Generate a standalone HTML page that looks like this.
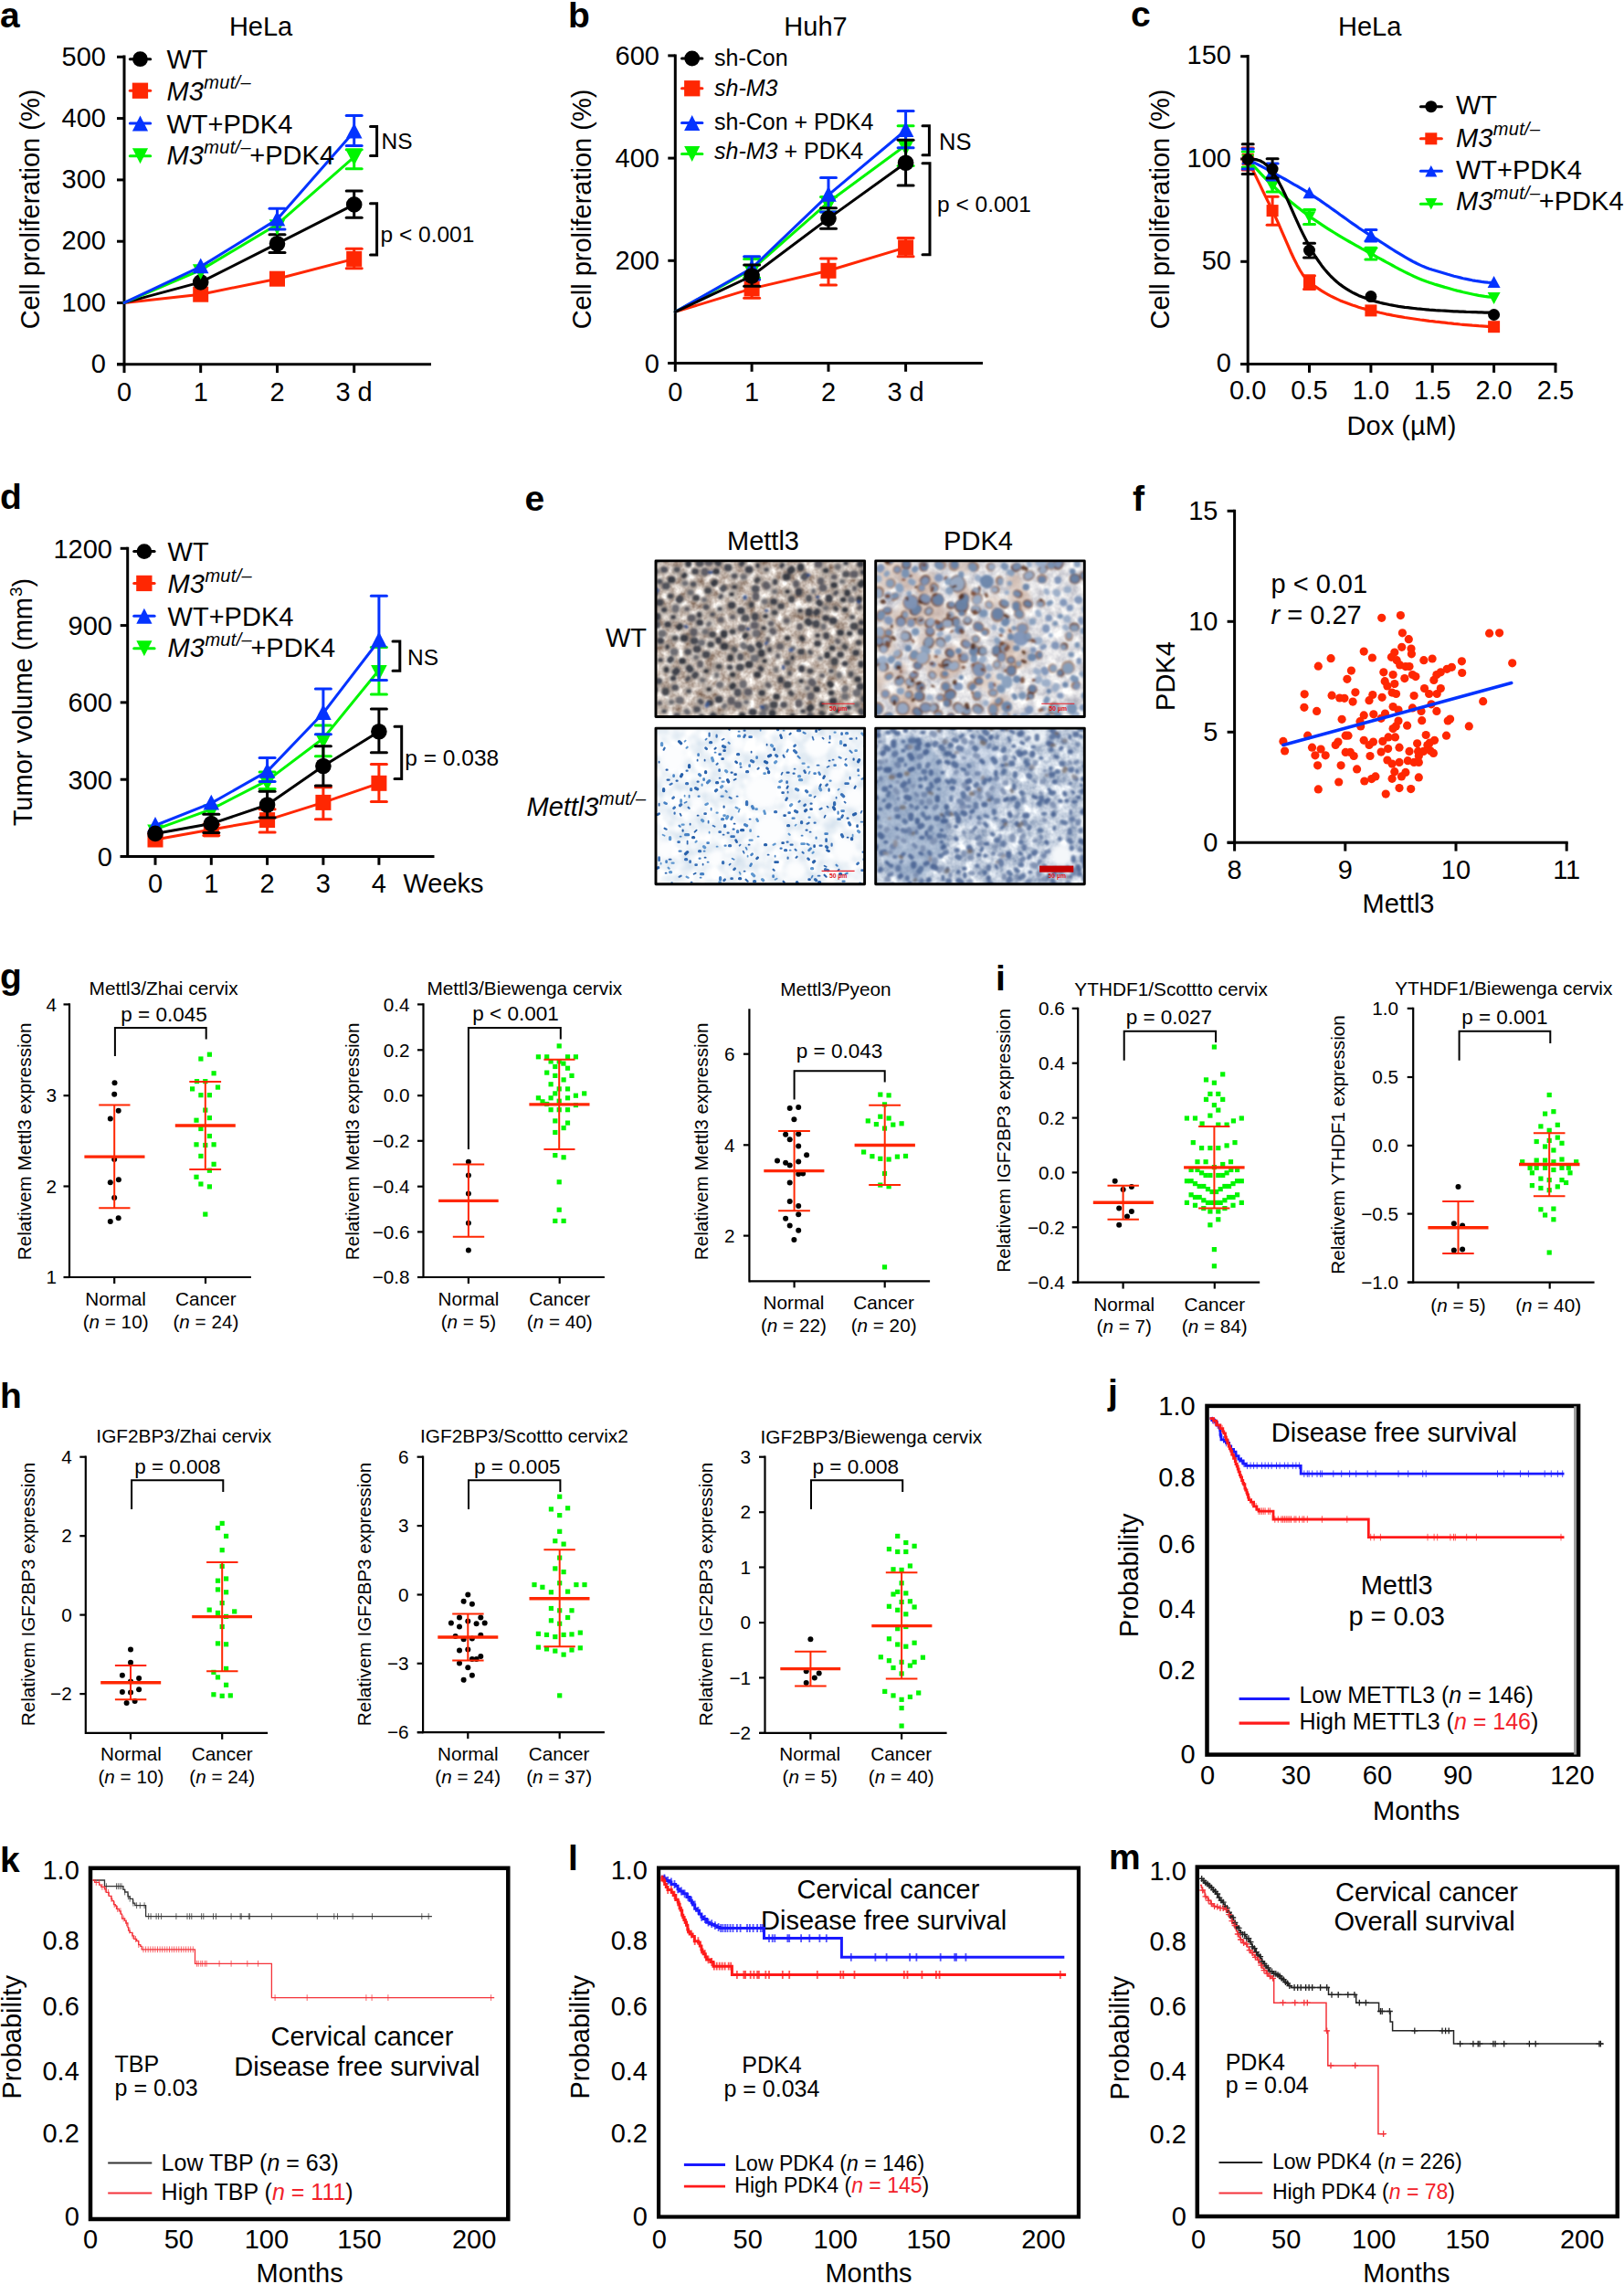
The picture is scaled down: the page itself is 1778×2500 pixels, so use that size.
<!DOCTYPE html>
<html><head><meta charset="utf-8"><title>Figure</title>
<style>html,body{margin:0;padding:0;background:#fff}svg{display:block}text{font-family:"Liberation Sans",Arial,Helvetica,sans-serif}</style></head>
<body>
<svg width="1778" height="2500" viewBox="0 0 1778 2500">
<rect width="1778" height="2500" fill="#fff"/>
<g id="pa">
<text x="0" y="29.5" font-size="39" font-weight="bold">a</text>
<text x="285.6" y="39" font-size="29" text-anchor="middle">HeLa</text>
<line x1="136" y1="60.5" x2="136" y2="400.3" stroke="#000" stroke-width="3"/>
<line x1="128" y1="398.8" x2="472" y2="398.8" stroke="#000" stroke-width="3"/>
<line x1="128" y1="398.8" x2="136" y2="398.8" stroke="#000" stroke-width="3"/>
<text x="116" y="408" font-size="29" text-anchor="end">0</text>
<line x1="128" y1="331.5" x2="136" y2="331.5" stroke="#000" stroke-width="3"/>
<text x="116" y="340.7" font-size="29" text-anchor="end">100</text>
<line x1="128" y1="264.2" x2="136" y2="264.2" stroke="#000" stroke-width="3"/>
<text x="116" y="273.4" font-size="29" text-anchor="end">200</text>
<line x1="128" y1="196.9" x2="136" y2="196.9" stroke="#000" stroke-width="3"/>
<text x="116" y="206.1" font-size="29" text-anchor="end">300</text>
<line x1="128" y1="129.6" x2="136" y2="129.6" stroke="#000" stroke-width="3"/>
<text x="116" y="138.8" font-size="29" text-anchor="end">400</text>
<line x1="128" y1="62.3" x2="136" y2="62.3" stroke="#000" stroke-width="3"/>
<text x="116" y="71.5" font-size="29" text-anchor="end">500</text>
<line x1="136" y1="398.8" x2="136" y2="408.1" stroke="#000" stroke-width="3"/>
<line x1="219.7" y1="398.8" x2="219.7" y2="408.1" stroke="#000" stroke-width="3"/>
<line x1="303.5" y1="398.8" x2="303.5" y2="408.1" stroke="#000" stroke-width="3"/>
<line x1="387.7" y1="398.8" x2="387.7" y2="408.1" stroke="#000" stroke-width="3"/>
<text x="136" y="439" font-size="29" text-anchor="middle">0</text>
<text x="219.7" y="439" font-size="29" text-anchor="middle">1</text>
<text x="303.5" y="439" font-size="29" text-anchor="middle">2</text>
<text x="387.6" y="439" font-size="29" text-anchor="middle">3 d</text>
<text x="43" y="229" font-size="29" text-anchor="middle" transform="rotate(-90 43 229)">Cell proliferation (%)</text>
<polyline points="136,331.4 219.7,322.2 303.5,305.2 387.7,283.4" fill="none" stroke="#FF2702" stroke-width="3" stroke-linejoin="round" stroke-linecap="round"/>
<line x1="387.7" y1="272.3" x2="387.7" y2="293.7" stroke="#FF2702" stroke-width="3"/>
<line x1="379.2" y1="272.3" x2="396.2" y2="272.3" stroke="#FF2702" stroke-width="3" stroke-linecap="round"/>
<line x1="379.2" y1="293.7" x2="396.2" y2="293.7" stroke="#FF2702" stroke-width="3" stroke-linecap="round"/>
<line x1="303.5" y1="300" x2="303.5" y2="310.5" stroke="#FF2702" stroke-width="3"/>
<line x1="303.5" y1="300" x2="303.5" y2="300" stroke="#FF2702" stroke-width="3" stroke-linecap="round"/>
<line x1="303.5" y1="310.5" x2="303.5" y2="310.5" stroke="#FF2702" stroke-width="3" stroke-linecap="round"/>
<rect x="211.2" y="313.7" width="17" height="17" fill="#FF2702"/>
<rect x="295" y="296.7" width="17" height="17" fill="#FF2702"/>
<rect x="379.2" y="274.9" width="17" height="17" fill="#FF2702"/>
<polyline points="136,331.4 219.7,308.9 303.5,266.7 387.7,223.9" fill="none" stroke="#000" stroke-width="3" stroke-linejoin="round" stroke-linecap="round"/>
<line x1="387.7" y1="209" x2="387.7" y2="238.3" stroke="#000" stroke-width="3"/>
<line x1="379.2" y1="209" x2="396.2" y2="209" stroke="#000" stroke-width="3" stroke-linecap="round"/>
<line x1="379.2" y1="238.3" x2="396.2" y2="238.3" stroke="#000" stroke-width="3" stroke-linecap="round"/>
<line x1="303.5" y1="256.8" x2="303.5" y2="276.4" stroke="#000" stroke-width="3"/>
<line x1="295" y1="256.8" x2="312" y2="256.8" stroke="#000" stroke-width="3" stroke-linecap="round"/>
<line x1="295" y1="276.4" x2="312" y2="276.4" stroke="#000" stroke-width="3" stroke-linecap="round"/>
<circle cx="219.7" cy="308.9" r="8.8" fill="#000"/>
<circle cx="303.5" cy="266.7" r="8.8" fill="#000"/>
<circle cx="387.7" cy="223.9" r="8.8" fill="#000"/>
<polyline points="136,331.4 219.7,295.6 303.5,245.7 387.7,171.8" fill="none" stroke="#00F500" stroke-width="3" stroke-linejoin="round" stroke-linecap="round"/>
<line x1="387.7" y1="163.8" x2="387.7" y2="184.7" stroke="#00F500" stroke-width="3"/>
<line x1="379.2" y1="163.8" x2="396.2" y2="163.8" stroke="#00F500" stroke-width="3" stroke-linecap="round"/>
<line x1="379.2" y1="184.7" x2="396.2" y2="184.7" stroke="#00F500" stroke-width="3" stroke-linecap="round"/>
<line x1="303.5" y1="240" x2="303.5" y2="255" stroke="#00F500" stroke-width="3"/>
<line x1="303.5" y1="240" x2="303.5" y2="240" stroke="#00F500" stroke-width="3" stroke-linecap="round"/>
<line x1="303.5" y1="255" x2="303.5" y2="255" stroke="#00F500" stroke-width="3" stroke-linecap="round"/>
<polygon points="219.7,306 210.9,289.2 228.5,289.2" fill="#00F500"/>
<polygon points="303.5,257.1 294.7,240.3 312.3,240.3" fill="#00F500"/>
<polygon points="387.7,181.2 378.9,164.4 396.5,164.4" fill="#00F500"/>
<polyline points="136,331.4 219.7,291.9 303.5,240.1 387.7,144.1" fill="none" stroke="#0433FF" stroke-width="3" stroke-linejoin="round" stroke-linecap="round"/>
<line x1="387.7" y1="126.5" x2="387.7" y2="159.6" stroke="#0433FF" stroke-width="3"/>
<line x1="379.2" y1="126.5" x2="396.2" y2="126.5" stroke="#0433FF" stroke-width="3" stroke-linecap="round"/>
<line x1="379.2" y1="159.6" x2="396.2" y2="159.6" stroke="#0433FF" stroke-width="3" stroke-linecap="round"/>
<line x1="303.5" y1="228.3" x2="303.5" y2="251" stroke="#0433FF" stroke-width="3"/>
<line x1="295" y1="228.3" x2="312" y2="228.3" stroke="#0433FF" stroke-width="3" stroke-linecap="round"/>
<line x1="295" y1="251" x2="312" y2="251" stroke="#0433FF" stroke-width="3" stroke-linecap="round"/>
<polygon points="219.7,282.5 210.9,299.3 228.5,299.3" fill="#0433FF"/>
<polygon points="303.5,230.7 294.7,247.5 312.3,247.5" fill="#0433FF"/>
<polygon points="387.7,134.7 378.9,151.5 396.5,151.5" fill="#0433FF"/>
<line x1="142.3" y1="64.7" x2="164.7" y2="64.7" stroke="#000" stroke-width="3" stroke-linecap="round"/>
<circle cx="153.5" cy="64.7" r="8.4" fill="#000"/>
<line x1="142.3" y1="99.3" x2="164.7" y2="99.3" stroke="#FF2702" stroke-width="3" stroke-linecap="round"/>
<rect x="144.8" y="90.6" width="17.3" height="17.3" fill="#FF2702"/>
<line x1="142.3" y1="134.9" x2="164.7" y2="134.9" stroke="#0433FF" stroke-width="3" stroke-linecap="round"/>
<polygon points="153.5,126.4 144.9,143.4 162.1,143.4" fill="#0433FF"/>
<line x1="142.3" y1="170.8" x2="164.7" y2="170.8" stroke="#00F500" stroke-width="3" stroke-linecap="round"/>
<polygon points="153.5,179.3 144.9,162.3 162.1,162.3" fill="#00F500"/>
<text x="182.5" y="74.5" font-size="29">WT</text>
<text x="182.5" y="109.5" font-size="29"><tspan font-style="italic">M3</tspan><tspan font-style="italic" font-size="20" dy="-12.2" dx="0.5" letter-spacing="0.3">mut/–</tspan></text>
<text x="182.5" y="146" font-size="29">WT+PDK4</text>
<text x="182.5" y="180.2" font-size="29"><tspan font-style="italic">M3</tspan><tspan font-style="italic" font-size="20" dy="-12.2" dx="0.5" letter-spacing="0.3">mut/–</tspan><tspan dy="12.2" dx="-1.5">+PDK4</tspan></text>
<polyline points="405.5,138.5 412.6,138.5 412.6,170.5 405.5,170.5" fill="none" stroke="#000" stroke-width="3" stroke-linejoin="miter" stroke-linecap="round"/>
<text x="417.5" y="162.5" font-size="24.5">NS</text>
<polyline points="405.5,222.8 412.6,222.8 412.6,278.9 405.5,278.9" fill="none" stroke="#000" stroke-width="3" stroke-linejoin="miter" stroke-linecap="round"/>
<text x="416.5" y="264.5" font-size="24.5">p &lt; 0.001</text>
</g>
<g id="pb">
<text x="622" y="29.5" font-size="39" font-weight="bold">b</text>
<text x="893" y="39" font-size="29" text-anchor="middle">Huh7</text>
<line x1="739.3" y1="59.5" x2="739.3" y2="399" stroke="#000" stroke-width="3"/>
<line x1="731.3" y1="397.5" x2="1076" y2="397.5" stroke="#000" stroke-width="3"/>
<line x1="731.3" y1="397.5" x2="739.3" y2="397.5" stroke="#000" stroke-width="3"/>
<text x="722" y="407.5" font-size="29" text-anchor="end">0</text>
<line x1="731.3" y1="285.3" x2="739.3" y2="285.3" stroke="#000" stroke-width="3"/>
<text x="722" y="295.3" font-size="29" text-anchor="end">200</text>
<line x1="731.3" y1="173.1" x2="739.3" y2="173.1" stroke="#000" stroke-width="3"/>
<text x="722" y="183.1" font-size="29" text-anchor="end">400</text>
<line x1="731.3" y1="60.9" x2="739.3" y2="60.9" stroke="#000" stroke-width="3"/>
<text x="722" y="70.9" font-size="29" text-anchor="end">600</text>
<line x1="739.3" y1="397.5" x2="739.3" y2="406.8" stroke="#000" stroke-width="3"/>
<line x1="823.1" y1="397.5" x2="823.1" y2="406.8" stroke="#000" stroke-width="3"/>
<line x1="907" y1="397.5" x2="907" y2="406.8" stroke="#000" stroke-width="3"/>
<line x1="991.6" y1="397.5" x2="991.6" y2="406.8" stroke="#000" stroke-width="3"/>
<text x="739.3" y="439" font-size="29" text-anchor="middle">0</text>
<text x="823.1" y="439" font-size="29" text-anchor="middle">1</text>
<text x="907" y="439" font-size="29" text-anchor="middle">2</text>
<text x="991.6" y="439" font-size="29" text-anchor="middle">3 d</text>
<text x="647" y="229" font-size="29" text-anchor="middle" transform="rotate(-90 647 229)">Cell proliferation (%)</text>
<polyline points="739.3,341.4 823.1,315.9 907,296.3 991.6,270.9" fill="none" stroke="#FF2702" stroke-width="3" stroke-linejoin="round" stroke-linecap="round"/>
<line x1="823.1" y1="306" x2="823.1" y2="326.2" stroke="#FF2702" stroke-width="3"/>
<line x1="814.6" y1="306" x2="831.6" y2="306" stroke="#FF2702" stroke-width="3" stroke-linecap="round"/>
<line x1="814.6" y1="326.2" x2="831.6" y2="326.2" stroke="#FF2702" stroke-width="3" stroke-linecap="round"/>
<line x1="907" y1="283" x2="907" y2="311.9" stroke="#FF2702" stroke-width="3"/>
<line x1="898.5" y1="283" x2="915.5" y2="283" stroke="#FF2702" stroke-width="3" stroke-linecap="round"/>
<line x1="898.5" y1="311.9" x2="915.5" y2="311.9" stroke="#FF2702" stroke-width="3" stroke-linecap="round"/>
<line x1="991.6" y1="260.4" x2="991.6" y2="280.8" stroke="#FF2702" stroke-width="3"/>
<line x1="983.1" y1="260.4" x2="1000.1" y2="260.4" stroke="#FF2702" stroke-width="3" stroke-linecap="round"/>
<line x1="983.1" y1="280.8" x2="1000.1" y2="280.8" stroke="#FF2702" stroke-width="3" stroke-linecap="round"/>
<rect x="814.6" y="307.4" width="17" height="17" fill="#FF2702"/>
<rect x="898.5" y="287.8" width="17" height="17" fill="#FF2702"/>
<rect x="983.1" y="262.4" width="17" height="17" fill="#FF2702"/>
<polyline points="739.3,341.4 823.1,295 907,221.3 991.6,159" fill="none" stroke="#00F500" stroke-width="3" stroke-linejoin="round" stroke-linecap="round"/>
<line x1="823.1" y1="283.6" x2="823.1" y2="304" stroke="#00F500" stroke-width="3"/>
<line x1="814.6" y1="283.6" x2="831.6" y2="283.6" stroke="#00F500" stroke-width="3" stroke-linecap="round"/>
<line x1="814.6" y1="304" x2="831.6" y2="304" stroke="#00F500" stroke-width="3" stroke-linecap="round"/>
<line x1="907" y1="215.6" x2="907" y2="232" stroke="#00F500" stroke-width="3"/>
<line x1="898.5" y1="215.6" x2="915.5" y2="215.6" stroke="#00F500" stroke-width="3" stroke-linecap="round"/>
<line x1="898.5" y1="232" x2="915.5" y2="232" stroke="#00F500" stroke-width="3" stroke-linecap="round"/>
<line x1="991.6" y1="137.7" x2="991.6" y2="181.6" stroke="#00F500" stroke-width="3"/>
<line x1="983.1" y1="137.7" x2="1000.1" y2="137.7" stroke="#00F500" stroke-width="3" stroke-linecap="round"/>
<line x1="983.1" y1="181.6" x2="1000.1" y2="181.6" stroke="#00F500" stroke-width="3" stroke-linecap="round"/>
<polygon points="823.1,306.4 814.3,289.6 831.9,289.6" fill="#00F500"/>
<polygon points="907,232.7 898.2,215.9 915.8,215.9" fill="#00F500"/>
<polygon points="991.6,170.4 982.8,153.6 1000.4,153.6" fill="#00F500"/>
<polyline points="739.3,341.4 823.1,293.5 907,213.4 991.6,142.5" fill="none" stroke="#0433FF" stroke-width="3" stroke-linejoin="round" stroke-linecap="round"/>
<line x1="823.1" y1="280.8" x2="823.1" y2="306" stroke="#0433FF" stroke-width="3"/>
<line x1="814.6" y1="280.8" x2="831.6" y2="280.8" stroke="#0433FF" stroke-width="3" stroke-linecap="round"/>
<line x1="814.6" y1="306" x2="831.6" y2="306" stroke="#0433FF" stroke-width="3" stroke-linecap="round"/>
<line x1="907" y1="194.4" x2="907" y2="232" stroke="#0433FF" stroke-width="3"/>
<line x1="898.5" y1="194.4" x2="915.5" y2="194.4" stroke="#0433FF" stroke-width="3" stroke-linecap="round"/>
<line x1="898.5" y1="232" x2="915.5" y2="232" stroke="#0433FF" stroke-width="3" stroke-linecap="round"/>
<line x1="991.6" y1="121.6" x2="991.6" y2="161.8" stroke="#0433FF" stroke-width="3"/>
<line x1="983.1" y1="121.6" x2="1000.1" y2="121.6" stroke="#0433FF" stroke-width="3" stroke-linecap="round"/>
<line x1="983.1" y1="161.8" x2="1000.1" y2="161.8" stroke="#0433FF" stroke-width="3" stroke-linecap="round"/>
<polygon points="823.1,284.1 814.3,300.9 831.9,300.9" fill="#0433FF"/>
<polygon points="907,204 898.2,220.8 915.8,220.8" fill="#0433FF"/>
<polygon points="991.6,133.1 982.8,149.9 1000.4,149.9" fill="#0433FF"/>
<polyline points="739.3,341.4 823.1,302 907,239.1 991.6,178.2" fill="none" stroke="#000" stroke-width="3" stroke-linejoin="round" stroke-linecap="round"/>
<line x1="823.1" y1="290.1" x2="823.1" y2="313.3" stroke="#000" stroke-width="3"/>
<line x1="814.6" y1="290.1" x2="831.6" y2="290.1" stroke="#000" stroke-width="3" stroke-linecap="round"/>
<line x1="814.6" y1="313.3" x2="831.6" y2="313.3" stroke="#000" stroke-width="3" stroke-linecap="round"/>
<line x1="907" y1="227.8" x2="907" y2="250.2" stroke="#000" stroke-width="3"/>
<line x1="898.5" y1="227.8" x2="915.5" y2="227.8" stroke="#000" stroke-width="3" stroke-linecap="round"/>
<line x1="898.5" y1="250.2" x2="915.5" y2="250.2" stroke="#000" stroke-width="3" stroke-linecap="round"/>
<line x1="991.6" y1="153.3" x2="991.6" y2="202.9" stroke="#000" stroke-width="3"/>
<line x1="983.1" y1="153.3" x2="1000.1" y2="153.3" stroke="#000" stroke-width="3" stroke-linecap="round"/>
<line x1="983.1" y1="202.9" x2="1000.1" y2="202.9" stroke="#000" stroke-width="3" stroke-linecap="round"/>
<circle cx="823.1" cy="302" r="8.8" fill="#000"/>
<circle cx="907" cy="239.1" r="8.8" fill="#000"/>
<circle cx="991.6" cy="178.2" r="8.8" fill="#000"/>
<line x1="746.5" y1="64" x2="768.9" y2="64" stroke="#000" stroke-width="3" stroke-linecap="round"/>
<circle cx="757.7" cy="64" r="8.4" fill="#000"/>
<line x1="746.5" y1="96.8" x2="768.9" y2="96.8" stroke="#FF2702" stroke-width="3" stroke-linecap="round"/>
<rect x="749.1" y="88.1" width="17.3" height="17.3" fill="#FF2702"/>
<line x1="746.5" y1="134.6" x2="768.9" y2="134.6" stroke="#0433FF" stroke-width="3" stroke-linecap="round"/>
<polygon points="757.7,126.1 749.1,143.1 766.3,143.1" fill="#0433FF"/>
<line x1="746.5" y1="168.4" x2="768.9" y2="168.4" stroke="#00F500" stroke-width="3" stroke-linecap="round"/>
<polygon points="757.7,176.9 749.1,159.9 766.3,159.9" fill="#00F500"/>
<text x="782" y="72" font-size="25">sh-Con</text>
<text x="782" y="105" font-size="25" font-style="italic">sh-M3</text>
<text x="782" y="142" font-size="25">sh-Con + PDK4</text>
<text x="782" y="174" font-size="25"><tspan font-style="italic">sh-M3</tspan> + PDK4</text>
<polyline points="1010,137.7 1017.4,137.7 1017.4,169.7 1010,169.7" fill="none" stroke="#000" stroke-width="3" stroke-linejoin="miter" stroke-linecap="round"/>
<text x="1028" y="164" font-size="25.5">NS</text>
<polyline points="1010,178.8 1018,178.8 1018,278.8 1010,278.8" fill="none" stroke="#000" stroke-width="3" stroke-linejoin="miter" stroke-linecap="round"/>
<text x="1026" y="232" font-size="24.5">p &lt; 0.001</text>
</g>
<g id="pc">
<text x="1238" y="28.5" font-size="39" font-weight="bold">c</text>
<text x="1499.7" y="39" font-size="29" text-anchor="middle">HeLa</text>
<line x1="1366.2" y1="60" x2="1366.2" y2="400.1" stroke="#000" stroke-width="3"/>
<line x1="1358.2" y1="398.6" x2="1704.4" y2="398.6" stroke="#000" stroke-width="3"/>
<line x1="1358.2" y1="398.6" x2="1366.2" y2="398.6" stroke="#000" stroke-width="3"/>
<text x="1348" y="407.1" font-size="29" text-anchor="end">0</text>
<line x1="1358.2" y1="286.3" x2="1366.2" y2="286.3" stroke="#000" stroke-width="3"/>
<text x="1348" y="294.8" font-size="29" text-anchor="end">50</text>
<line x1="1358.2" y1="174" x2="1366.2" y2="174" stroke="#000" stroke-width="3"/>
<text x="1348" y="182.5" font-size="29" text-anchor="end">100</text>
<line x1="1358.2" y1="61.7" x2="1366.2" y2="61.7" stroke="#000" stroke-width="3"/>
<text x="1348" y="70.2" font-size="29" text-anchor="end">150</text>
<line x1="1366.2" y1="398.6" x2="1366.2" y2="407.9" stroke="#000" stroke-width="3"/>
<text x="1366.2" y="437" font-size="29" text-anchor="middle">0.0</text>
<line x1="1433.5" y1="398.6" x2="1433.5" y2="407.9" stroke="#000" stroke-width="3"/>
<text x="1433.5" y="437" font-size="29" text-anchor="middle">0.5</text>
<line x1="1500.9" y1="398.6" x2="1500.9" y2="407.9" stroke="#000" stroke-width="3"/>
<text x="1500.9" y="437" font-size="29" text-anchor="middle">1.0</text>
<line x1="1568.2" y1="398.6" x2="1568.2" y2="407.9" stroke="#000" stroke-width="3"/>
<text x="1568.2" y="437" font-size="29" text-anchor="middle">1.5</text>
<line x1="1635.6" y1="398.6" x2="1635.6" y2="407.9" stroke="#000" stroke-width="3"/>
<text x="1635.6" y="437" font-size="29" text-anchor="middle">2.0</text>
<line x1="1703" y1="398.6" x2="1703" y2="407.9" stroke="#000" stroke-width="3"/>
<text x="1703" y="437" font-size="29" text-anchor="middle">2.5</text>
<text x="1534.5" y="476" font-size="29" text-anchor="middle">Dox (µM)</text>
<text x="1279.5" y="229" font-size="29" text-anchor="middle" transform="rotate(-90 1279.5 229)">Cell proliferation (%)</text>
<polyline points="1366.2,174.4 1369.6,181.6 1372.9,188.8 1376.3,195.9 1379.7,202.9 1383,209.9 1386.4,216.9 1389.8,223.8 1393.1,230.6 1396.5,237.6 1399.9,245.1 1403.2,252.8 1406.6,260.6 1410,268.4 1413.3,276 1416.7,283.2 1420.1,289.9 1423.4,296 1426.8,301.3 1430.2,305.7 1433.5,308.9 1436.9,311.5 1440.3,313.9 1443.7,316.2 1447,318.3 1450.4,320.4 1453.8,322.3 1457.1,324.1 1460.5,325.8 1463.9,327.4 1467.2,328.9 1470.6,330.3 1474,331.6 1477.3,332.8 1480.7,334 1484.1,335.1 1487.4,336.2 1490.8,337.2 1494.2,338.1 1497.5,339 1500.9,339.9 1504.3,340.7 1507.6,341.5 1511,342.3 1514.4,343 1517.7,343.8 1521.1,344.4 1524.5,345.1 1527.8,345.7 1531.2,346.3 1534.6,346.9 1537.9,347.5 1541.3,348 1544.7,348.5 1548,349 1551.4,349.5 1554.8,350 1558.1,350.4 1561.5,350.8 1564.9,351.3 1568.2,351.7 1571.6,352.1 1575,352.4 1578.4,352.8 1581.7,353.2 1585.1,353.6 1588.5,353.9 1591.8,354.3 1595.2,354.6 1598.6,355 1601.9,355.3 1605.3,355.6 1608.7,355.9 1612,356.2 1615.4,356.4 1618.8,356.7 1622.1,356.9 1625.5,357.1 1628.9,357.3 1632.2,357.5 1635.6,357.7" fill="none" stroke="#FF2702" stroke-width="3.2" stroke-linejoin="round" stroke-linecap="round"/>
<line x1="1366.2" y1="162" x2="1366.2" y2="186" stroke="#FF2702" stroke-width="3"/>
<line x1="1360.2" y1="162" x2="1372.2" y2="162" stroke="#FF2702" stroke-width="3" stroke-linecap="round"/>
<line x1="1360.2" y1="186" x2="1372.2" y2="186" stroke="#FF2702" stroke-width="3" stroke-linecap="round"/>
<line x1="1393.1" y1="215.3" x2="1393.1" y2="246.3" stroke="#FF2702" stroke-width="3"/>
<line x1="1387.1" y1="215.3" x2="1399.1" y2="215.3" stroke="#FF2702" stroke-width="3" stroke-linecap="round"/>
<line x1="1387.1" y1="246.3" x2="1399.1" y2="246.3" stroke="#FF2702" stroke-width="3" stroke-linecap="round"/>
<line x1="1433.5" y1="301.7" x2="1433.5" y2="316.5" stroke="#FF2702" stroke-width="3"/>
<line x1="1427.5" y1="301.7" x2="1439.5" y2="301.7" stroke="#FF2702" stroke-width="3" stroke-linecap="round"/>
<line x1="1427.5" y1="316.5" x2="1439.5" y2="316.5" stroke="#FF2702" stroke-width="3" stroke-linecap="round"/>
<rect x="1359.7" y="167.9" width="13" height="13" fill="#FF2702"/>
<rect x="1386.6" y="224.1" width="13" height="13" fill="#FF2702"/>
<rect x="1427" y="302.4" width="13" height="13" fill="#FF2702"/>
<rect x="1494.4" y="333.4" width="13" height="13" fill="#FF2702"/>
<rect x="1629.1" y="351.2" width="13" height="13" fill="#FF2702"/>
<polyline points="1366.2,174.4 1369.6,178.2 1372.9,182 1376.3,185.7 1379.7,189.3 1383,192.9 1386.4,196.3 1389.8,199.7 1393.1,202.9 1396.5,206 1399.9,209.1 1403.2,212.2 1406.6,215.2 1410,218.1 1413.3,221 1416.7,223.8 1420.1,226.5 1423.4,229.1 1426.8,231.7 1430.2,234.3 1433.5,236.7 1436.9,239.1 1440.3,241.4 1443.7,243.7 1447,245.9 1450.4,248.1 1453.8,250.3 1457.1,252.4 1460.5,254.5 1463.9,256.6 1467.2,258.6 1470.6,260.6 1474,262.6 1477.3,264.5 1480.7,266.4 1484.1,268.3 1487.4,270.2 1490.8,272.1 1494.2,273.9 1497.5,275.8 1500.9,277.6 1504.3,279.4 1507.6,281.3 1511,283.1 1514.4,285 1517.7,286.9 1521.1,288.7 1524.5,290.5 1527.8,292.4 1531.2,294.2 1534.6,295.9 1537.9,297.6 1541.3,299.3 1544.7,300.9 1548,302.5 1551.4,304 1554.8,305.4 1558.1,306.8 1561.5,308.1 1564.9,309.2 1568.2,310.3 1571.6,311.4 1575,312.4 1578.4,313.4 1581.7,314.4 1585.1,315.3 1588.5,316.3 1591.8,317.2 1595.2,318.1 1598.6,318.9 1601.9,319.8 1605.3,320.5 1608.7,321.3 1612,322 1615.4,322.7 1618.8,323.3 1622.1,323.8 1625.5,324.4 1628.9,324.8 1632.2,325.2 1635.6,325.6" fill="none" stroke="#00F500" stroke-width="3.2" stroke-linejoin="round" stroke-linecap="round"/>
<line x1="1366.2" y1="166" x2="1366.2" y2="183" stroke="#00F500" stroke-width="3"/>
<line x1="1360.2" y1="166" x2="1372.2" y2="166" stroke="#00F500" stroke-width="3" stroke-linecap="round"/>
<line x1="1360.2" y1="183" x2="1372.2" y2="183" stroke="#00F500" stroke-width="3" stroke-linecap="round"/>
<line x1="1393.1" y1="194" x2="1393.1" y2="210" stroke="#00F500" stroke-width="3"/>
<line x1="1387.1" y1="194" x2="1399.1" y2="194" stroke="#00F500" stroke-width="3" stroke-linecap="round"/>
<line x1="1387.1" y1="210" x2="1399.1" y2="210" stroke="#00F500" stroke-width="3" stroke-linecap="round"/>
<line x1="1433.5" y1="229.6" x2="1433.5" y2="245.6" stroke="#00F500" stroke-width="3"/>
<line x1="1427.5" y1="229.6" x2="1439.5" y2="229.6" stroke="#00F500" stroke-width="3" stroke-linecap="round"/>
<line x1="1427.5" y1="245.6" x2="1439.5" y2="245.6" stroke="#00F500" stroke-width="3" stroke-linecap="round"/>
<line x1="1500.9" y1="271.2" x2="1500.9" y2="284" stroke="#00F500" stroke-width="3"/>
<line x1="1494.9" y1="271.2" x2="1506.9" y2="271.2" stroke="#00F500" stroke-width="3" stroke-linecap="round"/>
<line x1="1494.9" y1="284" x2="1506.9" y2="284" stroke="#00F500" stroke-width="3" stroke-linecap="round"/>
<polygon points="1366.2,181.9 1359.2,168.9 1373.2,168.9" fill="#00F500"/>
<polygon points="1393.1,210.4 1386.1,197.4 1400.1,197.4" fill="#00F500"/>
<polygon points="1433.5,244.2 1426.5,231.2 1440.5,231.2" fill="#00F500"/>
<polygon points="1500.9,285.1 1493.9,272.1 1507.9,272.1" fill="#00F500"/>
<polygon points="1635.6,333.1 1628.6,320.1 1642.6,320.1" fill="#00F500"/>
<polyline points="1366.2,174.4 1369.6,176.1 1372.9,177.9 1376.3,179.6 1379.7,181.4 1383,183.1 1386.4,184.9 1389.8,186.8 1393.1,188.6 1396.5,190.4 1399.9,192.3 1403.2,194.2 1406.6,196 1410,197.9 1413.3,199.8 1416.7,201.8 1420.1,203.7 1423.4,205.7 1426.8,207.7 1430.2,209.7 1433.5,211.8 1436.9,213.9 1440.3,216.1 1443.7,218.3 1447,220.6 1450.4,223 1453.8,225.3 1457.1,227.7 1460.5,230.1 1463.9,232.5 1467.2,235 1470.6,237.4 1474,239.8 1477.3,242.2 1480.7,244.6 1484.1,246.9 1487.4,249.3 1490.8,251.5 1494.2,253.7 1497.5,255.9 1500.9,258 1504.3,260.1 1507.6,262.2 1511,264.3 1514.4,266.5 1517.7,268.7 1521.1,270.8 1524.5,273 1527.8,275.1 1531.2,277.2 1534.6,279.2 1537.9,281.2 1541.3,283.1 1544.7,285 1548,286.8 1551.4,288.5 1554.8,290.1 1558.1,291.6 1561.5,292.9 1564.9,294.2 1568.2,295.3 1571.6,296.3 1575,297.3 1578.4,298.3 1581.7,299.3 1585.1,300.3 1588.5,301.2 1591.8,302.2 1595.2,303 1598.6,303.9 1601.9,304.7 1605.3,305.4 1608.7,306.1 1612,306.8 1615.4,307.4 1618.8,307.9 1622.1,308.4 1625.5,308.8 1628.9,309.2 1632.2,309.4 1635.6,309.6" fill="none" stroke="#0433FF" stroke-width="3.2" stroke-linejoin="round" stroke-linecap="round"/>
<line x1="1366.2" y1="163" x2="1366.2" y2="185" stroke="#0433FF" stroke-width="3"/>
<line x1="1360.2" y1="163" x2="1372.2" y2="163" stroke="#0433FF" stroke-width="3" stroke-linecap="round"/>
<line x1="1360.2" y1="185" x2="1372.2" y2="185" stroke="#0433FF" stroke-width="3" stroke-linecap="round"/>
<line x1="1393.1" y1="179" x2="1393.1" y2="197" stroke="#0433FF" stroke-width="3"/>
<line x1="1387.1" y1="179" x2="1399.1" y2="179" stroke="#0433FF" stroke-width="3" stroke-linecap="round"/>
<line x1="1387.1" y1="197" x2="1399.1" y2="197" stroke="#0433FF" stroke-width="3" stroke-linecap="round"/>
<line x1="1500.9" y1="251.6" x2="1500.9" y2="264.1" stroke="#0433FF" stroke-width="3"/>
<line x1="1494.9" y1="251.6" x2="1506.9" y2="251.6" stroke="#0433FF" stroke-width="3" stroke-linecap="round"/>
<line x1="1494.9" y1="264.1" x2="1506.9" y2="264.1" stroke="#0433FF" stroke-width="3" stroke-linecap="round"/>
<polygon points="1366.2,166.9 1359.2,179.9 1373.2,179.9" fill="#0433FF"/>
<polygon points="1393.1,181.1 1386.1,194.1 1400.1,194.1" fill="#0433FF"/>
<polygon points="1433.5,204.3 1426.5,217.3 1440.5,217.3" fill="#0433FF"/>
<polygon points="1500.9,250.5 1493.9,263.5 1507.9,263.5" fill="#0433FF"/>
<polygon points="1635.6,302.1 1628.6,315.1 1642.6,315.1" fill="#0433FF"/>
<polyline points="1366.2,174 1369.6,174 1372.9,174.3 1376.3,174.9 1379.7,176 1383,177.8 1386.4,180.4 1389.8,183.8 1393.1,188 1396.5,193.1 1399.9,198.9 1403.2,205.3 1406.6,212.3 1410,219.7 1413.3,227.2 1416.7,234.8 1420.1,242.3 1423.4,249.6 1426.8,256.6 1430.2,263.3 1433.5,269.6 1436.9,275.5 1440.3,281 1443.7,286 1447,290.7 1450.4,295 1453.8,298.9 1457.1,302.5 1460.5,305.7 1463.9,308.7 1467.2,311.4 1470.6,313.9 1474,316.1 1477.3,318.2 1480.7,320.1 1484.1,321.8 1487.4,323.4 1490.8,324.8 1494.2,326.1 1497.5,327.3 1500.9,328.4 1504.3,329.5 1507.6,330.4 1511,331.3 1514.4,332.1 1517.7,332.8 1521.1,333.5 1524.5,334.1 1527.8,334.7 1531.2,335.3 1534.6,335.8 1537.9,336.3 1541.3,336.7 1544.7,337.1 1548,337.5 1551.4,337.9 1554.8,338.2 1558.1,338.5 1561.5,338.8 1564.9,339.1 1568.2,339.3 1571.6,339.6 1575,339.8 1578.4,340 1581.7,340.2 1585.1,340.4 1588.5,340.6 1591.8,340.8 1595.2,340.9 1598.6,341.1 1601.9,341.2 1605.3,341.4 1608.7,341.5 1612,341.6 1615.4,341.7 1618.8,341.8 1622.1,341.9 1625.5,342.1 1628.9,342.1 1632.2,342.2 1635.6,342.3" fill="none" stroke="#000" stroke-width="3.2" stroke-linejoin="round" stroke-linecap="round"/>
<line x1="1366.2" y1="157.7" x2="1366.2" y2="190.4" stroke="#000" stroke-width="3"/>
<line x1="1360.2" y1="157.7" x2="1372.2" y2="157.7" stroke="#000" stroke-width="3" stroke-linecap="round"/>
<line x1="1360.2" y1="190.4" x2="1372.2" y2="190.4" stroke="#000" stroke-width="3" stroke-linecap="round"/>
<line x1="1393.1" y1="173.7" x2="1393.1" y2="195" stroke="#000" stroke-width="3"/>
<line x1="1387.1" y1="173.7" x2="1399.1" y2="173.7" stroke="#000" stroke-width="3" stroke-linecap="round"/>
<line x1="1387.1" y1="195" x2="1399.1" y2="195" stroke="#000" stroke-width="3" stroke-linecap="round"/>
<line x1="1433.5" y1="266.2" x2="1433.5" y2="281.9" stroke="#000" stroke-width="3"/>
<line x1="1427.5" y1="266.2" x2="1439.5" y2="266.2" stroke="#000" stroke-width="3" stroke-linecap="round"/>
<line x1="1427.5" y1="281.9" x2="1439.5" y2="281.9" stroke="#000" stroke-width="3" stroke-linecap="round"/>
<circle cx="1366.2" cy="174.4" r="6.5" fill="#000"/>
<circle cx="1393.1" cy="185" r="6.5" fill="#000"/>
<circle cx="1433.5" cy="274" r="6.5" fill="#000"/>
<circle cx="1500.9" cy="324.6" r="6.5" fill="#000"/>
<circle cx="1635.6" cy="344.5" r="6.5" fill="#000"/>
<line x1="1555.4" y1="116.7" x2="1578.4" y2="116.7" stroke="#000" stroke-width="3" stroke-linecap="round"/>
<circle cx="1566.8" cy="116.7" r="6.5" fill="#000"/>
<line x1="1555.4" y1="151.8" x2="1578.4" y2="151.8" stroke="#FF2702" stroke-width="3" stroke-linecap="round"/>
<rect x="1560.3" y="145.3" width="13" height="13" fill="#FF2702"/>
<line x1="1555.4" y1="187.3" x2="1578.4" y2="187.3" stroke="#0433FF" stroke-width="3" stroke-linecap="round"/>
<polygon points="1566.8,181 1560.3,193.6 1573.3,193.6" fill="#0433FF"/>
<line x1="1555.4" y1="223.3" x2="1578.4" y2="223.3" stroke="#00F500" stroke-width="3" stroke-linecap="round"/>
<polygon points="1566.8,229.6 1560.3,217 1573.3,217" fill="#00F500"/>
<text x="1594" y="125" font-size="29">WT</text>
<text x="1594" y="160.5" font-size="29"><tspan font-style="italic">M3</tspan><tspan font-style="italic" font-size="20" dy="-12.2" dx="0.5" letter-spacing="0.3">mut/–</tspan></text>
<text x="1594" y="196" font-size="29">WT+PDK4</text>
<text x="1594" y="230" font-size="29"><tspan font-style="italic">M3</tspan><tspan font-style="italic" font-size="20" dy="-12.2" dx="0.5" letter-spacing="0.3">mut/–</tspan><tspan dy="12.2" dx="-1.5">+PDK4</tspan></text>
</g>
<g id="pd">
<text x="0" y="557" font-size="39" font-weight="bold">d</text>
<line x1="139.7" y1="598.7" x2="139.7" y2="939" stroke="#000" stroke-width="3"/>
<line x1="131.7" y1="937.5" x2="475.5" y2="937.5" stroke="#000" stroke-width="3"/>
<line x1="131.7" y1="937.5" x2="139.7" y2="937.5" stroke="#000" stroke-width="3"/>
<text x="123" y="948" font-size="29" text-anchor="end">0</text>
<line x1="131.7" y1="853.2" x2="139.7" y2="853.2" stroke="#000" stroke-width="3"/>
<text x="123" y="863.7" font-size="29" text-anchor="end">300</text>
<line x1="131.7" y1="768.9" x2="139.7" y2="768.9" stroke="#000" stroke-width="3"/>
<text x="123" y="779.4" font-size="29" text-anchor="end">600</text>
<line x1="131.7" y1="684.6" x2="139.7" y2="684.6" stroke="#000" stroke-width="3"/>
<text x="123" y="695.1" font-size="29" text-anchor="end">900</text>
<line x1="131.7" y1="600.3" x2="139.7" y2="600.3" stroke="#000" stroke-width="3"/>
<text x="123" y="610.8" font-size="29" text-anchor="end">1200</text>
<line x1="170" y1="937.5" x2="170" y2="946.8" stroke="#000" stroke-width="3"/>
<line x1="231.3" y1="937.5" x2="231.3" y2="946.8" stroke="#000" stroke-width="3"/>
<line x1="292.6" y1="937.5" x2="292.6" y2="946.8" stroke="#000" stroke-width="3"/>
<line x1="353.9" y1="937.5" x2="353.9" y2="946.8" stroke="#000" stroke-width="3"/>
<line x1="414.9" y1="937.5" x2="414.9" y2="946.8" stroke="#000" stroke-width="3"/>
<text x="170" y="976.5" font-size="29" text-anchor="middle">0</text>
<text x="231.3" y="976.5" font-size="29" text-anchor="middle">1</text>
<text x="292.6" y="976.5" font-size="29" text-anchor="middle">2</text>
<text x="353.9" y="976.5" font-size="29" text-anchor="middle">3</text>
<text x="414.9" y="976.5" font-size="29" text-anchor="middle">4</text>
<text x="441.5" y="976.5" font-size="29">Weeks</text>
<text x="34.5" y="768.5" font-size="29" text-anchor="middle" transform="rotate(-90 34.5 768.5)">Tumor volume (mm<tspan font-size="19" dy="-11" dx="1">3</tspan><tspan dy="11">)</tspan></text>
<polyline points="170,919 231.3,907.9 292.6,897.6 353.9,878.4 414.9,857.3" fill="none" stroke="#FF2702" stroke-width="3" stroke-linejoin="round" stroke-linecap="round"/>
<line x1="414.9" y1="836.6" x2="414.9" y2="877.6" stroke="#FF2702" stroke-width="3"/>
<line x1="406.4" y1="836.6" x2="423.4" y2="836.6" stroke="#FF2702" stroke-width="3" stroke-linecap="round"/>
<line x1="406.4" y1="877.6" x2="423.4" y2="877.6" stroke="#FF2702" stroke-width="3" stroke-linecap="round"/>
<line x1="353.9" y1="861.7" x2="353.9" y2="896.8" stroke="#FF2702" stroke-width="3"/>
<line x1="345.4" y1="861.7" x2="362.4" y2="861.7" stroke="#FF2702" stroke-width="3" stroke-linecap="round"/>
<line x1="345.4" y1="896.8" x2="362.4" y2="896.8" stroke="#FF2702" stroke-width="3" stroke-linecap="round"/>
<line x1="292.6" y1="885.8" x2="292.6" y2="910.9" stroke="#FF2702" stroke-width="3"/>
<line x1="284.1" y1="885.8" x2="301.1" y2="885.8" stroke="#FF2702" stroke-width="3" stroke-linecap="round"/>
<line x1="284.1" y1="910.9" x2="301.1" y2="910.9" stroke="#FF2702" stroke-width="3" stroke-linecap="round"/>
<line x1="231.3" y1="902.4" x2="231.3" y2="914.6" stroke="#FF2702" stroke-width="3"/>
<line x1="222.8" y1="902.4" x2="239.8" y2="902.4" stroke="#FF2702" stroke-width="3" stroke-linecap="round"/>
<line x1="222.8" y1="914.6" x2="239.8" y2="914.6" stroke="#FF2702" stroke-width="3" stroke-linecap="round"/>
<rect x="161.5" y="910.5" width="17" height="17" fill="#FF2702"/>
<rect x="222.8" y="899.4" width="17" height="17" fill="#FF2702"/>
<rect x="284.1" y="889.1" width="17" height="17" fill="#FF2702"/>
<rect x="345.4" y="869.9" width="17" height="17" fill="#FF2702"/>
<rect x="406.4" y="848.8" width="17" height="17" fill="#FF2702"/>
<polyline points="170,907.9 231.3,885.8 292.6,854.4 353.9,808.2 414.9,733.5" fill="none" stroke="#00F500" stroke-width="3" stroke-linejoin="round" stroke-linecap="round"/>
<line x1="414.9" y1="708.4" x2="414.9" y2="760.1" stroke="#00F500" stroke-width="3"/>
<line x1="406.4" y1="708.4" x2="423.4" y2="708.4" stroke="#00F500" stroke-width="3" stroke-linecap="round"/>
<line x1="406.4" y1="760.1" x2="423.4" y2="760.1" stroke="#00F500" stroke-width="3" stroke-linecap="round"/>
<line x1="353.9" y1="794.1" x2="353.9" y2="827.8" stroke="#00F500" stroke-width="3"/>
<line x1="345.4" y1="794.1" x2="362.4" y2="794.1" stroke="#00F500" stroke-width="3" stroke-linecap="round"/>
<line x1="345.4" y1="827.8" x2="362.4" y2="827.8" stroke="#00F500" stroke-width="3" stroke-linecap="round"/>
<line x1="292.6" y1="845.1" x2="292.6" y2="863.6" stroke="#00F500" stroke-width="3"/>
<line x1="284.1" y1="845.1" x2="301.1" y2="845.1" stroke="#00F500" stroke-width="3" stroke-linecap="round"/>
<line x1="284.1" y1="863.6" x2="301.1" y2="863.6" stroke="#00F500" stroke-width="3" stroke-linecap="round"/>
<polygon points="170,919.3 161.2,902.5 178.8,902.5" fill="#00F500"/>
<polygon points="231.3,897.2 222.5,880.4 240.1,880.4" fill="#00F500"/>
<polygon points="292.6,865.8 283.8,849 301.4,849" fill="#00F500"/>
<polygon points="353.9,819.6 345.1,802.8 362.7,802.8" fill="#00F500"/>
<polygon points="414.9,744.9 406.1,728.1 423.7,728.1" fill="#00F500"/>
<polyline points="170,903.5 231.3,879.1 292.6,844.4 353.9,780.5 414.9,701" fill="none" stroke="#0433FF" stroke-width="3" stroke-linejoin="round" stroke-linecap="round"/>
<line x1="414.9" y1="652.3" x2="414.9" y2="744.6" stroke="#0433FF" stroke-width="3"/>
<line x1="406.4" y1="652.3" x2="423.4" y2="652.3" stroke="#0433FF" stroke-width="3" stroke-linecap="round"/>
<line x1="406.4" y1="744.6" x2="423.4" y2="744.6" stroke="#0433FF" stroke-width="3" stroke-linecap="round"/>
<line x1="353.9" y1="753.9" x2="353.9" y2="803.7" stroke="#0433FF" stroke-width="3"/>
<line x1="345.4" y1="753.9" x2="362.4" y2="753.9" stroke="#0433FF" stroke-width="3" stroke-linecap="round"/>
<line x1="345.4" y1="803.7" x2="362.4" y2="803.7" stroke="#0433FF" stroke-width="3" stroke-linecap="round"/>
<line x1="292.6" y1="829.6" x2="292.6" y2="855.5" stroke="#0433FF" stroke-width="3"/>
<line x1="284.1" y1="829.6" x2="301.1" y2="829.6" stroke="#0433FF" stroke-width="3" stroke-linecap="round"/>
<line x1="284.1" y1="855.5" x2="301.1" y2="855.5" stroke="#0433FF" stroke-width="3" stroke-linecap="round"/>
<polygon points="170,894.1 161.2,910.9 178.8,910.9" fill="#0433FF"/>
<polygon points="231.3,869.7 222.5,886.5 240.1,886.5" fill="#0433FF"/>
<polygon points="292.6,835 283.8,851.8 301.4,851.8" fill="#0433FF"/>
<polygon points="353.9,771.1 345.1,787.9 362.7,787.9" fill="#0433FF"/>
<polygon points="414.9,691.6 406.1,708.4 423.7,708.4" fill="#0433FF"/>
<polyline points="170,912.4 231.3,901.6 292.6,881 353.9,838.5 414.9,800.8" fill="none" stroke="#000" stroke-width="3" stroke-linejoin="round" stroke-linecap="round"/>
<line x1="414.9" y1="776" x2="414.9" y2="823.7" stroke="#000" stroke-width="3"/>
<line x1="406.4" y1="776" x2="423.4" y2="776" stroke="#000" stroke-width="3" stroke-linecap="round"/>
<line x1="406.4" y1="823.7" x2="423.4" y2="823.7" stroke="#000" stroke-width="3" stroke-linecap="round"/>
<line x1="353.9" y1="816.7" x2="353.9" y2="859.9" stroke="#000" stroke-width="3"/>
<line x1="345.4" y1="816.7" x2="362.4" y2="816.7" stroke="#000" stroke-width="3" stroke-linecap="round"/>
<line x1="345.4" y1="859.9" x2="362.4" y2="859.9" stroke="#000" stroke-width="3" stroke-linecap="round"/>
<line x1="292.6" y1="866.2" x2="292.6" y2="895" stroke="#000" stroke-width="3"/>
<line x1="284.1" y1="866.2" x2="301.1" y2="866.2" stroke="#000" stroke-width="3" stroke-linecap="round"/>
<line x1="284.1" y1="895" x2="301.1" y2="895" stroke="#000" stroke-width="3" stroke-linecap="round"/>
<line x1="231.3" y1="891.3" x2="231.3" y2="911.6" stroke="#000" stroke-width="3"/>
<line x1="222.8" y1="891.3" x2="239.8" y2="891.3" stroke="#000" stroke-width="3" stroke-linecap="round"/>
<line x1="222.8" y1="911.6" x2="239.8" y2="911.6" stroke="#000" stroke-width="3" stroke-linecap="round"/>
<circle cx="170" cy="912.4" r="8.8" fill="#000"/>
<circle cx="231.3" cy="901.6" r="8.8" fill="#000"/>
<circle cx="292.6" cy="881" r="8.8" fill="#000"/>
<circle cx="353.9" cy="838.5" r="8.8" fill="#000"/>
<circle cx="414.9" cy="800.8" r="8.8" fill="#000"/>
<line x1="146.7" y1="603.6" x2="169.1" y2="603.6" stroke="#000" stroke-width="3" stroke-linecap="round"/>
<circle cx="157.9" cy="603.6" r="8.4" fill="#000"/>
<line x1="146.7" y1="638.4" x2="169.1" y2="638.4" stroke="#FF2702" stroke-width="3" stroke-linecap="round"/>
<rect x="149.2" y="629.8" width="17.3" height="17.3" fill="#FF2702"/>
<line x1="146.7" y1="674.3" x2="169.1" y2="674.3" stroke="#0433FF" stroke-width="3" stroke-linecap="round"/>
<polygon points="157.9,665.8 149.3,682.8 166.5,682.8" fill="#0433FF"/>
<line x1="146.7" y1="709.8" x2="169.1" y2="709.8" stroke="#00F500" stroke-width="3" stroke-linecap="round"/>
<polygon points="157.9,718.3 149.3,701.3 166.5,701.3" fill="#00F500"/>
<text x="183.6" y="613.5" font-size="29">WT</text>
<text x="183.6" y="649" font-size="29"><tspan font-style="italic">M3</tspan><tspan font-style="italic" font-size="20" dy="-12.2" dx="0.5" letter-spacing="0.3">mut/–</tspan></text>
<text x="183.6" y="685" font-size="29">WT+PDK4</text>
<text x="183.6" y="719" font-size="29"><tspan font-style="italic">M3</tspan><tspan font-style="italic" font-size="20" dy="-12.2" dx="0.5" letter-spacing="0.3">mut/–</tspan><tspan dy="12.2" dx="-1.5">+PDK4</tspan></text>
<polyline points="430,702.1 437.8,702.1 437.8,734.3 430,734.3" fill="none" stroke="#000" stroke-width="3" stroke-linejoin="miter" stroke-linecap="round"/>
<text x="446" y="727.6" font-size="24.5">NS</text>
<polyline points="432,795.2 439.7,795.2 439.7,852.5 432,852.5" fill="none" stroke="#000" stroke-width="3" stroke-linejoin="miter" stroke-linecap="round"/>
<text x="443.3" y="838" font-size="24.5">p = 0.038</text>
</g>
<g id="pe">
<text x="574.5" y="558.5" font-size="39" font-weight="bold">e</text>
<text x="835.5" y="601.5" font-size="29" text-anchor="middle">Mettl3</text>
<text x="1071" y="601.5" font-size="29" text-anchor="middle">PDK4</text>
<text x="708" y="708.2" font-size="29" text-anchor="end">WT</text>
<text x="576.5" y="893.3" font-size="29"><tspan font-style="italic">Mettl3</tspan><tspan font-style="italic" font-size="20" dy="-12.2" dx="0.5" letter-spacing="0.3">mut/–</tspan></text>
<defs><filter id="b1" x="-5%" y="-5%" width="110%" height="110%"><feGaussianBlur stdDeviation="0.8"/></filter><filter id="b2" x="-5%" y="-5%" width="110%" height="110%"><feGaussianBlur stdDeviation="0.55"/></filter><filter id="b3" x="-5%" y="-5%" width="110%" height="110%"><feGaussianBlur stdDeviation="2.4"/></filter><filter id="n0" x="0" y="0" width="100%" height="100%" color-interpolation-filters="sRGB"><feTurbulence type="fractalNoise" baseFrequency="0.09" numOctaves="3" seed="4"/><feColorMatrix values="0.814 0 0 0 0.395 0.941 0 0 0 0.282 1.010 0 0 0 0.211 0 0 0 0 1"/></filter><filter id="n1" x="0" y="0" width="100%" height="100%" color-interpolation-filters="sRGB"><feTurbulence type="fractalNoise" baseFrequency="0.08" numOctaves="3" seed="8"/><feColorMatrix values="0.451 0 0 0 0.661 0.441 0 0 0 0.664 0.363 0 0 0 0.715 0 0 0 0 1"/></filter><filter id="n2" x="0" y="0" width="100%" height="100%" color-interpolation-filters="sRGB"><feTurbulence type="fractalNoise" baseFrequency="0.07" numOctaves="2" seed="2"/><feColorMatrix values="0.284 0 0 0 0.801 0.196 0 0 0 0.863 0.118 0 0 0 0.918 0 0 0 0 1"/></filter><filter id="n3" x="0" y="0" width="100%" height="100%" color-interpolation-filters="sRGB"><feTurbulence type="fractalNoise" baseFrequency="0.08" numOctaves="3" seed="6"/><feColorMatrix values="0.686 0 0 0 0.433 0.598 0 0 0 0.519 0.441 0 0 0 0.656 0 0 0 0 1"/></filter><clipPath id="cpe"><rect x="1.4" y="1.4" width="228.6" height="170.6"/></clipPath>
</defs>
<g transform="translate(716.6 612.5)" clip-path="url(#cpe)" fill="none" stroke-linecap="round">
<rect width="231.4" height="173.4" filter="url(#n0)"/>
<g filter="url(#b1)">
<path d="M105 97l0 1M23 53l2 0M177 70l1 2M222 131l-1 1M60 142l-2 0M41 64l1 0M84 154l1 0M162 166l1 0M74 172l1 0M170 122l1 0M168 68l1 0M226 79l0 2M63 60l-2 1M124 137l-1 2M187 12l-1 1M219 16l1 0M223 91l1 0M93 118l1 0M160 133l-1 1M60 70l1 0M87 18l1 0M138 131l0 1M179 92l0 1M187 64l1 0M212 162l1 0M188 83l0 1M64 171l0 1M86 138l-1 0M165 18l-1 0M220 102l1 0M33 17l-2 0M145 35l1 1M120 46l1 1M55 13l-1 1M11 55l0 1M85 38l1 0M199 36l1 0M225 52l1 0M36 101l1 1M70 88l-1 0M196 28l0 1M94 106l1 1M129 168l-1 1M4 133l-1 2M109 108l2 0" stroke="#a9a19c" stroke-width="11" opacity="0.5"/>
<path d="M213 81l1 1M43 89l-1 2M151 107l0 1M1 37l-2 0M226 69l1 0M45 126l1 1M28 73l2 1M209 141l1 0M171 162l0 1M203 104l1 1M10 166l1 0M138 51l1 1M160 101l0 1M5 157l-1 2M6 110l-1 1M82 118l1 0M97 136l0 1M170 101l-1 1M20 130l-1 0M111 40l0 1M145 86l1 1M167 141l-2 1M113 6l1 2M33 26l-1 0M158 157l1 0M76 81l-1 0M151 97l2 1M103 115l1 1M27 154l1 0M174 34l-1 0M18 22l0 1M50 114l0 1M46 98l1 0M185 73l1 1M171 171l1 2M177 142l1 1M189 104l2 0M95 75l-1 1M192 136l-1 1M91 159l1 2M209 4l0 1M24 122l-1 0M215 44l-1 0M14 95l1 0M206 44l-1 1M110 62l-1 1M122 62l-1 1M200 165l1 0M96 171l0 1M13 29l0 1M118 170l-2 1M35 166l0 1" stroke="#b5ada8" stroke-width="9.5" opacity="0.5"/>
<path d="M117 102l0 1M102 145l1 2M24 11l0 1M129 78l0 1M49 69l0 2M197 111l-2 1M58 34l1 0M46 164l1 0M56 122l1 0M211 36l0 1M103 11l0 2M144 67l1 0M70 117l-2 0M32 86l1 0M201 8l1 1M146 113l1 1M215 125l1 1M195 155l1 0M221 159l0 2M45 107l1 0M180 5l-1 1M83 107l1 0M122 28l1 2M43 79l1 0M172 134l-1 0M226 5l1 1M69 3l1 1M144 19l1 0M76 95l2 0M126 98l0 1M52 132l1 0M87 30l2 0M1 142l-1 0M208 95l0 1M130 46l1 0M131 58l0 1M109 72l1 0M13 120l1 0M219 31l-2 0M39 36l0 1M113 22l1 0M137 95l1 0M21 63l1 0M12 144l1 0M130 159l-1 1M55 79l1 0M22 86l-1 0M188 53l-1 0" stroke="#9c948f" stroke-width="11" opacity="0.5"/>
<path d="M145 137l0 1M37 4l-1 1M45 42l1 0M8 81l-2 1M106 49l-2 0M184 31l1 0M31 111l1 2M71 153l-1 0M86 79l1 0M98 19l0 1M112 126l1 0M135 105l0 1M229 152l-1 1M161 86l1 0M193 146l1 0M209 16l1 0M87 98l0 2M68 126l-1 1M195 97l-2 0M73 66l0 1M132 35l-2 0M140 6l2 1M63 82l-1 2M205 24l1 0M182 23l1 0M60 157l1 1M218 73l0 1M18 156l-2 0M100 83l1 0M121 162l1 1M169 42l1 2M99 64l-1 1M66 25l-1 0M85 63l1 0M6 89l0 2M150 43l-1 0M200 89l1 0M198 53l0 1M37 144l-1 0M133 120l1 0M155 26l0 1M35 54l1 0M38 119l1 1M204 80l-2 1M216 63l0 2M161 119l1 0M202 126l1 1M3 71l-2 0M183 168l1 0M50 4l1 0M228 14l1 0M1 1l2 0" stroke="#9c948f" stroke-width="9.5" opacity="0.5"/>
<path d="M22 140l0 1M122 11l1 0M120 111l2 0M24 171l1 0M57 104l-1 0M43 27l-1 1M5 47l-1 2M183 158l0 1M142 159l1 0M5 24l1 0M50 155l-1 2M52 91l1 1M159 56l1 0M51 172l0 2M44 13l1 0M226 139l1 1M3 62l1 0M85 50l-1 1M151 171l-1 0M62 93l0 1M72 54l1 0M210 171l1 1M100 156l-1 1M117 146l0 1M15 71l1 1M91 145l-1 0M178 83l1 2M159 73l0 1M94 56l-1 1M196 19l-1 1M149 146l1 0M127 70l0 1M86 126l0 1M1 13l1 0M171 149l1 1" stroke="#b5ada8" stroke-width="11" opacity="0.5"/>
<path d="M160 8l1 0M226 166l1 0M194 122l0 2M73 40l1 0M67 13l1 1M195 67l1 2M221 146l2 1M18 109l1 0M180 47l1 1M28 43l1 1M178 57l1 0M22 101l0 1M133 150l1 0M17 40l1 0M132 24l-1 1M226 114l1 0M208 150l1 0M60 3l0 1M209 114l1 0M72 137l1 1M191 42l0 1M158 35l1 1M110 32l0 1M148 124l-1 2M124 87l0 1M208 55l1 0M116 119l1 1M194 171l-1 1M119 75l1 1M37 130l1 0M224 43l1 0M181 108l1 0M10 11l0 1M49 60l1 0M114 93l1 1M111 81l-1 0M107 167l-1 1M169 57l1 0M96 4l1 0M77 160l1 1M57 52l1 0M227 26l-2 0M150 11l1 0M55 44l0 1M76 31l1 0M183 127l-1 1M81 9l-1 1M97 94l1 0" stroke="#a9a19c" stroke-width="9.5" opacity="0.5"/>
<path d="M105 97l1 1M110 32l1 0M99 64l1 0M165 18l-1 1M91 145l0 1M13 29l-1 0M50 4l-1 0" stroke="#4d4e57" stroke-width="8" opacity="0.95"/>
<path d="M213 81l1 0M183 158l0 1M161 86l1 1M193 146l1 0M145 86l1 0M187 12l1 0M195 97l-1 0M208 55l1 0M51 172l1 0M100 83l-1 1M33 17l-1 1M13 120l0 1M206 44l1 0M86 126l-1 0" stroke="#34363f" stroke-width="6" opacity="0.95"/>
<path d="M117 102l0 1M160 8l0 1M171 162l-1 1M32 86l1 0M195 155l1 0M76 81l0 1M103 115l1 0M144 19l1 0M18 22l1 0M76 95l1 0M227 26l-1 1M150 11l-1 1M129 168l0 1M96 171l0 1" stroke="#34363f" stroke-width="8" opacity="0.95"/>
<path d="M43 89l1 0M145 137l1 0M177 70l0 1M28 43l-1 1M197 111l0 1M57 104l-1 0M5 47l1 0M93 118l1 0M226 139l-1 0M218 73l1 0M46 98l1 0M110 62l0 1M12 144l0 1M130 159l1 0M81 9l-1 0" stroke="#40424c" stroke-width="8" opacity="0.95"/>
<path d="M23 53l0 1M8 81l1 0M221 146l1 0M22 101l-1 0M97 136l0 1M121 162l-1 1M27 154l1 0M111 81l1 0M109 108l1 0M118 170l1 0" stroke="#686870" stroke-width="8" opacity="0.95"/>
<path d="M22 140l1 0M226 166l1 1M46 164l1 0M229 152l0 1M142 159l-1 0M209 16l1 0M169 42l0 1M10 11l1 0M171 171l-1 0M36 101l1 0M76 31l-1 1M94 106l0 1M3 71l0 1M4 133l1 0" stroke="#4d4e57" stroke-width="7" opacity="0.95"/>
<path d="M151 107l0 1M113 6l0 1M140 6l-1 1M159 56l1 0M119 75l1 0M160 133l1 0M212 162l1 0M126 98l0 1M87 30l1 0M1 142l0 1M178 83l1 0M14 95l0 1M21 63l-1 0" stroke="#3a3c47" stroke-width="5" opacity="0.95"/>
<path d="M37 4l0 1M67 13l1 0M222 131l1 0M31 111l-1 0M28 73l-1 1M133 150l1 0M211 36l0 1M112 126l1 0M83 107l0 1M224 43l0 1M66 25l-1 1M86 138l-1 1M177 142l1 0M189 104l0 1M192 136l1 1M204 80l-1 0M196 28l1 0" stroke="#34363f" stroke-width="7" opacity="0.95"/>
<path d="M122 11l1 0M194 122l-1 0M73 40l-1 1M10 166l1 0M74 172l1 0M170 101l1 1M63 60l1 0M148 124l0 1M37 130l-1 1M37 144l1 0M72 54l-1 0M199 36l-1 1M216 63l1 0" stroke="#4d4e57" stroke-width="5" opacity="0.95"/>
<path d="M45 42l1 0M18 109l-1 1M45 126l-1 1M58 34l1 0M138 51l1 0M160 101l1 0M63 82l1 0M44 13l1 0M69 3l1 1M150 43l0 1M188 83l0 1M62 93l-1 0" stroke="#40424c" stroke-width="7" opacity="0.95"/>
<path d="M102 145l1 0M184 31l1 0M41 64l-1 0M84 154l0 1M111 40l0 1M60 3l-1 0M219 16l-1 0M180 5l-1 0M122 28l1 1M158 157l0 1M43 79l0 1M172 134l1 1M109 72l1 0M95 75l1 0M55 13l0 1M91 159l1 0M171 149l0 1" stroke="#5b5a62" stroke-width="8" opacity="0.95"/>
<path d="M120 111l1 0M56 122l1 0M60 142l-1 0M145 35l1 0M85 38l-1 0M122 62l-1 0M200 165l0 1" stroke="#34363f" stroke-width="5" opacity="0.95"/>
<path d="M106 49l0 1M1 37l-1 0M226 69l1 0M20 130l1 0M209 114l-1 0M116 119l1 1M49 60l0 1M11 55l-1 0M228 14l1 0" stroke="#3a3c47" stroke-width="6" opacity="0.95"/>
<path d="M195 67l1 0M71 153l-1 0M103 11l1 0M168 68l1 1M226 79l1 0M191 42l0 1M158 35l0 1M3 62l0 1M85 50l-1 0M64 171l1 1M107 167l1 0M169 57l0 1M38 119l1 1M24 122l-1 1M94 56l1 0" stroke="#3a3c47" stroke-width="8" opacity="0.95"/>
<path d="M180 47l1 1M49 69l1 0M178 57l-1 1M203 104l1 0M226 114l0 1M60 157l1 0M226 5l-1 0M138 131l0 1M179 92l-1 0M187 64l1 0M6 89l1 0M114 93l1 1M220 102l1 0M130 46l1 0M117 146l1 0M15 71l-1 0M161 119l0 1M70 88l0 1" stroke="#3a3c47" stroke-width="7" opacity="0.95"/>
<path d="M24 11l1 0M43 27l-1 0M5 24l1 0M146 113l-1 0M215 125l0 1M87 98l1 1M50 155l1 1M194 171l0 1M87 18l1 0M57 52l-1 0M1 1l1 0" stroke="#4d4e57" stroke-width="6" opacity="0.95"/>
<path d="M129 78l1 1M24 171l1 0M182 23l0 1M50 114l0 1M155 26l0 1M159 73l0 1M137 95l1 0" stroke="#5b5a62" stroke-width="7" opacity="0.95"/>
<path d="M86 79l-1 0M17 40l1 0M132 24l0 1M170 122l1 0M82 118l1 0M70 117l1 0M223 91l1 0M151 171l0 1M96 4l-1 1M208 95l1 1M131 58l1 0M113 22l-1 1M149 146l1 1M183 168l1 1M22 86l1 0" stroke="#40424c" stroke-width="6" opacity="0.95"/>
<path d="M209 141l-1 1M208 150l1 0M72 137l-1 0M52 91l-1 0M215 44l1 0M97 94l1 1" stroke="#686870" stroke-width="7" opacity="0.95"/>
<path d="M98 19l-1 0M201 8l-1 0M33 26l1 0M221 159l1 0M185 73l0 1M120 46l1 0M39 36l1 0M202 126l0 1M55 79l1 0M1 13l1 0M35 166l1 1" stroke="#686870" stroke-width="6" opacity="0.95"/>
<path d="M5 157l1 0M135 105l0 1M124 87l0 1M85 63l1 0M200 89l1 1M219 31l0 1M35 54l1 0M225 52l-1 1M183 127l1 0" stroke="#5b5a62" stroke-width="5" opacity="0.95"/>
<path d="M162 166l1 0M6 110l1 0M198 53l1 1M209 4l1 0" stroke="#40424c" stroke-width="5" opacity="0.95"/>
<path d="M144 67l1 0M124 137l1 1M73 66l-1 0M210 171l1 0M196 19l1 0M127 70l1 0" stroke="#5b5a62" stroke-width="6" opacity="0.95"/>
<path d="M167 141l1 0M68 126l0 1M132 35l-1 0M45 107l1 0M205 24l1 0M60 70l-1 1M151 97l1 0M18 156l1 0M181 108l1 0M174 34l0 1M52 132l1 0M133 120l0 1M77 160l-1 1M100 156l1 0M55 44l-1 0M188 53l-1 0" stroke="#686870" stroke-width="5" opacity="0.95"/>
<path d="M58 158l-1 2M149 99l1 0M2 33l1 1" stroke="#3b5690" stroke-width="4.5" opacity="0.9"/>
<path d="M117 161l2 1M169 17l-1 0M223 46l1 1M34 73l1 1M102 76l1 0M178 41l1 0M62 14l-2 0M141 117l0 2" stroke="#2d4a86" stroke-width="3.5" opacity="0.9"/>
<path d="M99 41l0 1" stroke="#2d4a86" stroke-width="4.5" opacity="0.9"/>
<path d="M123 91l-1 1M122 56l1 0" stroke="#3b5690" stroke-width="3.5" opacity="0.9"/>
</g></g>
<line x1="899.6" y1="770.2" x2="935.6" y2="770.2" stroke="#e8212a" stroke-width="1.1"/>
<text x="917.6" y="777.7" font-size="6.8" text-anchor="middle" fill="#e0151c" font-weight="bold">50 µm</text>
<g transform="translate(957.3 612.5)" clip-path="url(#cpe)" fill="none" stroke-linecap="round">
<rect width="231.4" height="173.4" filter="url(#n1)"/>
<g filter="url(#b3)">
<path d="M85 101l7 6M162 40l3 9M90 114l-2 5M74 122l7 1M96 34l3 4M153 22l-1 1M28 120l0 1M1 83l-6 4M144 97l3 0" stroke="#c6a998" stroke-width="16" opacity="0.6"/>
<path d="M98 7l-2 2M2 136l0 3M0 91l1 0" stroke="#d3bcae" stroke-width="16" opacity="0.6"/>
<path d="M12 31l1 0M34 170l-8 2M148 76l-1 0M47 48l4 1M140 162l7 0" stroke="#dcc8bb" stroke-width="10" opacity="0.6"/>
<path d="M26 151l1 1M130 46l1 0M63 20l-5 1M141 155l-3 1M114 132l3 0M84 61l-2 6M16 94l0 2M50 68l9 1" stroke="#dcc8bb" stroke-width="16" opacity="0.6"/>
<path d="M97 85l2 1M52 35l1 0" stroke="#d3bcae" stroke-width="10" opacity="0.6"/>
<path d="M131 157l0 6M149 83l3 4M50 54l2 3" stroke="#c6a998" stroke-width="10" opacity="0.6"/>
<path d="M7 126l1 0M57 88l5 0M39 55l-3 1M129 135l-1 1M4 21l1 1M158 34l-3 5" stroke="#dcc8bb" stroke-width="22" opacity="0.6"/>
<path d="M21 11l-6 1M19 66l1 0M152 106l9 2M67 113l-1 3M38 141l0 2" stroke="#d3bcae" stroke-width="22" opacity="0.6"/>
<path d="M56 30l1 0M39 20l-3 4M37 161l-1 0M67 55l0 1" stroke="#c6a998" stroke-width="22" opacity="0.6"/>
</g><g filter="url(#b1)">
<path d="M111 35l0 0M218 74l2 0M46 166l2 2M185 10l-1 1M110 55l2 0M82 102l1 1M66 162l-1 1M102 67l0 0M156 8l-2 1" stroke="#5c3622" stroke-width="9.5" opacity="0.8"/>
<path d="M89 67l0 2M48 116l-1 0M80 156l0 1M141 48l2 1M99 92l2 1" stroke="#6a4430" stroke-width="9.5" opacity="0.8"/>
<path d="M15 56l-2 0M84 172l-1 1M156 37l2 1M63 126l1 1M84 50l-1 0M44 126l-2 1M115 133l-2 0M83 61l0 1" stroke="#6a4430" stroke-width="8.5" opacity="0.8"/>
<path d="M50 67l0 0M12 147l0 0M51 139l-1 1M183 21l1 0M194 6l-1 0M44 104l-1 2M156 50l0 2M40 68l0 1M195 119l0 0" stroke="#9a7862" stroke-width="10.5" opacity="0.8"/>
<path d="M71 169l-2 0M182 48l1 0M129 146l2 0M15 80l1 0M132 33l1 0M33 60l0 1M23 40l-2 1M180 104l0 1M137 155l-1 1M72 151l1 0M122 79l-1 0M137 22l0 2" stroke="#86604a" stroke-width="8.5" opacity="0.8"/>
<path d="M112 163l2 1M61 79l0 0M81 69l-2 0M14 88l0 0M54 7l0 1M16 172l-2 1M10 97l0 0M28 132l-1 1M173 142l0 0M91 161l2 2M170 17l-2 1M61 69l-1 1" stroke="#6a4430" stroke-width="10.5" opacity="0.8"/>
<path d="M128 8l-1 0M134 115l0 0M65 30l1 1M111 87l0 0M221 137l-1 1M38 148l0 0M38 134l2 1M25 11l0 0" stroke="#86604a" stroke-width="9.5" opacity="0.8"/>
<path d="M6 79l1 2M113 42l-1 2M130 163l0 2M72 73l0 0M142 96l0 0M88 116l-2 1M163 75l-2 0M87 6l0 1M78 139l0 0M71 5l2 1M18 26l0 0M110 99l-1 2M22 153l0 0" stroke="#9a7862" stroke-width="11.5" opacity="0.8"/>
<path d="M97 58l-1 0M77 126l-1 0M213 83l0 2M125 49l1 1M157 115l0 0M17 127l-2 1" stroke="#9a7862" stroke-width="8.5" opacity="0.8"/>
<path d="M10 117l0 0M46 54l-2 2M79 114l0 1M220 21l-1 0M60 90l-1 2M34 84l1 0M54 43l2 1" stroke="#5c3622" stroke-width="11.5" opacity="0.8"/>
<path d="M204 124l0 0M229 17l1 2M150 110l-1 0M167 84l1 2M131 172l-1 1M171 149l0 0M167 48l2 1M60 56l-1 1M208 95l0 0M1 112l0 1" stroke="#5c3622" stroke-width="8.5" opacity="0.8"/>
<path d="M100 166l0 0M150 121l0 1M197 162l-1 2M84 147l-2 1M49 150l1 0M55 162l2 0M29 67l0 1" stroke="#6a4430" stroke-width="11.5" opacity="0.8"/>
<path d="M35 5l0 1M5 90l0 0M56 22l-1 1M202 4l-1 2M72 90l1 1M134 99l0 2M118 100l0 0" stroke="#5c3622" stroke-width="10.5" opacity="0.8"/>
<path d="M40 47l0 0" stroke="#86604a" stroke-width="18" opacity="0.8"/>
<path d="M113 73l2 1M112 149l0 0M158 59l1 1M97 108l1 0M139 105l0 2M7 60l-1 2M16 1l0 0" stroke="#86604a" stroke-width="10.5" opacity="0.8"/>
<path d="M69 44l0 0M31 163l0 0" stroke="#6a4430" stroke-width="15" opacity="0.8"/>
<path d="M51 31l0 0M107 138l-1 1M26 103l-1 1M144 171l0 2" stroke="#9a7862" stroke-width="9.5" opacity="0.8"/>
<path d="M98 42l0 2M108 7l1 1M5 35l0 2" stroke="#86604a" stroke-width="11.5" opacity="0.8"/>
<path d="M95 51l1 0" stroke="#5c3622" stroke-width="15" opacity="0.8"/>
<path d="M135 60l0 1M3 163l0 0M114 119l1 2" stroke="#86604a" stroke-width="15" opacity="0.8"/>
<path d="M212 118l0 0M54 107l-1 1" stroke="#9a7862" stroke-width="15" opacity="0.8"/>
<path d="M91 26l0 1" stroke="#5c3622" stroke-width="18" opacity="0.8"/>
<path d="M111 34l0 0M129 8l-1 0M209 74l1 1M179 58l1 2M134 115l0 0M185 11l-1 1M69 101l1 0M113 20l2 1M230 54l0 1M110 54l2 0M61 151l-1 0M177 122l2 1M122 157l0 0M125 118l1 1M38 134l2 1M65 162l-1 1M102 66l0 0M25 102l-1 1M143 170l0 2" stroke="#9aadc8" stroke-width="6.5" opacity="0.95"/>
<path d="M81 24l0 0M101 165l0 0M80 115l0 1M55 98l2 2M60 89l-1 2M143 97l0 0M82 34l0 0M17 26l0 0M27 30l1 2" stroke="#889fbe" stroke-width="8.5" opacity="0.95"/>
<path d="M90 68l0 2M95 16l0 1M189 153l-1 2M142 47l2 1M45 10l-1 1M157 7l-2 1" stroke="#7690b3" stroke-width="6.5" opacity="0.95"/>
<path d="M15 55l-2 0M193 47l-2 1M198 70l0 0M229 17l1 2M155 37l2 1M85 49l-1 0M222 93l0 1M215 104l1 0M15 80l1 0M24 39l-2 1M131 172l-1 1M171 150l0 0M153 75l0 0M136 154l-1 1M230 98l1 2M121 80l-1 0M139 77l1 1M17 128l-2 1M1 111l0 1M203 62l1 0" stroke="#7690b3" stroke-width="5.5" opacity="0.95"/>
<path d="M221 170l-2 0M51 67l0 0M199 139l-1 2M81 70l-2 0M13 89l0 0M199 36l1 1M15 39l1 2M180 131l-1 1M211 33l1 0M10 98l0 0M163 171l2 1M92 162l2 2M170 17l-2 1M72 91l1 1M119 109l-1 1M62 68l-1 1" stroke="#9aadc8" stroke-width="7.5" opacity="0.95"/>
<path d="M84 172l-1 1M96 59l-1 0M203 124l0 0M78 125l-1 0M153 149l1 2M181 104l0 1M95 129l0 0M167 48l2 1M116 133l-2 0M191 144l0 0M154 172l0 1M190 171l-1 1" stroke="#6884aa" stroke-width="5.5" opacity="0.95"/>
<path d="M71 170l-2 0M148 26l0 0M168 83l1 2M181 49l1 0M213 82l0 2M129 146l2 0M34 60l0 1M38 37l0 1M158 114l0 0M227 125l1 1M207 96l0 0M138 23l0 2M14 15l-1 1" stroke="#889fbe" stroke-width="5.5" opacity="0.95"/>
<path d="M112 164l2 1M137 128l1 0M28 144l1 0M28 133l-1 1M173 68l0 0M119 100l0 0M196 119l0 0M222 4l0 1" stroke="#889fbe" stroke-width="7.5" opacity="0.95"/>
<path d="M218 75l2 0M148 14l2 1M134 88l1 2M40 24l2 1M65 31l1 1M111 87l0 0M37 148l0 0M81 86l-1 1" stroke="#889fbe" stroke-width="6.5" opacity="0.95"/>
<path d="M230 149l2 1M113 148l0 0M26 115l-1 2M109 108l0 1M17 171l-2 1M158 59l1 1M194 6l-1 0M19 109l-1 1M218 130l2 1M229 78l0 0M44 103l-1 2M142 7l1 1M8 60l-1 2" stroke="#7690b3" stroke-width="7.5" opacity="0.95"/>
<path d="M5 78l1 2M9 118l0 0M113 43l-1 2M10 110l-2 0M33 84l1 0M178 89l2 0M88 116l-2 1M198 162l-1 2M189 135l-2 0M4 21l0 0M211 65l0 0M4 36l0 2" stroke="#9aadc8" stroke-width="8.5" opacity="0.95"/>
<path d="M186 163l-1 0M63 126l1 1M131 74l0 1M131 33l1 0M188 34l1 2M169 4l1 2M125 49l1 1M73 81l-2 1M60 56l-1 1M84 60l0 1M145 36l0 0M193 83l0 0" stroke="#9aadc8" stroke-width="5.5" opacity="0.95"/>
<path d="M48 116l-1 0M149 84l0 1M79 157l0 1M155 97l1 0M46 166l2 2M217 13l0 0M108 139l-1 1M209 137l0 0M83 102l1 1M92 100l0 0" stroke="#6884aa" stroke-width="6.5" opacity="0.95"/>
<path d="M61 78l0 0M5 89l0 0M12 147l0 0M56 23l-1 1M214 53l0 0M202 3l-1 2M201 22l0 1M229 162l-1 0M186 121l1 2M191 64l0 0M98 107l1 0M139 106l0 2M40 69l0 1M17 1l0 0" stroke="#7e95b8" stroke-width="7.5" opacity="0.95"/>
<path d="M125 127l-1 1M150 110l-1 0M186 95l-2 1M63 114l2 1M224 110l0 2M44 125l-2 1M71 151l1 0" stroke="#7e95b8" stroke-width="5.5" opacity="0.95"/>
<path d="M35 4l0 1M113 73l2 1M166 30l0 0M37 97l0 0M51 139l-1 1M55 7l0 1M183 22l1 0M173 141l0 0M133 98l0 2M155 50l0 2" stroke="#6884aa" stroke-width="7.5" opacity="0.95"/>
<path d="M45 79l0 0M138 141l1 1M201 171l0 0M130 163l0 2M119 59l1 0M107 8l1 1M70 6l2 1M34 14l0 2M22 153l0 0M162 149l0 0" stroke="#7690b3" stroke-width="8.5" opacity="0.95"/>
<path d="M47 54l-2 2M150 121l0 1M220 21l-1 0M92 77l2 0M99 42l0 2M71 72l0 0M144 68l-1 1M172 107l1 0M88 5l0 1M78 139l0 0M84 148l-2 1M109 99l-1 2M48 149l1 0M156 131l0 0" stroke="#6884aa" stroke-width="8.5" opacity="0.95"/>
<path d="M40 47l0 0M159 86l2 1" stroke="#7e95b8" stroke-width="15" opacity="0.95"/>
<path d="M91 139l2 0M15 66l1 1M224 44l-1 0M7 9l-1 1M170 164l-1 1M198 94l0 0M163 75l-2 0M207 47l0 0M188 75l0 1M55 162l2 0M29 68l0 1M70 20l1 0M55 42l2 1" stroke="#7e95b8" stroke-width="8.5" opacity="0.95"/>
<path d="M70 44l0 0M145 161l0 0M95 50l1 0M135 59l0 1M3 164l0 0" stroke="#6884aa" stroke-width="12" opacity="0.95"/>
<path d="M52 31l0 0M128 137l0 2M226 66l1 2M222 138l-1 1M204 149l-1 0M25 11l0 0M174 99l0 0M100 92l2 1" stroke="#7e95b8" stroke-width="6.5" opacity="0.95"/>
<path d="M31 163l0 0M182 2l1 1M53 107l-1 1" stroke="#9aadc8" stroke-width="12" opacity="0.95"/>
<path d="M216 163l0 0" stroke="#7690b3" stroke-width="12" opacity="0.95"/>
<path d="M123 24l0 0" stroke="#6884aa" stroke-width="15" opacity="0.95"/>
<path d="M212 119l0 0M145 133l0 2" stroke="#889fbe" stroke-width="12" opacity="0.95"/>
<path d="M114 120l1 2" stroke="#7e95b8" stroke-width="12" opacity="0.95"/>
<path d="M91 26l0 1" stroke="#9aadc8" stroke-width="15" opacity="0.95"/>
<path d="M108 115l0 1M67 106l1 0M93 105l1 0M138 83l1 0M147 161l-1 1M184 164l-3 1" stroke="#7f4f38" stroke-width="3.5" opacity="0.85"/>
<path d="M163 101l1 1M41 133l1 0M50 135l-3 1M43 153l-1 1M162 111l3 1M22 155l0 3M49 46l2 1M80 115l-3 1M143 61l3 2M20 85l2 2" stroke="#4f2a1a" stroke-width="3.5" opacity="0.85"/>
<path d="M68 68l2 1M146 96l-2 2M108 37l1 0" stroke="#7f4f38" stroke-width="5" opacity="0.85"/>
<path d="M79 19l-2 2M107 145l0 1M169 152l-2 1M29 122l0 1" stroke="#6e4330" stroke-width="2.5" opacity="0.85"/>
<path d="M95 78l1 1M14 40l1 0M14 91l1 3M110 57l0 1M162 131l0 2M139 92l1 0" stroke="#6e4330" stroke-width="5" opacity="0.85"/>
<path d="M64 31l-1 3M73 76l1 0M67 38l-2 1M174 88l-1 1M52 140l-1 1M122 38l1 2M54 6l1 0M64 114l-2 0M175 132l-1 0M97 118l1 0M52 66l-2 1M118 120l1 1" stroke="#6e4330" stroke-width="3.5" opacity="0.85"/>
<path d="M143 121l0 1M131 136l1 2M41 88l2 2M43 123l2 1M71 115l2 2M148 77l1 2M175 90l1 0M86 78l-2 1M31 22l2 0" stroke="#7f4f38" stroke-width="2.5" opacity="0.85"/>
<path d="M19 72l0 2M89 29l-3 1M38 139l-1 1M40 18l-1 0M182 44l1 1M63 138l2 1M115 30l0 3M45 30l1 0M36 42l0 2M82 61l1 0M27 129l-1 1M44 65l1 0" stroke="#4f2a1a" stroke-width="2.5" opacity="0.85"/>
<path d="M101 159l1 3M26 118l1 0M96 40l-1 1M163 9l3 1M108 94l0 2M14 2l1 0M9 46l1 0M88 134l0 1" stroke="#4f2a1a" stroke-width="5" opacity="0.85"/>
</g></g>
<line x1="1140.3" y1="770.2" x2="1176.3" y2="770.2" stroke="#e8212a" stroke-width="1.1"/>
<text x="1158.3" y="777.7" font-size="6.8" text-anchor="middle" fill="#e0151c" font-weight="bold">50 µm</text>
<g transform="translate(716.6 795.7)" clip-path="url(#cpe)" fill="none" stroke-linecap="round">
<rect width="231.4" height="173.4" filter="url(#n2)"/>
<g filter="url(#b3)">
<circle cx="118" cy="71" r="18" fill="#fcfdfe"/>
<circle cx="127" cy="112" r="17" fill="#fcfdfe"/>
<circle cx="178" cy="22" r="12" fill="#fcfdfe"/>
<circle cx="21" cy="34" r="14" fill="#fcfdfe"/>
<circle cx="91" cy="18" r="8" fill="#fcfdfe"/>
<circle cx="208" cy="134" r="13" fill="#fcfdfe"/>
<circle cx="154" cy="157" r="11" fill="#fcfdfe"/>
<circle cx="220" cy="77" r="11" fill="#fcfdfe"/>
<circle cx="11" cy="134" r="10" fill="#fcfdfe"/>
<circle cx="68" cy="143" r="8" fill="#fcfdfe"/>
<circle cx="199" cy="54" r="8" fill="#fcfdfe"/>
<circle cx="47" cy="83" r="7" fill="#fcfdfe"/>
</g><g filter="url(#b2)">
<path d="M203 101l-2 0M112 33l0 1M13 147l0 1M107 139l-1 1M175 51l1 0M197 42l1 0M189 117l-2 0M85 99l-1 2M54 57l0 1M171 133l-2 2M58 127l1 0M209 41l1 1M180 50l1 2M130 163l0 1M21 53l0 1M11 83l2 1M106 150l-1 2M104 42l0 1M48 30l0 1M207 92l-2 0" stroke="#3f7cc2" stroke-width="2.7" opacity="0.95"/>
<path d="M182 2l-2 1M146 65l-1 2M218 35l0 1M149 7l-1 1M84 50l1 0M13 47l1 0M67 23l-1 1M14 58l2 0M76 87l0 1M81 1l1 2M141 169l1 1M182 63l-1 2M31 113l0 1M24 59l1 0M145 50l2 0M220 65l-1 2M186 162l2 2" stroke="#2059a6" stroke-width="2.2" opacity="0.95"/>
<path d="M227 92l-1 2M153 46l1 0M104 101l1 0M191 43l-2 1M59 103l0 2M192 10l0 3M179 163l2 0M173 11l1 3M94 129l-1 1M199 77l0 1M221 12l0 1M180 42l-2 0M90 76l1 0M64 108l2 1M210 35l-1 1M195 36l1 0M97 136l1 2" stroke="#2f6ab5" stroke-width="1.8" opacity="0.95"/>
<path d="M128 20l1 1M78 48l1 1M118 167l1 1M18 159l-1 0M133 38l-1 1M223 114l1 1M54 131l1 1M63 34l1 3M173 155l-1 0M181 67l1 2M136 66l1 0M204 16l0 2M158 54l1 0M150 85l-1 1M52 102l1 1M17 121l0 2M159 58l2 0M8 18l0 2M92 10l1 0M74 65l-1 1M107 161l2 2M80 98l-1 2" stroke="#5590cc" stroke-width="3.3" opacity="0.95"/>
<path d="M229 56l-2 1M211 160l-2 1M27 136l2 0M78 70l1 1M77 130l1 0M49 144l1 0M146 25l-1 2M214 26l2 2M157 32l2 2M177 121l0 1M151 100l2 0M81 17l1 1M201 93l0 2M75 76l-2 0M202 33l2 1M163 6l2 1M199 151l1 1M167 128l2 1M208 169l-2 0M27 108l1 1M49 76l-1 0" stroke="#3f7cc2" stroke-width="2.2" opacity="0.95"/>
<path d="M45 160l-2 1M94 44l1 0M28 95l1 2M46 113l-2 2M103 129l1 0M89 57l-2 1M5 84l0 2M187 97l-1 2M87 106l1 0M12 160l1 0M211 121l1 0M123 19l0 1M106 27l0 1M191 37l1 0M39 106l0 1M214 55l0 2M18 145l-2 0M5 38l0 1M56 143l-1 0M47 97l1 0M55 36l0 1M202 156l-1 1" stroke="#2059a6" stroke-width="1.8" opacity="0.95"/>
<path d="M11 111l2 1M156 142l-1 1M166 113l1 0M216 13l-2 0M149 129l2 0M170 1l1 0M11 23l-1 2M114 45l-1 1M130 156l1 1M47 60l1 0M211 100l1 0M80 116l1 0M100 167l2 2M171 84l1 0M191 68l0 2M152 51l1 0M141 31l1 2M169 105l-2 1M183 130l-2 0" stroke="#2862ae" stroke-width="2.2" opacity="0.95"/>
<path d="M161 104l0 1M45 67l2 1M68 69l-1 1M61 17l1 0M176 167l1 1M146 108l1 0M205 118l1 2M188 131l1 1M77 108l0 1M197 83l0 2M154 92l2 1M75 21l2 1M101 49l1 0M156 170l1 2M91 30l1 0" stroke="#2862ae" stroke-width="3.3" opacity="0.95"/>
<path d="M29 163l-2 1M228 137l1 0M69 40l-1 1M35 48l1 0M194 128l0 2M154 134l1 1M183 89l-2 1M86 112l1 0M37 88l1 1M145 126l1 0M159 81l-1 1M138 133l1 0M98 4l1 0M146 143l0 1M19 62l-2 1M68 9l0 2M175 105l1 0M22 94l0 1M162 137l1 1M60 7l0 3M82 77l2 1" stroke="#2f6ab5" stroke-width="2.2" opacity="0.95"/>
<path d="M164 48l1 2M140 72l1 0M88 155l-1 1M200 1l1 0M206 97l-1 2M77 167l-1 1M188 123l0 2M19 171l0 1M123 45l1 1M145 78l-1 2M56 95l-1 0M168 144l1 1M84 166l1 0M165 85l-1 1M56 23l1 1" stroke="#2862ae" stroke-width="2.7" opacity="0.95"/>
<path d="M93 90l-1 3M202 68l-1 1M134 166l-2 1M223 53l1 0M7 149l0 1M141 4l1 0M34 15l-1 1M149 135l-1 0M60 115l0 1M9 118l2 1M170 49l-1 2M68 131l1 0M116 3l0 1M102 141l0 1M217 118l0 2M93 159l1 2M155 107l-1 1M33 75l0 1" stroke="#5590cc" stroke-width="1.8" opacity="0.95"/>
<path d="M161 119l1 0M58 148l1 0M173 163l-1 2M57 13l-1 1M121 172l1 0M50 165l1 0M113 120l1 0M100 132l1 2M132 141l0 1M230 152l1 0M85 144l2 1M226 104l2 0M92 5l1 0M55 136l-1 0M66 28l1 0M62 89l0 2M38 75l0 2M28 120l1 0M35 82l-2 1" stroke="#3f7cc2" stroke-width="1.8" opacity="0.95"/>
<path d="M32 107l-2 0M74 60l2 0M162 40l2 0M168 44l1 0M21 149l-2 0M198 6l-1 0M52 63l0 1M170 99l-1 0M35 164l2 1M174 137l-1 1M192 59l1 0M46 125l-1 1M107 124l-3 0M147 117l1 1M36 22l-1 1M15 154l1 1M132 128l-2 1M68 94l1 0M89 88l2 1" stroke="#5590cc" stroke-width="2.2" opacity="0.95"/>
<path d="M204 161l-1 0M196 88l1 2M220 95l-2 1M97 113l-2 0M36 137l-2 2M10 68l0 2M175 147l-1 1M93 166l1 0M27 16l2 2M121 129l1 0M216 122l0 1M80 58l1 2M30 52l-1 2M224 36l-1 2M121 38l2 1M125 49l0 1M38 42l0 2M127 31l-2 1M208 20l1 0M166 91l-1 1M56 49l0 1M42 121l1 0M69 61l-1 0M4 154l-3 1M180 170l1 0" stroke="#2059a6" stroke-width="3.3" opacity="0.95"/>
<path d="M89 124l1 2M5 95l-2 1M169 167l1 0M135 148l-3 0M113 143l-1 1M175 130l0 1M142 97l1 0M171 90l1 0M140 127l1 0M88 52l1 0M186 54l-1 2M74 35l1 0M76 26l1 0M189 135l2 1M177 4l0 1M131 24l0 1M138 9l1 3M89 38l1 1M222 108l0 1" stroke="#2059a6" stroke-width="2.7" opacity="0.95"/>
<path d="M50 136l-1 0M135 1l0 2M157 4l2 0M213 105l1 2M106 37l2 1M166 70l1 1M109 169l1 0M29 85l-1 1M82 130l1 0M187 156l3 1M101 82l0 3M153 26l2 2M143 135l1 0M133 31l1 1M132 93l1 0M75 148l0 1M34 145l1 0M35 62l1 0M205 74l2 2" stroke="#2f6ab5" stroke-width="3.3" opacity="0.95"/>
<path d="M146 71l0 1M71 56l1 0M124 140l1 0M184 12l1 1M189 87l1 1M76 13l-2 1M53 150l0 1M83 150l-1 1M98 158l1 0M36 125l0 3M186 152l2 1M140 50l-1 2M170 115l1 0M47 36l0 1M56 172l-2 1M208 82l1 1M176 76l-1 1M41 170l-1 0M76 118l-1 0M191 17l1 0" stroke="#2862ae" stroke-width="1.8" opacity="0.95"/>
<path d="M99 107l2 1M40 68l0 1M230 107l1 0M107 87l1 2M74 101l1 0M211 7l-1 0M91 114l0 1M49 52l1 1M60 59l-2 2M155 68l2 1M72 165l0 2M53 161l-2 0M37 118l-3 0" stroke="#3f7cc2" stroke-width="3.3" opacity="0.95"/>
<path d="M22 88l-1 1M71 115l1 0M223 149l-1 1M230 21l2 0M154 20l-1 1M145 60l0 1M99 9l-1 2M104 11l2 0M189 63l-1 1M45 151l1 0M212 62l-3 0M72 30l-1 0M5 143l0 3M227 157l1 0M87 120l-3 0M223 47l0 1M39 147l0 1M148 94l-1 0M71 47l0 1M26 126l1 0M205 7l0 1M21 77l-1 1" stroke="#2f6ab5" stroke-width="2.7" opacity="0.95"/>
<path d="M58 84l-2 1M170 75l1 0M139 59l-2 1M225 171l1 1M227 7l2 2M72 170l-1 0M120 51l1 0M220 26l1 0M105 113l0 1M120 92l1 3M29 80l0 2M112 101l1 2M94 40l0 1M161 128l3 0M230 145l-1 0M76 97l1 0M111 90l1 0" stroke="#5590cc" stroke-width="2.7" opacity="0.95"/>
</g></g>
<line x1="899.6" y1="953.4" x2="935.6" y2="953.4" stroke="#e8212a" stroke-width="1.1"/>
<text x="917.6" y="960.9" font-size="6.8" text-anchor="middle" fill="#e0151c" font-weight="bold">50 µm</text>
<g transform="translate(957.3 795.7)" clip-path="url(#cpe)" fill="none" stroke-linecap="round">
<rect width="231.4" height="173.4" filter="url(#n3)"/>
<g filter="url(#b3)">
<ellipse cx="40" cy="90" rx="42" ry="80" fill="#8fa5c4" opacity="0.6"/><ellipse cx="110" cy="60" rx="30" ry="50" fill="#a9bcd6" opacity="0.4"/>
<circle cx="205" cy="140" r="12" fill="#f4f7fa"/><circle cx="178" cy="12" r="9" fill="#eef3f7"/>
</g><g filter="url(#b1)">
<path d="M62 62l1 3M153 64l0 3M121 141l1 0M32 139l-2 2M121 159l0 1M171 46l1 0M50 57l1 0M129 117l1 1M155 156l2 2M18 152l1 0M203 122l0 1M54 6l-2 0M170 141l-1 2M56 55l0 2M152 21l1 0M121 106l2 2M107 10l1 1M118 133l-1 2" stroke="#4a6494" stroke-width="4.6" opacity="0.85"/>
<path d="M99 34l-2 0M33 83l1 0M186 48l1 0M25 60l1 0M13 37l0 1M182 72l1 1M177 124l-2 1M43 64l-1 1M186 167l2 1M214 38l1 2M115 160l-1 0" stroke="#7a8cae" stroke-width="3.8" opacity="0.85"/>
<path d="M85 59l2 1M91 142l2 1M30 36l-2 0M157 84l-1 3M40 15l3 0M183 78l0 1M215 47l1 0M121 15l-2 1M121 5l2 2M54 49l1 0M97 73l1 3M59 68l1 1M194 11l1 0M51 155l-2 3M134 124l1 0M80 94l2 1" stroke="#506a98" stroke-width="6.2" opacity="0.85"/>
<path d="M143 61l1 0M184 60l1 0M195 85l1 1M14 167l1 0M151 120l0 3M66 124l-2 2M106 143l-1 0M111 31l2 1M20 53l1 0M63 7l3 1M102 79l1 0M61 82l-1 0M66 146l0 3M96 87l2 0M98 138l0 1M116 68l-1 3M73 155l-2 2M98 15l1 1M174 151l2 1" stroke="#7a8cae" stroke-width="6.2" opacity="0.85"/>
<path d="M134 56l-1 1M163 144l-2 2M38 112l1 3M68 87l-2 2M185 141l1 0M52 82l0 1M112 51l2 0M143 33l0 2M101 51l1 0" stroke="#687ea6" stroke-width="5.4" opacity="0.85"/>
<path d="M169 53l1 1M111 85l0 2M217 101l-1 0M138 147l1 3M26 154l0 1M67 18l-1 1M141 127l0 1M228 143l0 3M148 167l-1 2M37 22l-1 0M23 29l-1 1M92 23l3 1M20 2l1 2" stroke="#58709c" stroke-width="6.2" opacity="0.85"/>
<path d="M212 154l1 1M7 56l0 1M163 78l0 3M191 136l-3 1M43 129l2 2M6 109l1 0M222 38l-2 1M225 134l2 1M103 87l1 0M115 120l-3 2M169 12l-2 2M2 21l-1 1M126 20l-1 2M223 19l-1 0M104 3l1 0" stroke="#687ea6" stroke-width="4.6" opacity="0.85"/>
<path d="M125 153l0 2M62 110l-1 2M59 41l-1 2M214 113l0 3M213 124l2 2M52 168l-1 3M60 121l1 0M31 113l3 1M4 2l0 1M228 2l-3 0M226 113l0 1M164 131l0 2M79 137l-2 1M49 42l0 2" stroke="#58709c" stroke-width="5.4" opacity="0.85"/>
<path d="M48 15l1 3M52 108l-2 1M39 31l2 3M167 97l-2 0M10 28l-1 1M97 94l2 1M147 139l0 2M35 77l3 1M33 62l-2 2M69 100l-1 0M92 101l0 2M6 118l2 2M229 92l-1 1M173 29l0 1M43 150l0 2M220 8l1 0M11 137l-3 1M40 97l0 3M161 7l-2 1M70 58l-2 1M21 17l0 3M2 99l1 0M194 52l1 0M126 172l1 0M16 86l-1 1M104 132l1 2M92 168l3 2" stroke="#445f90" stroke-width="6.2" opacity="0.85"/>
<path d="M197 60l1 0M196 72l-3 0M85 67l1 0M58 149l-2 1M190 80l-2 2M197 160l0 2M2 131l-1 2M87 1l-2 0M7 156l-1 1M143 1l-3 1M34 3l0 1M215 27l-1 0M25 98l1 0M24 7l2 0M90 135l1 0M62 49l0 2M103 67l-1 1M77 16l0 1M29 163l-1 1" stroke="#445f90" stroke-width="5.4" opacity="0.85"/>
<path d="M42 46l-3 1M60 167l-1 1M69 77l0 3M58 20l1 0M223 153l1 3M75 103l3 0M79 87l0 1M228 57l1 0M125 165l0 1M79 29l3 0M196 95l0 1M156 106l1 1M148 95l1 2M76 131l-1 1M47 102l0 2M86 32l1 0" stroke="#3f5a8c" stroke-width="5.4" opacity="0.85"/>
<path d="M105 98l0 2M175 59l1 1M26 78l0 1M69 172l0 1M186 152l1 0M181 147l-1 2M45 73l2 2M130 138l0 1M138 119l0 2M182 120l1 1" stroke="#687ea6" stroke-width="3.8" opacity="0.85"/>
<path d="M230 151l0 1M180 84l1 0M207 16l1 0M71 38l-1 1M83 20l1 0M228 70l-1 1M161 72l1 1M121 58l-1 3M165 28l-3 1M153 78l-2 1" stroke="#4a6494" stroke-width="5.4" opacity="0.85"/>
<path d="M31 16l1 0M97 9l-3 2M38 58l0 3M198 32l2 1M226 64l1 0M197 110l0 2M6 90l1 0M2 76l1 2M191 68l1 1M214 164l1 0M96 46l3 1M175 22l-2 0M75 164l0 3M214 10l0 2" stroke="#4a6494" stroke-width="3.8" opacity="0.85"/>
<path d="M45 162l1 0M140 139l-3 1M114 105l1 0M83 161l0 2M25 121l1 0M7 16l-2 0M114 76l2 1M106 115l1 0M108 160l-3 0M31 124l2 1M98 115l0 1M72 2l0 3M90 49l-1 1M110 71l-1 2M17 137l1 0M187 102l-1 0M163 119l-2 2M133 131l-1 0M156 163l1 3" stroke="#7a8cae" stroke-width="4.6" opacity="0.85"/>
<path d="M46 114l0 2M226 10l1 1M215 92l0 3M215 62l-1 0M111 110l-2 2M30 147l-1 1M135 10l-1 2" stroke="#58709c" stroke-width="3.8" opacity="0.85"/>
<path d="M153 33l1 2M70 68l1 0M147 12l1 3M34 41l0 1M141 109l-2 2M121 97l3 1M11 80l-1 1M132 100l1 0" stroke="#506a98" stroke-width="3.8" opacity="0.85"/>
<path d="M193 45l0 1M60 99l-3 1M112 152l1 0M16 72l-1 3M182 34l1 0M187 95l-2 0M60 137l1 2M134 23l-3 1M53 95l1 2M14 6l2 0M47 88l-1 1M114 99l1 1M222 48l0 1M77 119l0 1" stroke="#506a98" stroke-width="4.6" opacity="0.85"/>
<path d="M128 78l-1 1M131 92l0 2M87 14l3 1M154 51l0 2M72 141l1 0M216 132l0 1M166 38l2 3M161 151l-1 0M218 143l0 3M195 168l1 2M112 63l-1 1M33 103l1 1M160 126l1 0M89 95l2 2M163 163l-3 2M200 49l1 0M224 161l1 0M193 25l1 0M181 113l1 0M220 56l1 1M147 159l2 2M178 10l0 3M142 24l-1 2M116 11l2 1M142 48l-1 2M206 104l3 1M36 165l0 1" stroke="#506a98" stroke-width="5.4" opacity="0.85"/>
<path d="M191 162l-1 3M159 138l2 1M124 128l-3 0M140 42l1 0M133 152l1 2M80 155l0 1M74 50l1 0M99 161l0 3M24 111l1 1M79 59l2 2M50 138l2 1M57 115l0 3M73 126l1 0M218 82l3 0M56 88l1 0M217 71l1 1M149 4l3 2" stroke="#445f90" stroke-width="3.8" opacity="0.85"/>
<path d="M212 171l0 2M24 90l1 0M93 81l3 2M25 41l1 1M169 169l-1 1M20 131l1 0M54 74l1 0M51 32l-2 1M35 69l-1 0M218 157l0 3M134 81l1 0M223 104l0 1M164 104l1 2" stroke="#687ea6" stroke-width="6.2" opacity="0.85"/>
<path d="M17 65l1 0M74 113l-1 0M13 148l2 2M32 26l-1 0M161 17l2 1M1 60l1 0M211 81l-1 0M12 126l1 0M74 96l2 2M170 159l1 0" stroke="#3f5a8c" stroke-width="3.8" opacity="0.85"/>
<path d="M73 22l2 2M158 28l1 2M47 23l1 0M13 23l2 1M206 40l-1 0M176 137l-1 1M130 35l2 3M110 23l1 1M200 8l1 2M11 68l1 0M195 4l1 1M87 40l2 2M81 169l1 0M151 40l-1 0M142 103l1 1M71 119l1 0" stroke="#4a6494" stroke-width="6.2" opacity="0.85"/>
<path d="M92 158l0 1M39 141l2 2M205 23l-1 1M230 43l1 0M208 72l1 2M133 49l0 3M89 122l1 1M50 65l1 0M53 121l-2 0M203 81l1 0M127 57l-1 1M108 92l-2 1M89 109l1 0" stroke="#445f90" stroke-width="4.6" opacity="0.85"/>
<path d="M16 47l-3 0M27 53l1 0M104 59l-2 1M57 27l-1 1M191 18l3 1M226 125l3 1M64 153l3 1M3 9l1 0M120 85l1 0" stroke="#3f5a8c" stroke-width="6.2" opacity="0.85"/>
<path d="M40 86l1 1M84 77l0 3M19 161l-3 1M103 42l1 1M7 45l-3 1M20 172l-2 2M170 109l-1 2M22 142l1 0" stroke="#58709c" stroke-width="4.6" opacity="0.85"/>
<path d="M142 163l0 2M81 108l1 1M124 73l1 2M229 165l0 1M104 169l1 0M53 132l0 2M23 69l2 3M114 128l2 0M14 112l-1 1M159 113l1 0M204 160l1 0M107 17l-1 0M129 67l-1 1M140 69l2 3M176 39l0 1M180 160l0 2M98 63l1 2M5 38l2 1" stroke="#7a8cae" stroke-width="5.4" opacity="0.85"/>
<path d="M98 155l1 0M223 77l1 0M174 76l3 1M145 79l-2 1M117 37l2 2M188 126l1 1M79 38l2 1M114 140l1 0M39 171l-2 2M128 11l-1 1" stroke="#3f5a8c" stroke-width="4.6" opacity="0.85"/>
<path d="M188 53l1 0M142 141l-2 1M119 55l-1 1M16 100l1 0M211 164l0 1M11 138l3 1M61 143l0 3M89 28l2 0M134 148l1 0" stroke="#8d8c95" stroke-width="3.5" opacity="0.8"/>
<path d="M127 1l1 1M161 106l-2 2M30 88l2 0M80 157l-1 1" stroke="#6d6a70" stroke-width="5" opacity="0.8"/>
<path d="M106 73l1 0M104 136l1 0M118 17l2 1M209 46l-1 2M18 55l2 0M35 51l1 0" stroke="#7b6f6a" stroke-width="5" opacity="0.8"/>
<path d="M45 167l-1 1M43 116l-1 1M60 72l3 1M150 69l1 2M125 80l1 0M74 96l-1 0M145 2l0 1M144 41l1 0" stroke="#6d6a70" stroke-width="3.5" opacity="0.8"/>
<path d="M84 95l1 1M200 7l-1 0M144 106l-1 1M71 4l-1 0M194 20l3 0M28 142l2 1M114 68l1 1" stroke="#7b6f6a" stroke-width="3.5" opacity="0.8"/>
<path d="M23 126l0 3M208 15l1 0M39 22l1 0M173 44l-1 0M218 54l2 1M77 16l1 0" stroke="#8d8c95" stroke-width="5" opacity="0.8"/>
</g></g>
<rect x="1138.1" y="947.6" width="37.2" height="7.1" fill="#c40000"/>
<text x="1157.3" y="960.9" font-size="6.8" text-anchor="middle" fill="#e0151c" font-weight="bold">50 µm</text>
<rect x="718" y="613.9" width="228.6" height="170.6" fill="none" stroke="#000" stroke-width="2.9" stroke-linejoin="round"/>
<rect x="958.7" y="613.9" width="228.6" height="170.6" fill="none" stroke="#000" stroke-width="2.9" stroke-linejoin="round"/>
<rect x="718" y="797.1" width="228.6" height="170.6" fill="none" stroke="#000" stroke-width="2.9" stroke-linejoin="round"/>
<rect x="958.7" y="797.1" width="228.6" height="170.6" fill="none" stroke="#000" stroke-width="2.9" stroke-linejoin="round"/>
</g>
<g id="pf">
<text x="1240" y="559" font-size="39" font-weight="bold">f</text>
<line x1="1351.6" y1="557.8" x2="1351.6" y2="923.8" stroke="#000" stroke-width="3"/>
<line x1="1343.6" y1="922.3" x2="1716.7" y2="922.3" stroke="#000" stroke-width="3"/>
<line x1="1343.6" y1="922.3" x2="1351.6" y2="922.3" stroke="#000" stroke-width="3"/>
<text x="1333.5" y="932.3" font-size="29" text-anchor="end">0</text>
<line x1="1343.6" y1="801.3" x2="1351.6" y2="801.3" stroke="#000" stroke-width="3"/>
<text x="1333.5" y="811.3" font-size="29" text-anchor="end">5</text>
<line x1="1343.6" y1="680.3" x2="1351.6" y2="680.3" stroke="#000" stroke-width="3"/>
<text x="1333.5" y="690.3" font-size="29" text-anchor="end">10</text>
<line x1="1343.6" y1="559.3" x2="1351.6" y2="559.3" stroke="#000" stroke-width="3"/>
<text x="1333.5" y="569.3" font-size="29" text-anchor="end">15</text>
<line x1="1351.6" y1="922.3" x2="1351.6" y2="931.6" stroke="#000" stroke-width="3"/>
<text x="1351.6" y="962" font-size="29" text-anchor="middle">8</text>
<line x1="1472.8" y1="922.3" x2="1472.8" y2="931.6" stroke="#000" stroke-width="3"/>
<text x="1472.8" y="962" font-size="29" text-anchor="middle">9</text>
<line x1="1594" y1="922.3" x2="1594" y2="931.6" stroke="#000" stroke-width="3"/>
<text x="1594" y="962" font-size="29" text-anchor="middle">10</text>
<line x1="1715.2" y1="922.3" x2="1715.2" y2="931.6" stroke="#000" stroke-width="3"/>
<text x="1715.2" y="962" font-size="29" text-anchor="middle">11</text>
<text x="1531" y="998.6" font-size="29" text-anchor="middle">Mettl3</text>
<text x="1285.5" y="740" font-size="29" text-anchor="middle" transform="rotate(-90 1285.5 740)">PDK4</text>
<text x="1391.5" y="649" font-size="29">p &lt; 0.01</text>
<text x="1391.5" y="682.5" font-size="29"><tspan font-style="italic">r</tspan> = 0.27</text>
<g fill="#FF2702">
<circle cx="1512.7" cy="676.3" r="4.6"/>
<circle cx="1533.4" cy="673.6" r="4.6"/>
<circle cx="1535.4" cy="692.8" r="4.6"/>
<circle cx="1542.3" cy="699.7" r="4.6"/>
<circle cx="1630.6" cy="693.2" r="4.6"/>
<circle cx="1641.6" cy="692.8" r="4.6"/>
<circle cx="1493.2" cy="713.1" r="4.6"/>
<circle cx="1502.4" cy="720" r="4.6"/>
<circle cx="1457.1" cy="720.7" r="4.6"/>
<circle cx="1443.3" cy="729.2" r="4.6"/>
<circle cx="1479.4" cy="734.1" r="4.6"/>
<circle cx="1474.9" cy="743.3" r="4.6"/>
<circle cx="1526.8" cy="714.1" r="4.6"/>
<circle cx="1534.7" cy="708.3" r="4.6"/>
<circle cx="1545" cy="710" r="4.6"/>
<circle cx="1545.4" cy="715.8" r="4.6"/>
<circle cx="1523.4" cy="719.3" r="4.6"/>
<circle cx="1529.2" cy="722.7" r="4.6"/>
<circle cx="1532.7" cy="727.9" r="4.6"/>
<circle cx="1538.9" cy="729.6" r="4.6"/>
<circle cx="1543" cy="729.6" r="4.6"/>
<circle cx="1558.8" cy="722.7" r="4.6"/>
<circle cx="1568.1" cy="721" r="4.6"/>
<circle cx="1600.4" cy="723.8" r="4.6"/>
<circle cx="1655.7" cy="725.8" r="4.6"/>
<circle cx="1589.4" cy="730.3" r="4.6"/>
<circle cx="1584.2" cy="732.3" r="4.6"/>
<circle cx="1577.3" cy="735.8" r="4.6"/>
<circle cx="1572.9" cy="738.5" r="4.6"/>
<circle cx="1569.8" cy="744.4" r="4.6"/>
<circle cx="1600.7" cy="736.5" r="4.6"/>
<circle cx="1514.8" cy="735.8" r="4.6"/>
<circle cx="1525.1" cy="738.5" r="4.6"/>
<circle cx="1546.4" cy="738.5" r="4.6"/>
<circle cx="1549.9" cy="740.6" r="4.6"/>
<circle cx="1537.8" cy="742.6" r="4.6"/>
<circle cx="1516.2" cy="745.7" r="4.6"/>
<circle cx="1526.8" cy="748.5" r="4.6"/>
<circle cx="1518.9" cy="750.9" r="4.6"/>
<circle cx="1428.2" cy="759.8" r="4.6"/>
<circle cx="1458.1" cy="761.2" r="4.6"/>
<circle cx="1466.7" cy="764" r="4.6"/>
<circle cx="1471.9" cy="764.3" r="4.6"/>
<circle cx="1483.9" cy="757.8" r="4.6"/>
<circle cx="1481.1" cy="768.1" r="4.6"/>
<circle cx="1502.8" cy="760.5" r="4.6"/>
<circle cx="1499" cy="766.7" r="4.6"/>
<circle cx="1513.1" cy="763.3" r="4.6"/>
<circle cx="1524.1" cy="758.1" r="4.6"/>
<circle cx="1528.5" cy="759.5" r="4.6"/>
<circle cx="1559.5" cy="753.6" r="4.6"/>
<circle cx="1577.3" cy="753.6" r="4.6"/>
<circle cx="1564.6" cy="759.5" r="4.6"/>
<circle cx="1573.2" cy="759.5" r="4.6"/>
<circle cx="1548.1" cy="761.5" r="4.6"/>
<circle cx="1567" cy="770.8" r="4.6"/>
<circle cx="1623.7" cy="767.7" r="4.6"/>
<circle cx="1427.9" cy="774.3" r="4.6"/>
<circle cx="1441.6" cy="778.4" r="4.6"/>
<circle cx="1525.1" cy="773.6" r="4.6"/>
<circle cx="1531" cy="777" r="4.6"/>
<circle cx="1546.4" cy="774.9" r="4.6"/>
<circle cx="1556" cy="778.4" r="4.6"/>
<circle cx="1572.9" cy="778.4" r="4.6"/>
<circle cx="1493.2" cy="782.9" r="4.6"/>
<circle cx="1503.8" cy="781.8" r="4.6"/>
<circle cx="1516.5" cy="781.1" r="4.6"/>
<circle cx="1512.1" cy="786.3" r="4.6"/>
<circle cx="1489" cy="789.7" r="4.6"/>
<circle cx="1469.1" cy="787.3" r="4.6"/>
<circle cx="1489.7" cy="794.9" r="4.6"/>
<circle cx="1531" cy="789" r="4.6"/>
<circle cx="1528.2" cy="794.9" r="4.6"/>
<circle cx="1525.1" cy="797.6" r="4.6"/>
<circle cx="1556.7" cy="788.7" r="4.6"/>
<circle cx="1587.6" cy="787" r="4.6"/>
<circle cx="1585.2" cy="789" r="4.6"/>
<circle cx="1540.6" cy="794.2" r="4.6"/>
<circle cx="1608.3" cy="794.9" r="4.6"/>
<circle cx="1404.9" cy="811.4" r="4.6"/>
<circle cx="1406.6" cy="822" r="4.6"/>
<circle cx="1431.7" cy="805.2" r="4.6"/>
<circle cx="1436.5" cy="818.2" r="4.6"/>
<circle cx="1446.1" cy="820" r="4.6"/>
<circle cx="1439.9" cy="826.8" r="4.6"/>
<circle cx="1451.2" cy="826.8" r="4.6"/>
<circle cx="1442.6" cy="837.8" r="4.6"/>
<circle cx="1443.3" cy="863.9" r="4.6"/>
<circle cx="1476" cy="805.2" r="4.6"/>
<circle cx="1473.2" cy="805.2" r="4.6"/>
<circle cx="1465" cy="812.1" r="4.6"/>
<circle cx="1462.2" cy="815.5" r="4.6"/>
<circle cx="1473.2" cy="823.4" r="4.6"/>
<circle cx="1478.4" cy="823.4" r="4.6"/>
<circle cx="1482.2" cy="827.5" r="4.6"/>
<circle cx="1468.1" cy="837.8" r="4.6"/>
<circle cx="1465.7" cy="856" r="4.6"/>
<circle cx="1485.6" cy="841.9" r="4.6"/>
<circle cx="1493.2" cy="810.3" r="4.6"/>
<circle cx="1499" cy="815.5" r="4.6"/>
<circle cx="1503.5" cy="812.1" r="4.6"/>
<circle cx="1500" cy="827.5" r="4.6"/>
<circle cx="1493.8" cy="855" r="4.6"/>
<circle cx="1501.7" cy="852.6" r="4.6"/>
<circle cx="1505.9" cy="849.9" r="4.6"/>
<circle cx="1513.8" cy="811.4" r="4.6"/>
<circle cx="1520" cy="806.9" r="4.6"/>
<circle cx="1527.5" cy="806.9" r="4.6"/>
<circle cx="1512.1" cy="823.1" r="4.6"/>
<circle cx="1519.6" cy="819.6" r="4.6"/>
<circle cx="1532" cy="818.2" r="4.6"/>
<circle cx="1518.9" cy="832" r="4.6"/>
<circle cx="1524.1" cy="836.1" r="4.6"/>
<circle cx="1532" cy="834.4" r="4.6"/>
<circle cx="1526.8" cy="844.7" r="4.6"/>
<circle cx="1524.1" cy="852.3" r="4.6"/>
<circle cx="1534.4" cy="849.9" r="4.6"/>
<circle cx="1538.9" cy="845.4" r="4.6"/>
<circle cx="1517.2" cy="869.1" r="4.6"/>
<circle cx="1532" cy="862.6" r="4.6"/>
<circle cx="1544.7" cy="863.6" r="4.6"/>
<circle cx="1561.2" cy="804.5" r="4.6"/>
<circle cx="1583.5" cy="805.2" r="4.6"/>
<circle cx="1570.5" cy="810.3" r="4.6"/>
<circle cx="1565.3" cy="813.1" r="4.6"/>
<circle cx="1551.6" cy="813.8" r="4.6"/>
<circle cx="1562.9" cy="815.5" r="4.6"/>
<circle cx="1543" cy="822.4" r="4.6"/>
<circle cx="1552.6" cy="822.4" r="4.6"/>
<circle cx="1558.4" cy="822.4" r="4.6"/>
<circle cx="1566" cy="821.7" r="4.6"/>
<circle cx="1569.4" cy="824.4" r="4.6"/>
<circle cx="1553.3" cy="827.5" r="4.6"/>
<circle cx="1541.3" cy="832.7" r="4.6"/>
<circle cx="1548.1" cy="834.4" r="4.6"/>
<circle cx="1553.3" cy="834.4" r="4.6"/>
<circle cx="1553.3" cy="850.9" r="4.6"/>
</g>
<line x1="1404.9" y1="815.5" x2="1654.7" y2="747.5" stroke="#0433FF" stroke-width="3.6" stroke-linecap="round"/>
</g>
<g id="pg">
<text x="0" y="1081.5" font-size="39" font-weight="bold">g</text>
<g>
<text x="179.1" y="1088.8" font-size="20.8" text-anchor="middle">Mettl3/Zhai cervix</text>
<line x1="76" y1="1098.3" x2="76" y2="1399.1" stroke="#000" stroke-width="2.2"/>
<line x1="70.5" y1="1398" x2="274.9" y2="1398" stroke="#000" stroke-width="2.2"/>
<line x1="69.5" y1="1099.4" x2="76" y2="1099.4" stroke="#000" stroke-width="2.2"/>
<text x="62.1" y="1106.6" font-size="20.7" text-anchor="end">4</text>
<line x1="69.5" y1="1199.2" x2="76" y2="1199.2" stroke="#000" stroke-width="2.2"/>
<text x="62.1" y="1206.4" font-size="20.7" text-anchor="end">3</text>
<line x1="69.5" y1="1298.5" x2="76" y2="1298.5" stroke="#000" stroke-width="2.2"/>
<text x="62.1" y="1305.7" font-size="20.7" text-anchor="end">2</text>
<line x1="69.5" y1="1398" x2="76" y2="1398" stroke="#000" stroke-width="2.2"/>
<text x="62.1" y="1405.2" font-size="20.7" text-anchor="end">1</text>
<line x1="125.2" y1="1398" x2="125.2" y2="1405" stroke="#000" stroke-width="2.2"/>
<line x1="225" y1="1398" x2="225" y2="1405" stroke="#000" stroke-width="2.2"/>
<text x="33.8" y="1249.3" font-size="20.7" text-anchor="middle" transform="rotate(-90 33.8 1249.3)">Relativem Mettl3 expression</text>
<text x="126.6" y="1428.9" font-size="20.7" text-anchor="middle">Normal</text>
<text x="126.6" y="1453.5" font-size="20.7" text-anchor="middle">(<tspan font-style="italic">n</tspan> = 10)</text>
<text x="225.4" y="1428.9" font-size="20.7" text-anchor="middle">Cancer</text>
<text x="225.4" y="1453.5" font-size="20.7" text-anchor="middle">(<tspan font-style="italic">n</tspan> = 24)</text>
<text x="179.6" y="1117.6" font-size="22.5" text-anchor="middle">p = 0.045</text>
<polyline points="125.9,1155.9 125.9,1124.9 225.7,1124.9 225.7,1137.5" fill="none" stroke="#000" stroke-width="2" stroke-linejoin="miter" stroke-linecap="butt"/>
<g fill="#000"><circle cx="125.5" cy="1185.2" r="3"/><circle cx="125.2" cy="1197.8" r="3"/><circle cx="129.7" cy="1215.8" r="3"/><circle cx="120.8" cy="1224.4" r="3"/><circle cx="125.2" cy="1269" r="3"/><circle cx="120.8" cy="1294.3" r="3"/><circle cx="129.9" cy="1291.2" r="3"/><circle cx="125.2" cy="1310.9" r="3"/><circle cx="129.7" cy="1333.3" r="3"/><circle cx="120.8" cy="1337.1" r="3"/></g>
<g fill="#00F500"><rect x="226.8" y="1151.6" width="5.2" height="5.2"/><rect x="217.3" y="1156.4" width="5.2" height="5.2"/><rect x="231.5" y="1172.2" width="5.2" height="5.2"/><rect x="212.9" y="1181" width="5.2" height="5.2"/><rect x="222.2" y="1181" width="5.2" height="5.2"/><rect x="208" y="1189.3" width="5.2" height="5.2"/><rect x="235.9" y="1187.5" width="5.2" height="5.2"/><rect x="217.3" y="1196.1" width="5.2" height="5.2"/><rect x="226.8" y="1196.1" width="5.2" height="5.2"/><rect x="222.2" y="1212.5" width="5.2" height="5.2"/><rect x="226.8" y="1221" width="5.2" height="5.2"/><rect x="212.4" y="1223.6" width="5.2" height="5.2"/><rect x="217.3" y="1232.9" width="5.2" height="5.2"/><rect x="226.8" y="1240.9" width="5.2" height="5.2"/><rect x="212.4" y="1250.2" width="5.2" height="5.2"/><rect x="222.2" y="1250.9" width="5.2" height="5.2"/><rect x="231.5" y="1250.2" width="5.2" height="5.2"/><rect x="217.3" y="1262.8" width="5.2" height="5.2"/><rect x="231.5" y="1271.7" width="5.2" height="5.2"/><rect x="226.8" y="1278.6" width="5.2" height="5.2"/><rect x="212.4" y="1285.7" width="5.2" height="5.2"/><rect x="217.3" y="1293.4" width="5.2" height="5.2"/><rect x="226.8" y="1296.3" width="5.2" height="5.2"/><rect x="222.2" y="1326.5" width="5.2" height="5.2"/></g>
<line x1="125.2" y1="1209.6" x2="125.2" y2="1322.2" stroke="#FF2702" stroke-width="2"/>
<line x1="108.2" y1="1209.6" x2="142.5" y2="1209.6" stroke="#FF2702" stroke-width="2"/>
<line x1="108.2" y1="1322.2" x2="142.5" y2="1322.2" stroke="#FF2702" stroke-width="2"/>
<line x1="92.4" y1="1266.1" x2="158.5" y2="1266.1" stroke="#FF2702" stroke-width="3.4"/>
<line x1="224.8" y1="1184.1" x2="224.8" y2="1280.1" stroke="#FF2702" stroke-width="2"/>
<line x1="207.3" y1="1184.1" x2="242.1" y2="1184.1" stroke="#FF2702" stroke-width="2"/>
<line x1="207.3" y1="1280.1" x2="242.1" y2="1280.1" stroke="#FF2702" stroke-width="2"/>
<line x1="191.8" y1="1232" x2="257.8" y2="1232" stroke="#FF2702" stroke-width="3.4"/>
</g>
<g>
<text x="574.3" y="1088.8" font-size="20.8" text-anchor="middle">Mettl3/Biewenga cervix</text>
<line x1="463.5" y1="1098.3" x2="463.5" y2="1399.1" stroke="#000" stroke-width="2.2"/>
<line x1="457.5" y1="1398" x2="661.9" y2="1398" stroke="#000" stroke-width="2.2"/>
<line x1="457" y1="1099.4" x2="463.5" y2="1099.4" stroke="#000" stroke-width="2.2"/>
<text x="448.6" y="1106.6" font-size="20.7" text-anchor="end">0.4</text>
<line x1="457" y1="1149.3" x2="463.5" y2="1149.3" stroke="#000" stroke-width="2.2"/>
<text x="448.6" y="1156.5" font-size="20.7" text-anchor="end">0.2</text>
<line x1="457" y1="1199.2" x2="463.5" y2="1199.2" stroke="#000" stroke-width="2.2"/>
<text x="448.6" y="1206.4" font-size="20.7" text-anchor="end">0.0</text>
<line x1="457" y1="1248.8" x2="463.5" y2="1248.8" stroke="#000" stroke-width="2.2"/>
<text x="448.6" y="1256" font-size="20.7" text-anchor="end">−0.2</text>
<line x1="457" y1="1298.7" x2="463.5" y2="1298.7" stroke="#000" stroke-width="2.2"/>
<text x="448.6" y="1305.9" font-size="20.7" text-anchor="end">−0.4</text>
<line x1="457" y1="1348.4" x2="463.5" y2="1348.4" stroke="#000" stroke-width="2.2"/>
<text x="448.6" y="1355.6" font-size="20.7" text-anchor="end">−0.6</text>
<line x1="457" y1="1398" x2="463.5" y2="1398" stroke="#000" stroke-width="2.2"/>
<text x="448.6" y="1405.2" font-size="20.7" text-anchor="end">−0.8</text>
<line x1="512.9" y1="1398" x2="512.9" y2="1405" stroke="#000" stroke-width="2.2"/>
<line x1="612.7" y1="1398" x2="612.7" y2="1405" stroke="#000" stroke-width="2.2"/>
<text x="392.6" y="1249.3" font-size="20.7" text-anchor="middle" transform="rotate(-90 392.6 1249.3)">Relativem Mettl3 expression</text>
<text x="512.9" y="1428.9" font-size="20.7" text-anchor="middle">Normal</text>
<text x="512.9" y="1453.5" font-size="20.7" text-anchor="middle">(<tspan font-style="italic">n</tspan> = 5)</text>
<text x="612.7" y="1428.9" font-size="20.7" text-anchor="middle">Cancer</text>
<text x="612.7" y="1453.5" font-size="20.7" text-anchor="middle">(<tspan font-style="italic">n</tspan> = 40)</text>
<text x="564.6" y="1117.1" font-size="22.5" text-anchor="middle">p &lt; 0.001</text>
<polyline points="512.9,1257.9 512.9,1124.9 613.8,1124.9 613.8,1137.5" fill="none" stroke="#000" stroke-width="2" stroke-linejoin="miter" stroke-linecap="butt"/>
<g fill="#000"><circle cx="512.9" cy="1271.7" r="3"/><circle cx="512.9" cy="1286.5" r="3"/><circle cx="512.9" cy="1306.5" r="3"/><circle cx="512.9" cy="1338.8" r="3"/><circle cx="512.9" cy="1368.5" r="3"/></g>
<g fill="#00F500"><rect x="609.6" y="1142.3" width="5.2" height="5.2"/><rect x="586.8" y="1154.2" width="5.2" height="5.2"/><rect x="596.1" y="1154.2" width="5.2" height="5.2"/><rect x="618.9" y="1154.2" width="5.2" height="5.2"/><rect x="627.8" y="1154.2" width="5.2" height="5.2"/><rect x="600.5" y="1159.3" width="5.2" height="5.2"/><rect x="609.6" y="1159.3" width="5.2" height="5.2"/><rect x="618.9" y="1166.6" width="5.2" height="5.2"/><rect x="596.1" y="1171.5" width="5.2" height="5.2"/><rect x="605.2" y="1174.8" width="5.2" height="5.2"/><rect x="623.4" y="1174.8" width="5.2" height="5.2"/><rect x="614.5" y="1179.3" width="5.2" height="5.2"/><rect x="600.5" y="1184.2" width="5.2" height="5.2"/><rect x="609.6" y="1189.3" width="5.2" height="5.2"/><rect x="618.9" y="1189.3" width="5.2" height="5.2"/><rect x="605.2" y="1194.3" width="5.2" height="5.2"/><rect x="627.8" y="1196.6" width="5.2" height="5.2"/><rect x="637.1" y="1194.3" width="5.2" height="5.2"/><rect x="586.8" y="1199.2" width="5.2" height="5.2"/><rect x="600.5" y="1199.2" width="5.2" height="5.2"/><rect x="618.9" y="1199.2" width="5.2" height="5.2"/><rect x="591.4" y="1203.2" width="5.2" height="5.2"/><rect x="609.6" y="1202.6" width="5.2" height="5.2"/><rect x="627.8" y="1207" width="5.2" height="5.2"/><rect x="600.5" y="1212.1" width="5.2" height="5.2"/><rect x="609.6" y="1212.1" width="5.2" height="5.2"/><rect x="618.9" y="1212.1" width="5.2" height="5.2"/><rect x="605.2" y="1224.3" width="5.2" height="5.2"/><rect x="618.9" y="1226.5" width="5.2" height="5.2"/><rect x="614.5" y="1232" width="5.2" height="5.2"/><rect x="605.2" y="1236.9" width="5.2" height="5.2"/><rect x="605.2" y="1262" width="5.2" height="5.2"/><rect x="614.5" y="1264.2" width="5.2" height="5.2"/><rect x="609.6" y="1291.2" width="5.2" height="5.2"/><rect x="609.6" y="1321.6" width="5.2" height="5.2"/><rect x="605.2" y="1333.8" width="5.2" height="5.2"/><rect x="614.5" y="1333.8" width="5.2" height="5.2"/><rect x="614.3" y="1161.5" width="5.2" height="5.2"/><rect x="605.2" y="1164.9" width="5.2" height="5.2"/><rect x="596.1" y="1205.9" width="5.2" height="5.2"/></g>
<line x1="512.9" y1="1274.5" x2="512.9" y2="1353.7" stroke="#FF2702" stroke-width="2"/>
<line x1="495.8" y1="1274.5" x2="530.2" y2="1274.5" stroke="#FF2702" stroke-width="2"/>
<line x1="495.8" y1="1353.7" x2="530.2" y2="1353.7" stroke="#FF2702" stroke-width="2"/>
<line x1="480.1" y1="1314.4" x2="545.7" y2="1314.4" stroke="#FF2702" stroke-width="3.4"/>
<line x1="612.2" y1="1159.7" x2="612.2" y2="1257.9" stroke="#FF2702" stroke-width="2"/>
<line x1="595.4" y1="1159.7" x2="629.5" y2="1159.7" stroke="#FF2702" stroke-width="2"/>
<line x1="595.4" y1="1257.9" x2="629.5" y2="1257.9" stroke="#FF2702" stroke-width="2"/>
<line x1="579.4" y1="1208.9" x2="645.5" y2="1208.9" stroke="#FF2702" stroke-width="3.4"/>
</g>
<g>
<text x="915" y="1089.9" font-size="20.8" text-anchor="middle">Mettl3/Pyeon</text>
<line x1="820.4" y1="1104.3" x2="820.4" y2="1403.5" stroke="#000" stroke-width="2.2"/>
<line x1="820.4" y1="1402.4" x2="1018.1" y2="1402.4" stroke="#000" stroke-width="2.2"/>
<line x1="813.9" y1="1153.7" x2="820.4" y2="1153.7" stroke="#000" stroke-width="2.2"/>
<text x="804.6" y="1160.9" font-size="20.7" text-anchor="end">6</text>
<line x1="813.9" y1="1253.3" x2="820.4" y2="1253.3" stroke="#000" stroke-width="2.2"/>
<text x="804.6" y="1260.5" font-size="20.7" text-anchor="end">4</text>
<line x1="813.9" y1="1352.6" x2="820.4" y2="1352.6" stroke="#000" stroke-width="2.2"/>
<text x="804.6" y="1359.8" font-size="20.7" text-anchor="end">2</text>
<line x1="869.6" y1="1402.4" x2="869.6" y2="1409.4" stroke="#000" stroke-width="2.2"/>
<line x1="968.7" y1="1402.4" x2="968.7" y2="1409.4" stroke="#000" stroke-width="2.2"/>
<text x="774.8" y="1249.3" font-size="20.7" text-anchor="middle" transform="rotate(-90 774.8 1249.3)">Relativem Mettl3 expression</text>
<text x="868.9" y="1433.4" font-size="20.7" text-anchor="middle">Normal</text>
<text x="868.9" y="1458" font-size="20.7" text-anchor="middle">(<tspan font-style="italic">n</tspan> = 22)</text>
<text x="967.6" y="1433.4" font-size="20.7" text-anchor="middle">Cancer</text>
<text x="967.6" y="1458" font-size="20.7" text-anchor="middle">(<tspan font-style="italic">n</tspan> = 20)</text>
<text x="919" y="1157.5" font-size="22.5" text-anchor="middle">p = 0.043</text>
<polyline points="869.6,1203.6 869.6,1172.3 968.7,1172.3 968.7,1184.5" fill="none" stroke="#000" stroke-width="2" stroke-linejoin="miter" stroke-linecap="butt"/>
<g fill="#000"><circle cx="864.7" cy="1212.9" r="3"/><circle cx="874.2" cy="1212" r="3"/><circle cx="869.4" cy="1225.3" r="3"/><circle cx="860.1" cy="1241.7" r="3"/><circle cx="874.2" cy="1241.3" r="3"/><circle cx="864.7" cy="1247.3" r="3"/><circle cx="874.2" cy="1254.4" r="3"/><circle cx="883.1" cy="1264.3" r="3"/><circle cx="851" cy="1270.5" r="3"/><circle cx="860.1" cy="1272.8" r="3"/><circle cx="864.7" cy="1275.4" r="3"/><circle cx="874.2" cy="1271.4" r="3"/><circle cx="874.2" cy="1285" r="3"/><circle cx="879.1" cy="1284.5" r="3"/><circle cx="864.7" cy="1294.5" r="3"/><circle cx="864.7" cy="1314.9" r="3"/><circle cx="874.2" cy="1320" r="3"/><circle cx="874.2" cy="1329.3" r="3"/><circle cx="860.1" cy="1333.7" r="3"/><circle cx="864.7" cy="1341.5" r="3"/><circle cx="874.2" cy="1346.8" r="3"/><circle cx="869.4" cy="1357" r="3"/></g>
<g fill="#00F500"><rect x="961.2" y="1195.5" width="5.2" height="5.2"/><rect x="970.5" y="1196.3" width="5.2" height="5.2"/><rect x="965.9" y="1206.3" width="5.2" height="5.2"/><rect x="961.2" y="1219.6" width="5.2" height="5.2"/><rect x="970.5" y="1221.4" width="5.2" height="5.2"/><rect x="947.7" y="1224.3" width="5.2" height="5.2"/><rect x="956.8" y="1228" width="5.2" height="5.2"/><rect x="975.2" y="1228.5" width="5.2" height="5.2"/><rect x="984.5" y="1227.2" width="5.2" height="5.2"/><rect x="965.9" y="1232.5" width="5.2" height="5.2"/><rect x="943" y="1258.4" width="5.2" height="5.2"/><rect x="952.3" y="1263.1" width="5.2" height="5.2"/><rect x="961.2" y="1265.7" width="5.2" height="5.2"/><rect x="970.5" y="1266.4" width="5.2" height="5.2"/><rect x="979.8" y="1263.5" width="5.2" height="5.2"/><rect x="988.9" y="1262.8" width="5.2" height="5.2"/><rect x="965.9" y="1281.9" width="5.2" height="5.2"/><rect x="961.2" y="1294.5" width="5.2" height="5.2"/><rect x="970.5" y="1296.1" width="5.2" height="5.2"/><rect x="965.9" y="1384.3" width="5.2" height="5.2"/></g>
<line x1="869.6" y1="1238" x2="869.6" y2="1325.3" stroke="#FF2702" stroke-width="2"/>
<line x1="852.1" y1="1238" x2="886.9" y2="1238" stroke="#FF2702" stroke-width="2"/>
<line x1="852.1" y1="1325.3" x2="886.9" y2="1325.3" stroke="#FF2702" stroke-width="2"/>
<line x1="836.3" y1="1281.6" x2="902.4" y2="1281.6" stroke="#FF2702" stroke-width="3.4"/>
<line x1="968.7" y1="1209.8" x2="968.7" y2="1297.1" stroke="#FF2702" stroke-width="2"/>
<line x1="951.2" y1="1209.8" x2="986" y2="1209.8" stroke="#FF2702" stroke-width="2"/>
<line x1="951.2" y1="1297.1" x2="986" y2="1297.1" stroke="#FF2702" stroke-width="2"/>
<line x1="935.6" y1="1253.5" x2="1001.9" y2="1253.5" stroke="#FF2702" stroke-width="3.4"/>
</g>
</g>
<g id="pi">
<text x="1090" y="1084" font-size="39" font-weight="bold">i</text>
<g>
<text x="1282.1" y="1089.9" font-size="20.8" text-anchor="middle">YTHDF1/Scottto cervix</text>
<line x1="1180.2" y1="1102.7" x2="1180.2" y2="1404.7" stroke="#000" stroke-width="2.2"/>
<line x1="1174.2" y1="1403.6" x2="1379.2" y2="1403.6" stroke="#000" stroke-width="2.2"/>
<line x1="1173.7" y1="1103.8" x2="1180.2" y2="1103.8" stroke="#000" stroke-width="2.2"/>
<text x="1165.8" y="1111" font-size="20.7" text-anchor="end">0.6</text>
<line x1="1173.7" y1="1163.7" x2="1180.2" y2="1163.7" stroke="#000" stroke-width="2.2"/>
<text x="1165.8" y="1170.9" font-size="20.7" text-anchor="end">0.4</text>
<line x1="1173.7" y1="1223.6" x2="1180.2" y2="1223.6" stroke="#000" stroke-width="2.2"/>
<text x="1165.8" y="1230.8" font-size="20.7" text-anchor="end">0.2</text>
<line x1="1173.7" y1="1283.4" x2="1180.2" y2="1283.4" stroke="#000" stroke-width="2.2"/>
<text x="1165.8" y="1290.6" font-size="20.7" text-anchor="end">0.0</text>
<line x1="1173.7" y1="1343.3" x2="1180.2" y2="1343.3" stroke="#000" stroke-width="2.2"/>
<text x="1165.8" y="1350.5" font-size="20.7" text-anchor="end">−0.2</text>
<line x1="1173.7" y1="1403.6" x2="1180.2" y2="1403.6" stroke="#000" stroke-width="2.2"/>
<text x="1165.8" y="1410.8" font-size="20.7" text-anchor="end">−0.4</text>
<line x1="1229.6" y1="1403.6" x2="1229.6" y2="1410.6" stroke="#000" stroke-width="2.2"/>
<line x1="1329.8" y1="1403.6" x2="1329.8" y2="1410.6" stroke="#000" stroke-width="2.2"/>
<text x="1106" y="1248.4" font-size="20.7" text-anchor="middle" transform="rotate(-90 1106 1248.4)">Relativem IGF2BP3 expression</text>
<text x="1230.7" y="1434.5" font-size="20.7" text-anchor="middle">Normal</text>
<text x="1230.7" y="1459.1" font-size="20.7" text-anchor="middle">(<tspan font-style="italic">n</tspan> = 7)</text>
<text x="1329.8" y="1434.5" font-size="20.7" text-anchor="middle">Cancer</text>
<text x="1329.8" y="1459.1" font-size="20.7" text-anchor="middle">(<tspan font-style="italic">n</tspan> = 84)</text>
<text x="1279.9" y="1120.5" font-size="22.5" text-anchor="middle">p = 0.027</text>
<polyline points="1230.7,1160.8 1230.7,1128.7 1331.1,1128.7 1331.1,1140.9" fill="none" stroke="#000" stroke-width="2" stroke-linejoin="miter" stroke-linecap="butt"/>
<g fill="#000"><circle cx="1220.7" cy="1292.7" r="3"/><circle cx="1238.9" cy="1298.9" r="3"/><circle cx="1229.6" cy="1302" r="3"/><circle cx="1225.2" cy="1322.6" r="3"/><circle cx="1238.9" cy="1326" r="3"/><circle cx="1234" cy="1331.5" r="3"/><circle cx="1225.2" cy="1340.8" r="3"/></g>
<g fill="#00F500"><rect x="1326.8" y="1143.4" width="5.2" height="5.2"/><rect x="1336.1" y="1173.3" width="5.2" height="5.2"/><rect x="1317.9" y="1179.3" width="5.2" height="5.2"/><rect x="1326.8" y="1182.6" width="5.2" height="5.2"/><rect x="1322.3" y="1194.8" width="5.2" height="5.2"/><rect x="1331.2" y="1194.8" width="5.2" height="5.2"/><rect x="1317.9" y="1200.8" width="5.2" height="5.2"/><rect x="1336.1" y="1200.8" width="5.2" height="5.2"/><rect x="1326.8" y="1207" width="5.2" height="5.2"/><rect x="1331.2" y="1212.5" width="5.2" height="5.2"/><rect x="1322.3" y="1218.5" width="5.2" height="5.2"/><rect x="1296.8" y="1221.4" width="5.2" height="5.2"/><rect x="1305.9" y="1221.4" width="5.2" height="5.2"/><rect x="1347.8" y="1224.3" width="5.2" height="5.2"/><rect x="1356.7" y="1221.4" width="5.2" height="5.2"/><rect x="1313.5" y="1227.4" width="5.2" height="5.2"/><rect x="1331.2" y="1228.5" width="5.2" height="5.2"/><rect x="1340.5" y="1228.5" width="5.2" height="5.2"/><rect x="1303.7" y="1248" width="5.2" height="5.2"/><rect x="1349.4" y="1248" width="5.2" height="5.2"/><rect x="1340.5" y="1251.3" width="5.2" height="5.2"/><rect x="1313" y="1254" width="5.2" height="5.2"/><rect x="1322.3" y="1254" width="5.2" height="5.2"/><rect x="1331.2" y="1254" width="5.2" height="5.2"/><rect x="1308.4" y="1269.1" width="5.2" height="5.2"/><rect x="1317.5" y="1269.1" width="5.2" height="5.2"/><rect x="1344.9" y="1269.1" width="5.2" height="5.2"/><rect x="1336.1" y="1271.9" width="5.2" height="5.2"/><rect x="1326.8" y="1275" width="5.2" height="5.2"/><rect x="1331.2" y="1332.2" width="5.2" height="5.2"/><rect x="1322.3" y="1338.2" width="5.2" height="5.2"/><rect x="1326.8" y="1365" width="5.2" height="5.2"/><rect x="1326.8" y="1383.2" width="5.2" height="5.2"/><rect x="1301.5" y="1277.9" width="5.2" height="5.2"/><rect x="1308.4" y="1277.9" width="5.2" height="5.2"/><rect x="1345.2" y="1277.9" width="5.2" height="5.2"/><rect x="1352" y="1277.9" width="5.2" height="5.2"/><rect x="1313" y="1281.2" width="5.2" height="5.2"/><rect x="1340.5" y="1281.2" width="5.2" height="5.2"/><rect x="1317.5" y="1283.9" width="5.2" height="5.2"/><rect x="1322.3" y="1283.9" width="5.2" height="5.2"/><rect x="1331.2" y="1283.9" width="5.2" height="5.2"/><rect x="1336.1" y="1283.9" width="5.2" height="5.2"/><rect x="1296.8" y="1290.1" width="5.2" height="5.2"/><rect x="1301.5" y="1290.1" width="5.2" height="5.2"/><rect x="1352" y="1290.1" width="5.2" height="5.2"/><rect x="1356.7" y="1290.1" width="5.2" height="5.2"/><rect x="1305.9" y="1293" width="5.2" height="5.2"/><rect x="1347.4" y="1293" width="5.2" height="5.2"/><rect x="1310.6" y="1295.9" width="5.2" height="5.2"/><rect x="1315.2" y="1295.9" width="5.2" height="5.2"/><rect x="1338.3" y="1295.9" width="5.2" height="5.2"/><rect x="1342.9" y="1295.9" width="5.2" height="5.2"/><rect x="1319.9" y="1299" width="5.2" height="5.2"/><rect x="1333.6" y="1299" width="5.2" height="5.2"/><rect x="1324.5" y="1301.9" width="5.2" height="5.2"/><rect x="1329" y="1301.9" width="5.2" height="5.2"/><rect x="1301.5" y="1305.2" width="5.2" height="5.2"/><rect x="1352" y="1305.2" width="5.2" height="5.2"/><rect x="1305.9" y="1307.9" width="5.2" height="5.2"/><rect x="1310.6" y="1307.9" width="5.2" height="5.2"/><rect x="1342.9" y="1307.9" width="5.2" height="5.2"/><rect x="1347.4" y="1307.9" width="5.2" height="5.2"/><rect x="1315.2" y="1311.2" width="5.2" height="5.2"/><rect x="1338.3" y="1311.2" width="5.2" height="5.2"/><rect x="1296.8" y="1313.8" width="5.2" height="5.2"/><rect x="1319.9" y="1313.8" width="5.2" height="5.2"/><rect x="1324.5" y="1313.8" width="5.2" height="5.2"/><rect x="1329" y="1313.8" width="5.2" height="5.2"/><rect x="1333.6" y="1313.8" width="5.2" height="5.2"/><rect x="1356.7" y="1313.8" width="5.2" height="5.2"/><rect x="1305.9" y="1316.7" width="5.2" height="5.2"/><rect x="1347.4" y="1316.7" width="5.2" height="5.2"/><rect x="1315.2" y="1320" width="5.2" height="5.2"/><rect x="1338.3" y="1320" width="5.2" height="5.2"/><rect x="1322.3" y="1323.4" width="5.2" height="5.2"/><rect x="1331.2" y="1323.4" width="5.2" height="5.2"/></g>
<line x1="1229.6" y1="1297.8" x2="1229.6" y2="1334.8" stroke="#FF2702" stroke-width="2"/>
<line x1="1212.5" y1="1297.8" x2="1246.9" y2="1297.8" stroke="#FF2702" stroke-width="2"/>
<line x1="1212.5" y1="1334.8" x2="1246.9" y2="1334.8" stroke="#FF2702" stroke-width="2"/>
<line x1="1196.8" y1="1316.2" x2="1262.9" y2="1316.2" stroke="#FF2702" stroke-width="3.4"/>
<line x1="1329.4" y1="1232.9" x2="1329.4" y2="1322.6" stroke="#FF2702" stroke-width="2"/>
<line x1="1312.1" y1="1232.9" x2="1346.4" y2="1232.9" stroke="#FF2702" stroke-width="2"/>
<line x1="1312.1" y1="1322.6" x2="1346.4" y2="1322.6" stroke="#FF2702" stroke-width="2"/>
<line x1="1296.1" y1="1277.9" x2="1362.6" y2="1277.9" stroke="#FF2702" stroke-width="3.4"/>
</g>
<g>
<text x="1646.3" y="1089.2" font-size="20.8" text-anchor="middle">YTHDF1/Biewenga cervix</text>
<line x1="1547.2" y1="1102.7" x2="1547.2" y2="1404.7" stroke="#000" stroke-width="2.2"/>
<line x1="1541.3" y1="1403.6" x2="1745.6" y2="1403.6" stroke="#000" stroke-width="2.2"/>
<line x1="1540.7" y1="1103.8" x2="1547.2" y2="1103.8" stroke="#000" stroke-width="2.2"/>
<text x="1531.1" y="1111" font-size="20.7" text-anchor="end">1.0</text>
<line x1="1540.7" y1="1179" x2="1547.2" y2="1179" stroke="#000" stroke-width="2.2"/>
<text x="1531.1" y="1186.2" font-size="20.7" text-anchor="end">0.5</text>
<line x1="1540.7" y1="1253.9" x2="1547.2" y2="1253.9" stroke="#000" stroke-width="2.2"/>
<text x="1531.1" y="1261.1" font-size="20.7" text-anchor="end">0.0</text>
<line x1="1540.7" y1="1328.6" x2="1547.2" y2="1328.6" stroke="#000" stroke-width="2.2"/>
<text x="1531.1" y="1335.8" font-size="20.7" text-anchor="end">−0.5</text>
<line x1="1540.7" y1="1403.6" x2="1547.2" y2="1403.6" stroke="#000" stroke-width="2.2"/>
<text x="1531.1" y="1410.8" font-size="20.7" text-anchor="end">−1.0</text>
<line x1="1596.5" y1="1403.6" x2="1596.5" y2="1410.6" stroke="#000" stroke-width="2.2"/>
<line x1="1696.7" y1="1403.6" x2="1696.7" y2="1410.6" stroke="#000" stroke-width="2.2"/>
<text x="1472.4" y="1253" font-size="20.7" text-anchor="middle" transform="rotate(-90 1472.4 1253)">Relativem YTHDF1 expression</text>
<text x="1596.5" y="1436" font-size="20.7" text-anchor="middle">(<tspan font-style="italic">n</tspan> = 5)</text>
<text x="1695.1" y="1436" font-size="20.7" text-anchor="middle">(<tspan font-style="italic">n</tspan> = 40)</text>
<text x="1647.4" y="1120.5" font-size="22.5" text-anchor="middle">p = 0.001</text>
<polyline points="1597.6,1160.8 1597.6,1128.7 1697.3,1128.7 1697.3,1142" fill="none" stroke="#000" stroke-width="2" stroke-linejoin="miter" stroke-linecap="butt"/>
<g fill="#000"><circle cx="1596.5" cy="1298.9" r="3"/><circle cx="1591.8" cy="1339.3" r="3"/><circle cx="1601.1" cy="1341.5" r="3"/><circle cx="1591.8" cy="1368.5" r="3"/><circle cx="1601.1" cy="1367.6" r="3"/></g>
<g fill="#00F500"><rect x="1693.6" y="1195.9" width="5.2" height="5.2"/><rect x="1698.3" y="1214.1" width="5.2" height="5.2"/><rect x="1689" y="1216.5" width="5.2" height="5.2"/><rect x="1702.7" y="1228.7" width="5.2" height="5.2"/><rect x="1684.3" y="1230.3" width="5.2" height="5.2"/><rect x="1693.6" y="1234.7" width="5.2" height="5.2"/><rect x="1702.7" y="1242.5" width="5.2" height="5.2"/><rect x="1679.6" y="1246.9" width="5.2" height="5.2"/><rect x="1693.6" y="1245.8" width="5.2" height="5.2"/><rect x="1707.4" y="1248.7" width="5.2" height="5.2"/><rect x="1689" y="1252.4" width="5.2" height="5.2"/><rect x="1698.3" y="1256.4" width="5.2" height="5.2"/><rect x="1664.1" y="1269.1" width="5.2" height="5.2"/><rect x="1679.6" y="1267.5" width="5.2" height="5.2"/><rect x="1689" y="1267.5" width="5.2" height="5.2"/><rect x="1707.4" y="1266.4" width="5.2" height="5.2"/><rect x="1723.1" y="1269.1" width="5.2" height="5.2"/><rect x="1698.3" y="1269.1" width="5.2" height="5.2"/><rect x="1672.5" y="1275.7" width="5.2" height="5.2"/><rect x="1679.6" y="1275.7" width="5.2" height="5.2"/><rect x="1689" y="1275.7" width="5.2" height="5.2"/><rect x="1698.3" y="1277.9" width="5.2" height="5.2"/><rect x="1707.4" y="1275.7" width="5.2" height="5.2"/><rect x="1714.7" y="1275.7" width="5.2" height="5.2"/><rect x="1674.8" y="1281.2" width="5.2" height="5.2"/><rect x="1716.4" y="1281.2" width="5.2" height="5.2"/><rect x="1684.3" y="1287.5" width="5.2" height="5.2"/><rect x="1693.6" y="1289" width="5.2" height="5.2"/><rect x="1707.4" y="1289" width="5.2" height="5.2"/><rect x="1712" y="1291.9" width="5.2" height="5.2"/><rect x="1674.8" y="1295" width="5.2" height="5.2"/><rect x="1684.3" y="1297.9" width="5.2" height="5.2"/><rect x="1702.7" y="1296.3" width="5.2" height="5.2"/><rect x="1693.6" y="1300.1" width="5.2" height="5.2"/><rect x="1684.3" y="1321.2" width="5.2" height="5.2"/><rect x="1698.3" y="1320.5" width="5.2" height="5.2"/><rect x="1689" y="1327.4" width="5.2" height="5.2"/><rect x="1698.3" y="1332.2" width="5.2" height="5.2"/><rect x="1693.6" y="1368.4" width="5.2" height="5.2"/></g>
<line x1="1596.5" y1="1314.9" x2="1596.5" y2="1371.9" stroke="#FF2702" stroke-width="2"/>
<line x1="1579.2" y1="1314.9" x2="1613.7" y2="1314.9" stroke="#FF2702" stroke-width="2"/>
<line x1="1579.2" y1="1371.9" x2="1613.7" y2="1371.9" stroke="#FF2702" stroke-width="2"/>
<line x1="1563.4" y1="1343.7" x2="1629.5" y2="1343.7" stroke="#FF2702" stroke-width="3.4"/>
<line x1="1696.2" y1="1240.2" x2="1696.2" y2="1309.3" stroke="#FF2702" stroke-width="2"/>
<line x1="1678.9" y1="1240.2" x2="1713.5" y2="1240.2" stroke="#FF2702" stroke-width="2"/>
<line x1="1678.9" y1="1309.3" x2="1713.5" y2="1309.3" stroke="#FF2702" stroke-width="2"/>
<line x1="1663" y1="1274.5" x2="1729.5" y2="1274.5" stroke="#FF2702" stroke-width="3.4"/>
</g>
</g>
<g id="ph">
<text x="0" y="1541" font-size="39" font-weight="bold">h</text>
<g>
<text x="201.3" y="1579.2" font-size="20.8" text-anchor="middle">IGF2BP3/Zhai cervix</text>
<line x1="93.8" y1="1593.6" x2="93.8" y2="1898" stroke="#000" stroke-width="2.2"/>
<line x1="93.8" y1="1896.9" x2="293.1" y2="1896.9" stroke="#000" stroke-width="2.2"/>
<line x1="87.3" y1="1594.7" x2="93.8" y2="1594.7" stroke="#000" stroke-width="2.2"/>
<text x="78.7" y="1601.9" font-size="20.7" text-anchor="end">4</text>
<line x1="87.3" y1="1681.2" x2="93.8" y2="1681.2" stroke="#000" stroke-width="2.2"/>
<text x="78.7" y="1688.4" font-size="20.7" text-anchor="end">2</text>
<line x1="87.3" y1="1767.6" x2="93.8" y2="1767.6" stroke="#000" stroke-width="2.2"/>
<text x="78.7" y="1774.8" font-size="20.7" text-anchor="end">0</text>
<line x1="87.3" y1="1854.1" x2="93.8" y2="1854.1" stroke="#000" stroke-width="2.2"/>
<text x="78.7" y="1861.3" font-size="20.7" text-anchor="end">−2</text>
<line x1="143" y1="1896.9" x2="143" y2="1903.9" stroke="#000" stroke-width="2.2"/>
<line x1="243.2" y1="1896.9" x2="243.2" y2="1903.9" stroke="#000" stroke-width="2.2"/>
<text x="37.6" y="1745" font-size="20.7" text-anchor="middle" transform="rotate(-90 37.6 1745)">Relativem IGF2BP3 expression</text>
<text x="143.4" y="1927.1" font-size="20.7" text-anchor="middle">Normal</text>
<text x="143.4" y="1951.7" font-size="20.7" text-anchor="middle">(<tspan font-style="italic">n</tspan> = 10)</text>
<text x="243.2" y="1927.1" font-size="20.7" text-anchor="middle">Cancer</text>
<text x="243.2" y="1951.7" font-size="20.7" text-anchor="middle">(<tspan font-style="italic">n</tspan> = 24)</text>
<text x="194.4" y="1612.5" font-size="22.5" text-anchor="middle">p = 0.008</text>
<polyline points="144.1,1651.9 144.1,1620.2 244.3,1620.2 244.3,1633.1" fill="none" stroke="#000" stroke-width="2" stroke-linejoin="miter" stroke-linecap="butt"/>
<g fill="#000"><circle cx="143" cy="1805.5" r="3"/><circle cx="143" cy="1819.7" r="3"/><circle cx="133.9" cy="1833.7" r="3"/><circle cx="152.1" cy="1837" r="3"/><circle cx="143" cy="1840.4" r="3"/><circle cx="133.9" cy="1851.9" r="3"/><circle cx="143" cy="1852.5" r="3"/><circle cx="152.1" cy="1849.2" r="3"/><circle cx="138.6" cy="1864.1" r="3"/><circle cx="147.6" cy="1861.9" r="3"/></g>
<g fill="#00F500"><rect x="240.6" y="1664.8" width="5.2" height="5.2"/><rect x="235.9" y="1669.9" width="5.2" height="5.2"/><rect x="245" y="1678.8" width="5.2" height="5.2"/><rect x="240.6" y="1694.1" width="5.2" height="5.2"/><rect x="240.6" y="1711.8" width="5.2" height="5.2"/><rect x="235.9" y="1727.6" width="5.2" height="5.2"/><rect x="245" y="1725.4" width="5.2" height="5.2"/><rect x="235.9" y="1737.3" width="5.2" height="5.2"/><rect x="245" y="1740.2" width="5.2" height="5.2"/><rect x="240.6" y="1752" width="5.2" height="5.2"/><rect x="226.6" y="1759.5" width="5.2" height="5.2"/><rect x="235.9" y="1762.8" width="5.2" height="5.2"/><rect x="254.1" y="1761.3" width="5.2" height="5.2"/><rect x="245" y="1766.8" width="5.2" height="5.2"/><rect x="240.6" y="1777.9" width="5.2" height="5.2"/><rect x="235.9" y="1796.3" width="5.2" height="5.2"/><rect x="245" y="1797.2" width="5.2" height="5.2"/><rect x="245" y="1823.8" width="5.2" height="5.2"/><rect x="231.3" y="1827.8" width="5.2" height="5.2"/><rect x="235.9" y="1833.3" width="5.2" height="5.2"/><rect x="245" y="1841.7" width="5.2" height="5.2"/><rect x="231.3" y="1852.2" width="5.2" height="5.2"/><rect x="240.6" y="1853.7" width="5.2" height="5.2"/><rect x="249.7" y="1853.3" width="5.2" height="5.2"/></g>
<line x1="143" y1="1823.1" x2="143" y2="1860.3" stroke="#FF2702" stroke-width="2"/>
<line x1="125.9" y1="1823.1" x2="160.3" y2="1823.1" stroke="#FF2702" stroke-width="2"/>
<line x1="125.9" y1="1860.3" x2="160.3" y2="1860.3" stroke="#FF2702" stroke-width="2"/>
<line x1="110.2" y1="1841.7" x2="176.2" y2="1841.7" stroke="#FF2702" stroke-width="3.4"/>
<line x1="243.2" y1="1710" x2="243.2" y2="1829.3" stroke="#FF2702" stroke-width="2"/>
<line x1="226.1" y1="1710" x2="260.5" y2="1710" stroke="#FF2702" stroke-width="2"/>
<line x1="226.1" y1="1829.3" x2="260.5" y2="1829.3" stroke="#FF2702" stroke-width="2"/>
<line x1="210.2" y1="1769.6" x2="276" y2="1769.6" stroke="#FF2702" stroke-width="3.4"/>
</g>
<g>
<text x="573.9" y="1579.2" font-size="20.8" text-anchor="middle">IGF2BP3/Scottto cervix2</text>
<line x1="463.1" y1="1593.6" x2="463.1" y2="1897.3" stroke="#000" stroke-width="2.2"/>
<line x1="457.1" y1="1896.2" x2="661.9" y2="1896.2" stroke="#000" stroke-width="2.2"/>
<line x1="456.6" y1="1594.7" x2="463.1" y2="1594.7" stroke="#000" stroke-width="2.2"/>
<text x="447.6" y="1601.9" font-size="20.7" text-anchor="end">6</text>
<line x1="456.6" y1="1670.1" x2="463.1" y2="1670.1" stroke="#000" stroke-width="2.2"/>
<text x="447.6" y="1677.3" font-size="20.7" text-anchor="end">3</text>
<line x1="456.6" y1="1745.5" x2="463.1" y2="1745.5" stroke="#000" stroke-width="2.2"/>
<text x="447.6" y="1752.7" font-size="20.7" text-anchor="end">0</text>
<line x1="456.6" y1="1820.8" x2="463.1" y2="1820.8" stroke="#000" stroke-width="2.2"/>
<text x="447.6" y="1828" font-size="20.7" text-anchor="end">−3</text>
<line x1="456.6" y1="1896.2" x2="463.1" y2="1896.2" stroke="#000" stroke-width="2.2"/>
<text x="447.6" y="1903.4" font-size="20.7" text-anchor="end">−6</text>
<line x1="512.3" y1="1896.2" x2="512.3" y2="1903.2" stroke="#000" stroke-width="2.2"/>
<line x1="612.7" y1="1896.2" x2="612.7" y2="1903.2" stroke="#000" stroke-width="2.2"/>
<text x="406" y="1745" font-size="20.7" text-anchor="middle" transform="rotate(-90 406 1745)">Relativem IGF2BP3 expression</text>
<text x="512.3" y="1927.1" font-size="20.7" text-anchor="middle">Normal</text>
<text x="512.3" y="1951.7" font-size="20.7" text-anchor="middle">(<tspan font-style="italic">n</tspan> = 24)</text>
<text x="612.1" y="1927.1" font-size="20.7" text-anchor="middle">Cancer</text>
<text x="612.1" y="1951.7" font-size="20.7" text-anchor="middle">(<tspan font-style="italic">n</tspan> = 37)</text>
<text x="566.2" y="1612.5" font-size="22.5" text-anchor="middle">p = 0.005</text>
<polyline points="513,1651.9 513,1620.2 613.4,1620.2 613.4,1633.1" fill="none" stroke="#000" stroke-width="2" stroke-linejoin="miter" stroke-linecap="butt"/>
<g fill="#000"><circle cx="512.3" cy="1745.5" r="3"/><circle cx="507.6" cy="1752.8" r="3"/><circle cx="516.9" cy="1755.7" r="3"/><circle cx="503" cy="1770.5" r="3"/><circle cx="526.3" cy="1770.5" r="3"/><circle cx="493.9" cy="1776.5" r="3"/><circle cx="512.3" cy="1774.5" r="3"/><circle cx="521.6" cy="1777.2" r="3"/><circle cx="530.7" cy="1776.5" r="3"/><circle cx="503" cy="1780.5" r="3"/><circle cx="498.6" cy="1791.1" r="3"/><circle cx="526.3" cy="1789.8" r="3"/><circle cx="507.6" cy="1794.2" r="3"/><circle cx="516.9" cy="1793.4" r="3"/><circle cx="503" cy="1806.4" r="3"/><circle cx="512.3" cy="1805.5" r="3"/><circle cx="526.3" cy="1813.1" r="3"/><circle cx="521.6" cy="1816" r="3"/><circle cx="516.9" cy="1816" r="3"/><circle cx="503" cy="1820.4" r="3"/><circle cx="512.3" cy="1825.3" r="3"/><circle cx="516.9" cy="1833.7" r="3"/><circle cx="507.6" cy="1838.8" r="3"/></g>
<g fill="#00F500"><rect x="610.1" y="1635.6" width="5.2" height="5.2"/><rect x="600.8" y="1649.3" width="5.2" height="5.2"/><rect x="619" y="1648.2" width="5.2" height="5.2"/><rect x="610.1" y="1656" width="5.2" height="5.2"/><rect x="610.1" y="1673.7" width="5.2" height="5.2"/><rect x="605.2" y="1684.1" width="5.2" height="5.2"/><rect x="614.5" y="1687.5" width="5.2" height="5.2"/><rect x="610.1" y="1702.5" width="5.2" height="5.2"/><rect x="605.2" y="1714.3" width="5.2" height="5.2"/><rect x="614.5" y="1718" width="5.2" height="5.2"/><rect x="610.1" y="1730.2" width="5.2" height="5.2"/><rect x="582.4" y="1732" width="5.2" height="5.2"/><rect x="591.3" y="1734.7" width="5.2" height="5.2"/><rect x="628.3" y="1732" width="5.2" height="5.2"/><rect x="637.4" y="1732" width="5.2" height="5.2"/><rect x="600.8" y="1740.2" width="5.2" height="5.2"/><rect x="619" y="1739.5" width="5.2" height="5.2"/><rect x="600.8" y="1757.9" width="5.2" height="5.2"/><rect x="610.1" y="1760.2" width="5.2" height="5.2"/><rect x="623.4" y="1760.2" width="5.2" height="5.2"/><rect x="619" y="1767.9" width="5.2" height="5.2"/><rect x="600.8" y="1771.2" width="5.2" height="5.2"/><rect x="610.1" y="1774.6" width="5.2" height="5.2"/><rect x="586.8" y="1785.7" width="5.2" height="5.2"/><rect x="595.9" y="1786.8" width="5.2" height="5.2"/><rect x="605.2" y="1789" width="5.2" height="5.2"/><rect x="614.5" y="1786.8" width="5.2" height="5.2"/><rect x="623.4" y="1786.3" width="5.2" height="5.2"/><rect x="632.7" y="1784.5" width="5.2" height="5.2"/><rect x="586.8" y="1800.5" width="5.2" height="5.2"/><rect x="595.9" y="1802.3" width="5.2" height="5.2"/><rect x="605.2" y="1804.5" width="5.2" height="5.2"/><rect x="614.5" y="1808.5" width="5.2" height="5.2"/><rect x="623.4" y="1803.4" width="5.2" height="5.2"/><rect x="632.7" y="1801.2" width="5.2" height="5.2"/><rect x="610.1" y="1853.3" width="5.2" height="5.2"/></g>
<line x1="512.3" y1="1766.5" x2="512.3" y2="1817.5" stroke="#FF2702" stroke-width="2"/>
<line x1="495.2" y1="1766.5" x2="529.6" y2="1766.5" stroke="#FF2702" stroke-width="2"/>
<line x1="495.2" y1="1817.5" x2="529.6" y2="1817.5" stroke="#FF2702" stroke-width="2"/>
<line x1="479.3" y1="1792" x2="545.3" y2="1792" stroke="#FF2702" stroke-width="3.4"/>
<line x1="612.7" y1="1696.3" x2="612.7" y2="1802.2" stroke="#FF2702" stroke-width="2"/>
<line x1="595.4" y1="1696.3" x2="629.8" y2="1696.3" stroke="#FF2702" stroke-width="2"/>
<line x1="595.4" y1="1802.2" x2="629.8" y2="1802.2" stroke="#FF2702" stroke-width="2"/>
<line x1="579.5" y1="1749.7" x2="645.5" y2="1749.7" stroke="#FF2702" stroke-width="3.4"/>
</g>
<g>
<text x="953.9" y="1579.9" font-size="20.8" text-anchor="middle">IGF2BP3/Biewenga cervix</text>
<line x1="837.5" y1="1593.6" x2="837.5" y2="1898" stroke="#000" stroke-width="2.2"/>
<line x1="831.5" y1="1896.9" x2="1036.6" y2="1896.9" stroke="#000" stroke-width="2.2"/>
<line x1="831" y1="1594.7" x2="837.5" y2="1594.7" stroke="#000" stroke-width="2.2"/>
<text x="822" y="1601.9" font-size="20.7" text-anchor="end">3</text>
<line x1="831" y1="1655.2" x2="837.5" y2="1655.2" stroke="#000" stroke-width="2.2"/>
<text x="822" y="1662.4" font-size="20.7" text-anchor="end">2</text>
<line x1="831" y1="1715.5" x2="837.5" y2="1715.5" stroke="#000" stroke-width="2.2"/>
<text x="822" y="1722.7" font-size="20.7" text-anchor="end">1</text>
<line x1="831" y1="1776.1" x2="837.5" y2="1776.1" stroke="#000" stroke-width="2.2"/>
<text x="822" y="1783.3" font-size="20.7" text-anchor="end">0</text>
<line x1="831" y1="1836.4" x2="837.5" y2="1836.4" stroke="#000" stroke-width="2.2"/>
<text x="822" y="1843.6" font-size="20.7" text-anchor="end">−1</text>
<line x1="831" y1="1896.9" x2="837.5" y2="1896.9" stroke="#000" stroke-width="2.2"/>
<text x="822" y="1904.1" font-size="20.7" text-anchor="end">−2</text>
<line x1="887.4" y1="1896.9" x2="887.4" y2="1903.9" stroke="#000" stroke-width="2.2"/>
<line x1="987.1" y1="1896.9" x2="987.1" y2="1903.9" stroke="#000" stroke-width="2.2"/>
<text x="779.7" y="1745" font-size="20.7" text-anchor="middle" transform="rotate(-90 779.7 1745)">Relativem IGF2BP3 expression</text>
<text x="886.7" y="1927.1" font-size="20.7" text-anchor="middle">Normal</text>
<text x="886.7" y="1951.7" font-size="20.7" text-anchor="middle">(<tspan font-style="italic">n</tspan> = 5)</text>
<text x="986.7" y="1927.1" font-size="20.7" text-anchor="middle">Cancer</text>
<text x="986.7" y="1951.7" font-size="20.7" text-anchor="middle">(<tspan font-style="italic">n</tspan> = 40)</text>
<text x="936.8" y="1612.5" font-size="22.5" text-anchor="middle">p = 0.008</text>
<polyline points="888,1651.9 888,1620.2 988.2,1620.2 988.2,1633.1" fill="none" stroke="#000" stroke-width="2" stroke-linejoin="miter" stroke-linecap="butt"/>
<g fill="#000"><circle cx="887.4" cy="1794.2" r="3"/><circle cx="882.7" cy="1829.3" r="3"/><circle cx="896.7" cy="1831.5" r="3"/><circle cx="891.8" cy="1836.6" r="3"/><circle cx="882.7" cy="1841.9" r="3"/></g>
<g fill="#00F500"><rect x="980.1" y="1678.8" width="5.2" height="5.2"/><rect x="989.2" y="1685.9" width="5.2" height="5.2"/><rect x="998.5" y="1689.7" width="5.2" height="5.2"/><rect x="970.8" y="1693" width="5.2" height="5.2"/><rect x="980.1" y="1695.9" width="5.2" height="5.2"/><rect x="989.2" y="1695.9" width="5.2" height="5.2"/><rect x="993.8" y="1711.4" width="5.2" height="5.2"/><rect x="975.4" y="1715.2" width="5.2" height="5.2"/><rect x="984.5" y="1715.8" width="5.2" height="5.2"/><rect x="984.5" y="1730.2" width="5.2" height="5.2"/><rect x="980.1" y="1739.8" width="5.2" height="5.2"/><rect x="975.4" y="1742.4" width="5.2" height="5.2"/><rect x="989.2" y="1741.3" width="5.2" height="5.2"/><rect x="984.5" y="1750.9" width="5.2" height="5.2"/><rect x="993.8" y="1750.2" width="5.2" height="5.2"/><rect x="970.8" y="1755.7" width="5.2" height="5.2"/><rect x="998.5" y="1756.4" width="5.2" height="5.2"/><rect x="980.1" y="1759.7" width="5.2" height="5.2"/><rect x="989.2" y="1764.2" width="5.2" height="5.2"/><rect x="980.1" y="1780.1" width="5.2" height="5.2"/><rect x="989.2" y="1777.9" width="5.2" height="5.2"/><rect x="970.8" y="1791.2" width="5.2" height="5.2"/><rect x="998.5" y="1795.6" width="5.2" height="5.2"/><rect x="980.1" y="1797.4" width="5.2" height="5.2"/><rect x="989.2" y="1799.6" width="5.2" height="5.2"/><rect x="961.7" y="1811.2" width="5.2" height="5.2"/><rect x="1007.8" y="1811.6" width="5.2" height="5.2"/><rect x="970.8" y="1815.1" width="5.2" height="5.2"/><rect x="998.5" y="1816.7" width="5.2" height="5.2"/><rect x="984.5" y="1816.7" width="5.2" height="5.2"/><rect x="975.4" y="1822.9" width="5.2" height="5.2"/><rect x="993.8" y="1820.5" width="5.2" height="5.2"/><rect x="984.5" y="1829.3" width="5.2" height="5.2"/><rect x="966.1" y="1848.8" width="5.2" height="5.2"/><rect x="1003.1" y="1850.4" width="5.2" height="5.2"/><rect x="975.4" y="1853.3" width="5.2" height="5.2"/><rect x="993.8" y="1854.8" width="5.2" height="5.2"/><rect x="984.5" y="1857.7" width="5.2" height="5.2"/><rect x="984.5" y="1867" width="5.2" height="5.2"/><rect x="984.5" y="1886.5" width="5.2" height="5.2"/></g>
<line x1="887.4" y1="1807.8" x2="887.4" y2="1845.5" stroke="#FF2702" stroke-width="2"/>
<line x1="870.1" y1="1807.8" x2="904.7" y2="1807.8" stroke="#FF2702" stroke-width="2"/>
<line x1="870.1" y1="1845.5" x2="904.7" y2="1845.5" stroke="#FF2702" stroke-width="2"/>
<line x1="854.3" y1="1826.6" x2="920.2" y2="1826.6" stroke="#FF2702" stroke-width="3.4"/>
<line x1="987.1" y1="1721.3" x2="987.1" y2="1837.5" stroke="#FF2702" stroke-width="2"/>
<line x1="969.8" y1="1721.3" x2="1004.4" y2="1721.3" stroke="#FF2702" stroke-width="2"/>
<line x1="969.8" y1="1837.5" x2="1004.4" y2="1837.5" stroke="#FF2702" stroke-width="2"/>
<line x1="954.3" y1="1779.6" x2="1020.4" y2="1779.6" stroke="#FF2702" stroke-width="3.4"/>
</g>
</g>
<g id="pj">
<text x="1213" y="1537" font-size="39" font-weight="bold">j</text>
<rect x="1321.5" y="1538.9" width="406.6" height="381.7" fill="none" stroke="#000" stroke-width="4.5"/>
<text x="1308.6" y="1548.8" font-size="29" text-anchor="end">1.0</text>
<text x="1308.6" y="1627.1" font-size="29" text-anchor="end">0.8</text>
<text x="1308.6" y="1700" font-size="29" text-anchor="end">0.6</text>
<text x="1308.6" y="1771.2" font-size="29" text-anchor="end">0.4</text>
<text x="1308.6" y="1838.1" font-size="29" text-anchor="end">0.2</text>
<text x="1308.6" y="1929.6" font-size="29" text-anchor="end">0</text>
<text x="1322.1" y="1953.1" font-size="29" text-anchor="middle">0</text>
<text x="1418.9" y="1953.1" font-size="29" text-anchor="middle">30</text>
<text x="1507.9" y="1953.1" font-size="29" text-anchor="middle">60</text>
<text x="1596.1" y="1953.1" font-size="29" text-anchor="middle">90</text>
<text x="1721.4" y="1953.1" font-size="29" text-anchor="middle">120</text>
<text x="1550.6" y="1991.5" font-size="29" text-anchor="middle">Months</text>
<text x="1245.6" y="1724.3" font-size="29" text-anchor="middle" transform="rotate(-90 1245.6 1724.3)">Probability</text>
<line x1="1724.6" y1="1539.2" x2="1724.6" y2="1920.4" stroke="#999" stroke-width="3"/>
<text x="1526.4" y="1577.6" font-size="29" text-anchor="middle">Disease free survival</text>
<text x="1529.2" y="1744.9" font-size="29" text-anchor="middle">Mettl3</text>
<text x="1529.2" y="1778.7" font-size="29" text-anchor="middle">p = 0.03</text>
<path d="M1324.6 1552.7 L1326.7 1552.7 L1326.7 1554.5 L1329.9 1554.5 L1329.9 1556.3 L1332.3 1556.3 L1332.3 1560.1 L1335.2 1560.1 L1335.2 1563.4 L1335.7 1563.4 L1335.7 1565.6 L1336 1565.6 L1336 1570.4 L1336.5 1570.4 L1336.5 1572.1 L1337 1572.1 L1337 1575.8 L1340.6 1575.8 L1340.6 1577.6 L1342.4 1577.6 L1342.4 1579.4 L1345.7 1579.4 L1345.7 1582.9 L1347.7 1582.9 L1347.7 1586.5 L1350.6 1586.5 L1350.6 1589.2 L1353 1589.2 L1353 1593.6 L1356 1593.6 L1356 1597 L1358.4 1597 L1358.4 1599 L1361.1 1599 L1361.1 1602.1 L1363.7 1602.1 L1363.7 1604.3 L1424.2 1604.3 L1424.2 1613.2 L1712.5 1613.2" fill="none" stroke="#1a1aff" stroke-width="2.8" stroke-linejoin="miter"/>
<path d="M1365.5 1600.5v7.6M1369.1 1600.5v7.6M1372.6 1600.5v7.6M1376.2 1600.5v7.6M1381.5 1600.5v7.6M1385.1 1600.5v7.6M1388.6 1600.5v7.6M1392.2 1600.5v7.6M1397.5 1600.5v7.6M1401.1 1600.5v7.6M1406.4 1600.5v7.6M1410 1600.5v7.6M1415.3 1600.5v7.6M1418.9 1600.5v7.6M1422.4 1600.5v7.6M1427.8 1609.4v7.6M1431.3 1609.4v7.6M1433.1 1609.4v7.6M1436.7 1609.4v7.6M1442 1609.4v7.6M1445.6 1609.4v7.6M1447.4 1609.4v7.6M1459.8 1609.4v7.6M1468.7 1609.4v7.6M1477.6 1609.4v7.6M1484.7 1609.4v7.6M1497.2 1609.4v7.6M1506.1 1609.4v7.6M1531 1609.4v7.6M1541.7 1609.4v7.6M1557.7 1609.4v7.6M1561.2 1609.4v7.6M1639.5 1609.4v7.6M1646.7 1609.4v7.6M1664.5 1609.4v7.6M1673.4 1609.4v7.6M1691.2 1609.4v7.6M1698.3 1609.4v7.6M1705.4 1609.4v7.6M1710.7 1609.4v7.6M1327.4 1550.7v7.6M1330.3 1552.5v7.6M1333.1 1556.3v7.6M1336.3 1566.6v7.6M1339.5 1572v7.6M1342.4 1575.6v7.6M1345.2 1575.6v7.6M1348.1 1582.7v7.6M1350.9 1585.4v7.6M1353.8 1589.8v7.6M1356.6 1593.2v7.6M1359.4 1595.2v7.6M1361.9 1598.3v7.6" fill="none" stroke="#1a1aff" stroke-width="1" opacity="0.75"/>
<path d="M1324.6 1552.7 L1328.6 1552.7 L1328.6 1555.2 L1331.7 1555.2 L1331.7 1559.8 L1335.9 1559.8 L1335.9 1563.6 L1338.8 1563.6 L1338.8 1566.9 L1339.8 1566.9 L1339.8 1568.9 L1341.5 1568.9 L1341.5 1572.8 L1342.4 1572.8 L1342.4 1575.8 L1343.9 1575.8 L1343.9 1579.8 L1345.2 1579.8 L1345.2 1583 L1346.3 1583 L1346.3 1585.8 L1347.7 1585.8 L1347.7 1588.3 L1348.7 1588.3 L1348.7 1592 L1350.1 1592 L1350.1 1593.2 L1350.6 1593.2 L1350.6 1596.3 L1352.3 1596.3 L1352.3 1599.6 L1353 1599.6 L1353 1602.5 L1354.2 1602.5 L1354.2 1605 L1355.2 1605 L1355.2 1608 L1356.1 1608 L1356.1 1611.2 L1357.4 1611.2 L1357.4 1614.7 L1358.4 1614.7 L1358.4 1616.8 L1359.6 1616.8 L1359.6 1620.5 L1360.8 1620.5 L1360.8 1623.4 L1361.7 1623.4 L1361.7 1624.6 L1362.9 1624.6 L1362.9 1629.1 L1363.7 1629.1 L1363.7 1631 L1364.9 1631 L1364.9 1633.8 L1365.6 1633.8 L1365.6 1635.8 L1366.6 1635.8 L1366.6 1639.2 L1367.3 1639.2 L1367.3 1641.7 L1369.5 1641.7 L1369.5 1644.2 L1372.6 1644.2 L1372.6 1648.8 L1375.9 1648.8 L1375.9 1652.4 L1378 1652.4 L1378 1654.1 L1394 1654.1 L1394 1663 L1498.3 1663 L1498.3 1682.6 L1712.5 1682.6" fill="none" stroke="#ff1a1a" stroke-width="2.8" stroke-linejoin="miter"/>
<path d="M1378 1650.3v7.6M1379.7 1650.3v7.6M1381.5 1650.3v7.6M1383.3 1650.3v7.6M1385.1 1650.3v7.6M1388.6 1650.3v7.6M1390.4 1650.3v7.6M1395.8 1659.2v7.6M1399.3 1659.2v7.6M1402.9 1659.2v7.6M1404.6 1659.2v7.6M1406.4 1659.2v7.6M1408.2 1659.2v7.6M1410 1659.2v7.6M1411.8 1659.2v7.6M1413.5 1659.2v7.6M1417.1 1659.2v7.6M1418.9 1659.2v7.6M1422.4 1659.2v7.6M1426 1659.2v7.6M1427.8 1659.2v7.6M1431.3 1659.2v7.6M1447.4 1659.2v7.6M1474.8 1659.2v7.6M1500.7 1678.8v7.6M1504.3 1678.8v7.6M1511.4 1678.8v7.6M1563 1678.8v7.6M1570.1 1678.8v7.6M1573.7 1678.8v7.6M1587.9 1678.8v7.6M1591.5 1678.8v7.6M1593.3 1678.8v7.6M1605.7 1678.8v7.6M1616.4 1678.8v7.6M1709 1678.8v7.6M1328.8 1551.4v7.6M1333.5 1556v7.6M1338.1 1559.8v7.6M1342.7 1572v7.6M1347.3 1582v7.6M1352 1592.5v7.6M1356.6 1607.4v7.6M1361.2 1619.6v7.6M1365.9 1632v7.6M1370.5 1640.4v7.6M1375.1 1645v7.6" fill="none" stroke="#ff1a1a" stroke-width="1" opacity="0.75"/>
<line x1="1356.6" y1="1859.5" x2="1411.8" y2="1859.5" stroke="#1a1aff" stroke-width="3.2"/>
<line x1="1356.6" y1="1886.2" x2="1411.8" y2="1886.2" stroke="#ff1a1a" stroke-width="3.2"/>
<text x="1422.4" y="1864.1" font-size="25">Low METTL3 (<tspan font-style="italic">n</tspan> = 146)</text>
<text x="1422.4" y="1892.6" font-size="25">High METTL3 (<tspan fill="#f2222a"><tspan font-style="italic">n</tspan> = 146</tspan>)</text>
</g>
<g id="pk">
<text x="0" y="2049" font-size="39" font-weight="bold">k</text>
<rect x="99" y="2044.8" width="457.3" height="384.2" fill="none" stroke="#000" stroke-width="4.5"/>
<text x="86.8" y="2057.2" font-size="29" text-anchor="end">1.0</text>
<text x="86.8" y="2134.1" font-size="29" text-anchor="end">0.8</text>
<text x="86.8" y="2205.8" font-size="29" text-anchor="end">0.6</text>
<text x="86.8" y="2277.1" font-size="29" text-anchor="end">0.4</text>
<text x="86.8" y="2345.4" font-size="29" text-anchor="end">0.2</text>
<text x="86.8" y="2435.9" font-size="29" text-anchor="end">0</text>
<text x="99" y="2460.7" font-size="29" text-anchor="middle">0</text>
<text x="195.8" y="2460.7" font-size="29" text-anchor="middle">50</text>
<text x="291.9" y="2460.7" font-size="29" text-anchor="middle">100</text>
<text x="393.5" y="2460.7" font-size="29" text-anchor="middle">150</text>
<text x="519.1" y="2460.7" font-size="29" text-anchor="middle">200</text>
<text x="328.1" y="2497.7" font-size="29" text-anchor="middle">Months</text>
<text x="22.9" y="2229.8" font-size="29" text-anchor="middle" transform="rotate(-90 22.9 2229.8)">Probability</text>
<text x="396.4" y="2239.1" font-size="29" text-anchor="middle">Cervical cancer</text>
<text x="390.9" y="2272.3" font-size="29" text-anchor="middle">Disease free survival</text>
<text x="125.6" y="2267.5" font-size="25">TBP</text>
<text x="125.6" y="2293.7" font-size="25">p = 0.03</text>
<path d="M101.6 2058 L114.5 2058 L114.5 2064.7 L133 2064.7 L135 2064.7 L135 2068.4 L136.7 2068.4 L136.7 2071 L140 2071 L140 2075.8 L142.2 2075.8 L142.2 2078.3 L145.5 2078.3 L145.5 2083.1 L147.8 2083.1 L147.8 2085.7 L159.6 2085.7 L159.6 2097.6 L472.9 2097.6" fill="none" stroke="#333" stroke-width="1.3" stroke-linejoin="miter"/>
<path d="M116.4 2061.3v6.8M127.5 2061.3v6.8M129.3 2061.3v6.8M131.2 2061.3v6.8M133 2061.3v6.8M136.7 2067.6v6.8M140.4 2072.4v6.8M142.2 2074.9v6.8M145.9 2079.7v6.8M149.6 2082.3v6.8M153.3 2082.3v6.8M158.1 2082.3v6.8M162.6 2094.2v6.8M165.1 2094.2v6.8M171.1 2094.2v6.8M173.6 2094.2v6.8M176.6 2094.2v6.8M192.9 2094.2v6.8M205 2094.2v6.8M207.6 2094.2v6.8M209.8 2094.2v6.8M220.6 2094.2v6.8M222.8 2094.2v6.8M233.5 2094.2v6.8M236.5 2094.2v6.8M253.1 2094.2v6.8M263.1 2094.2v6.8M264.2 2094.2v6.8M272.3 2094.2v6.8M273.4 2094.2v6.8M297.4 2094.2v6.8M347.3 2094.2v6.8M365.8 2094.2v6.8M369.5 2094.2v6.8M386.1 2094.2v6.8M407.5 2094.2v6.8M461.8 2094.2v6.8M469.2 2094.2v6.8" fill="none" stroke="#333" stroke-width="1" opacity="0.75"/>
<path d="M101.6 2058 L103.7 2058 L103.7 2060.4 L108.7 2060.4 L108.7 2063.2 L110.8 2063.2 L110.8 2065.4 L114.4 2065.4 L114.4 2067.8 L116.3 2067.8 L116.3 2071.3 L119.2 2071.3 L119.2 2075.3 L121.9 2075.3 L121.9 2078.3 L122.8 2078.3 L122.8 2080.6 L124.5 2080.6 L124.5 2084.7 L126.3 2084.7 L126.3 2086 L127.5 2086 L127.5 2089.4 L130.3 2089.4 L130.3 2091.8 L132.3 2091.8 L132.3 2095.1 L133.6 2095.1 L133.6 2100 L136.7 2100 L136.7 2102.4 L137.8 2102.4 L137.8 2105 L139.9 2105 L139.9 2109.7 L140.6 2109.7 L140.6 2113.1 L142.2 2113.1 L142.2 2115.3 L144.8 2115.3 L144.8 2118.8 L146.7 2118.8 L146.7 2122.4 L149.6 2122.4 L149.6 2124.5 L151.7 2124.5 L151.7 2128.6 L153.8 2128.6 L153.8 2130.3 L155.2 2130.3 L155.2 2133.8 L213.5 2133.8 L213.5 2149.3 L297.4 2149.3 L297.4 2186.6 L541.2 2186.6" fill="none" stroke="#f4333a" stroke-width="1.3" stroke-linejoin="miter"/>
<path d="M157 2130.4v6.8M159.6 2130.4v6.8M162.2 2130.4v6.8M164.8 2130.4v6.8M167.4 2130.4v6.8M169.9 2130.4v6.8M172.5 2130.4v6.8M175.1 2130.4v6.8M177.7 2130.4v6.8M180.3 2130.4v6.8M182.9 2130.4v6.8M185.5 2130.4v6.8M188.1 2130.4v6.8M190.6 2130.4v6.8M193.2 2130.4v6.8M195.8 2130.4v6.8M198.4 2130.4v6.8M201 2130.4v6.8M203.6 2130.4v6.8M206.2 2130.4v6.8M208.7 2130.4v6.8M211.3 2130.4v6.8M215.4 2145.9v6.8M217.2 2145.9v6.8M219.8 2145.9v6.8M221.7 2145.9v6.8M224.3 2145.9v6.8M226.1 2145.9v6.8M240.1 2145.9v6.8M253.1 2145.9v6.8M270.8 2145.9v6.8M282.6 2145.9v6.8M301.1 2183.2v6.8M336.2 2183.2v6.8M400.9 2183.2v6.8M407.1 2183.2v6.8M424.9 2183.2v6.8M537.6 2183.2v6.8M105.3 2057v6.8M108.6 2057v6.8M111.9 2062v6.8M115.3 2064.4v6.8M118.6 2067.9v6.8M121.9 2074.9v6.8M125.2 2081.3v6.8M128.6 2086v6.8M131.9 2088.4v6.8M135.2 2096.6v6.8M138.5 2101.6v6.8M141.9 2109.7v6.8M145.2 2115.4v6.8M148.5 2119v6.8M151.8 2125.2v6.8" fill="none" stroke="#f4333a" stroke-width="1" opacity="0.75"/>
<line x1="118.2" y1="2367.6" x2="166.3" y2="2367.6" stroke="#333" stroke-width="2"/>
<line x1="118.2" y1="2400.5" x2="166.3" y2="2400.5" stroke="#f4333a" stroke-width="2"/>
<text x="176.6" y="2375.8" font-size="25">Low TBP (<tspan font-style="italic">n</tspan> = 63)</text>
<text x="176.6" y="2408.3" font-size="25">High TBP (<tspan fill="#f2222a"><tspan font-style="italic">n</tspan> = 111</tspan>)</text>
</g>
<g id="pl">
<text x="622" y="2047" font-size="39" font-weight="bold">l</text>
<rect x="721.1" y="2044.6" width="459.8" height="381.9" fill="none" stroke="#000" stroke-width="4.2"/>
<text x="709" y="2057.2" font-size="29" text-anchor="end">1.0</text>
<text x="709" y="2134.1" font-size="29" text-anchor="end">0.8</text>
<text x="709" y="2205.8" font-size="29" text-anchor="end">0.6</text>
<text x="709" y="2277.1" font-size="29" text-anchor="end">0.4</text>
<text x="709" y="2345.4" font-size="29" text-anchor="end">0.2</text>
<text x="709" y="2435.9" font-size="29" text-anchor="end">0</text>
<text x="721.9" y="2460.7" font-size="29" text-anchor="middle">0</text>
<text x="818.7" y="2460.7" font-size="29" text-anchor="middle">50</text>
<text x="914.8" y="2460.7" font-size="29" text-anchor="middle">100</text>
<text x="1016.7" y="2460.7" font-size="29" text-anchor="middle">150</text>
<text x="1142.4" y="2460.7" font-size="29" text-anchor="middle">200</text>
<text x="951" y="2497.7" font-size="29" text-anchor="middle">Months</text>
<text x="645.1" y="2229.8" font-size="29" text-anchor="middle" transform="rotate(-90 645.1 2229.8)">Probability</text>
<text x="972.4" y="2078.3" font-size="29" text-anchor="middle">Cervical cancer</text>
<text x="967.6" y="2111.6" font-size="29" text-anchor="middle">Disease free survival</text>
<text x="844.9" y="2268.6" font-size="25" text-anchor="middle">PDK4</text>
<text x="844.9" y="2294.5" font-size="25" text-anchor="middle">p = 0.034</text>
<path d="M723.8 2054.3 L726.8 2054.3 L726.8 2056 L729.1 2056 L729.1 2058.5 L733 2058.5 L733 2059.9 L734.9 2059.9 L734.9 2062.5 L739.7 2062.5 L739.7 2064.3 L742 2064.3 L742 2067.8 L743.9 2067.8 L743.9 2070 L747.8 2070 L747.8 2072.8 L752 2072.8 L752 2076.4 L755.2 2076.4 L755.2 2080.2 L757.3 2080.2 L757.3 2082.3 L758.5 2082.3 L758.5 2085 L760.7 2085 L760.7 2089.3 L762.6 2089.3 L762.6 2091.3 L765.5 2091.3 L765.5 2095.1 L767.9 2095.1 L767.9 2098.3 L770.1 2098.3 L770.1 2100.5 L773.6 2100.5 L773.6 2104.2 L777 2104.2 L777 2105.7 L779.4 2105.7 L779.4 2106.4 L782 2106.4 L782 2107.7 L785 2107.7 L785 2109.5 L788.4 2109.5 L788.4 2110.5 L836.5 2110.5 L836.5 2121.6 L921.4 2121.6 L921.4 2142.3 L1165.3 2142.3" fill="none" stroke="#1a1aff" stroke-width="3" stroke-linejoin="miter"/>
<path d="M789.2 2106.1v8.8M791.4 2106.1v8.8M794 2106.1v8.8M796.5 2106.1v8.8M799.5 2106.1v8.8M802.5 2106.1v8.8M806.9 2106.1v8.8M810.6 2106.1v8.8M818 2106.1v8.8M820.9 2106.1v8.8M824.6 2106.1v8.8M829.1 2106.1v8.8M832.8 2106.1v8.8M835 2106.1v8.8M842 2117.2v8.8M845.7 2117.2v8.8M848.3 2117.2v8.8M862.3 2117.2v8.8M864.2 2117.2v8.8M877.1 2117.2v8.8M886.3 2117.2v8.8M897.4 2117.2v8.8M904.8 2117.2v8.8M931.8 2137.9v8.8M958.4 2137.9v8.8M970.6 2137.9v8.8M996.1 2137.9v8.8M1003.4 2137.9v8.8M1029.7 2137.9v8.8M1045.2 2137.9v8.8M1047 2137.9v8.8M1057.4 2137.9v8.8M727.5 2051.6v8.8M731.2 2054.1v8.8M734.9 2055.5v8.8M738.5 2058.1v8.8M742.2 2063.4v8.8M745.9 2065.6v8.8M749.6 2068.4v8.8M753.3 2072v8.8M757 2075.8v8.8M760.7 2080.6v8.8M764.4 2086.9v8.8M768.1 2093.9v8.8M771.8 2096.1v8.8M775.5 2099.8v8.8M779.2 2101.3v8.8M782.9 2103.3v8.8M786.6 2105.1v8.8" fill="none" stroke="#1a1aff" stroke-width="1.8" opacity="0.75"/>
<path d="M723.8 2054.3 L724.9 2054.3 L724.9 2057.9 L726.9 2057.9 L726.9 2059 L727.8 2059 L727.8 2062.6 L729.3 2062.6 L729.3 2065.4 L731 2065.4 L731 2068.6 L735.2 2068.6 L735.2 2071.2 L737.2 2071.2 L737.2 2074.5 L739.8 2074.5 L739.8 2079.6 L742.2 2079.6 L742.2 2082 L743.1 2082 L743.1 2084.2 L744.1 2084.2 L744.1 2088.8 L745.2 2088.8 L745.2 2091.1 L746.7 2091.1 L746.7 2096.3 L747.8 2096.3 L747.8 2098.7 L748.9 2098.7 L748.9 2101.5 L750.4 2101.5 L750.4 2104 L751.5 2104 L751.5 2107.2 L752.8 2107.2 L752.8 2112 L753.6 2112 L753.6 2114.2 L755.2 2114.2 L755.2 2117.1 L758.1 2117.1 L758.1 2119.6 L760.3 2119.6 L760.3 2124.7 L764.4 2124.7 L764.4 2126 L766.3 2126 L766.3 2130.1 L767.9 2130.1 L767.9 2134 L768.9 2134 L768.9 2136.2 L770.2 2136.2 L770.2 2138.7 L772.3 2138.7 L772.3 2142.1 L773.6 2142.1 L773.6 2144.9 L778 2144.9 L778 2147.5 L781 2147.5 L781 2152.2 L801.4 2152.2 L801.4 2161.5 L1167.1 2161.5" fill="none" stroke="#ff1a1a" stroke-width="3" stroke-linejoin="miter"/>
<path d="M781.8 2147.8v8.8M784.7 2147.8v8.8M787.7 2147.8v8.8M790.6 2147.8v8.8M793.6 2147.8v8.8M797.7 2147.8v8.8M800.2 2147.8v8.8M806.9 2157.1v8.8M814.3 2157.1v8.8M816.1 2157.1v8.8M821.7 2157.1v8.8M825.4 2157.1v8.8M829.1 2157.1v8.8M830.9 2157.1v8.8M838.3 2157.1v8.8M842 2157.1v8.8M856.8 2157.1v8.8M864.2 2157.1v8.8M894.8 2157.1v8.8M920.3 2157.1v8.8M923.3 2157.1v8.8M935.5 2157.1v8.8M989.8 2157.1v8.8M993.5 2157.1v8.8M1009.4 2157.1v8.8M1024.9 2157.1v8.8M1028.6 2157.1v8.8M1160.8 2157.1v8.8M727.5 2054.6v8.8M731.2 2064.2v8.8M734.9 2064.2v8.8M738.5 2070.1v8.8M742.2 2077.6v8.8M745.9 2086.7v8.8M749.6 2097.1v8.8M753.3 2107.6v8.8M757 2112.7v8.8M760.7 2120.3v8.8M764.4 2120.3v8.8M768.1 2129.6v8.8M771.8 2134.3v8.8M775.5 2140.5v8.8M779.2 2143.1v8.8" fill="none" stroke="#ff1a1a" stroke-width="1.8" opacity="0.75"/>
<line x1="748.9" y1="2369.5" x2="794" y2="2369.5" stroke="#1a1aff" stroke-width="2.8"/>
<line x1="748.9" y1="2393.1" x2="794" y2="2393.1" stroke="#ff1a1a" stroke-width="2.8"/>
<text x="804.3" y="2375.8" font-size="23">Low PDK4 (<tspan font-style="italic">n</tspan> = 146)</text>
<text x="804.3" y="2399.8" font-size="23">High PDK4 (<tspan fill="#f2222a"><tspan font-style="italic">n</tspan> = 145</tspan>)</text>
</g>
<g id="pm">
<text x="1214" y="2045.6" font-size="39" font-weight="bold">m</text>
<rect x="1310.8" y="2043.6" width="460" height="382.4" fill="none" stroke="#000" stroke-width="4.5"/>
<text x="1298.9" y="2057.7" font-size="29" text-anchor="end">1.0</text>
<text x="1298.9" y="2134.9" font-size="29" text-anchor="end">0.8</text>
<text x="1298.9" y="2206.4" font-size="29" text-anchor="end">0.6</text>
<text x="1298.9" y="2277.3" font-size="29" text-anchor="end">0.4</text>
<text x="1298.9" y="2346" font-size="29" text-anchor="end">0.2</text>
<text x="1298.9" y="2436" font-size="29" text-anchor="end">0</text>
<text x="1312.1" y="2461.3" font-size="29" text-anchor="middle">0</text>
<text x="1408.2" y="2461.3" font-size="29" text-anchor="middle">50</text>
<text x="1504.3" y="2461.3" font-size="29" text-anchor="middle">100</text>
<text x="1606.8" y="2461.3" font-size="29" text-anchor="middle">150</text>
<text x="1732.1" y="2461.3" font-size="29" text-anchor="middle">200</text>
<text x="1539.9" y="2497.6" font-size="29" text-anchor="middle">Months</text>
<text x="1235.6" y="2230.7" font-size="29" text-anchor="middle" transform="rotate(-90 1235.6 2230.7)">Probability</text>
<text x="1562" y="2081.2" font-size="29" text-anchor="middle">Cervical cancer</text>
<text x="1559.5" y="2113.2" font-size="29" text-anchor="middle">Overall survival</text>
<text x="1341.7" y="2265.5" font-size="25">PDK4</text>
<text x="1341.7" y="2291.2" font-size="25">p = 0.04</text>
<path d="M1313.9 2056.3 L1315.9 2056.3 L1315.9 2058.6 L1318.9 2058.6 L1318.9 2060.9 L1320.5 2060.9 L1320.5 2062.1 L1322.8 2062.1 L1322.8 2064.2 L1326.1 2064.2 L1326.1 2066.1 L1328.1 2066.1 L1328.1 2068.7 L1329.7 2068.7 L1329.7 2070.5 L1331.1 2070.5 L1331.1 2073 L1333.2 2073 L1333.2 2075.4 L1333.9 2075.4 L1333.9 2077.1 L1335.6 2077.1 L1335.6 2080.2 L1338 2080.2 L1338 2082.2 L1339.6 2082.2 L1339.6 2084.3 L1341.3 2084.3 L1341.3 2086.6 L1342.4 2086.6 L1342.4 2088.3 L1343.4 2088.3 L1343.4 2091.1 L1344.9 2091.1 L1344.9 2093.2 L1346.3 2093.2 L1346.3 2095 L1347.4 2095 L1347.4 2097.2 L1348.7 2097.2 L1348.7 2099 L1350.4 2099 L1350.4 2102.4 L1351.9 2102.4 L1351.9 2104.5 L1352.8 2104.5 L1352.8 2106.8 L1353.7 2106.8 L1353.7 2109 L1355.3 2109 L1355.3 2110.4 L1356.6 2110.4 L1356.6 2113.2 L1358.3 2113.2 L1358.3 2115.4 L1360.5 2115.4 L1360.5 2117.4 L1363.2 2117.4 L1363.2 2119.5 L1364.6 2119.5 L1364.6 2121.7 L1367.3 2121.7 L1367.3 2123.9 L1368.4 2123.9 L1368.4 2125.7 L1369.7 2125.7 L1369.7 2128.1 L1370.9 2128.1 L1370.9 2130.8 L1373 2130.8 L1373 2132.6 L1374.2 2132.6 L1374.2 2135.7 L1374.9 2135.7 L1374.9 2136.7 L1376.9 2136.7 L1376.9 2140 L1378 2140 L1378 2141.7 L1379.9 2141.7 L1379.9 2143.5 L1381.4 2143.5 L1381.4 2147 L1383.8 2147 L1383.8 2149.3 L1384.7 2149.3 L1384.7 2151.8 L1386.7 2151.8 L1386.7 2153.9 L1388.6 2153.9 L1388.6 2155.9 L1390.2 2155.9 L1390.2 2157.8 L1393.1 2157.8 L1393.1 2159 L1394.6 2159 L1394.6 2160.3 L1397.3 2160.3 L1397.3 2161.7 L1399.3 2161.7 L1399.3 2163 L1401.4 2163 L1401.4 2165.4 L1403.8 2165.4 L1403.8 2166.9 L1405.9 2166.9 L1405.9 2169.5 L1408.2 2169.5 L1408.2 2170.9 L1410.5 2170.9 L1410.5 2173.6 L1413.5 2173.6 L1413.5 2175.5 L1454.5 2175.5 L1454.5 2183.3 L1484.7 2183.3 L1484.7 2192.2 L1509.6 2192.2 L1509.6 2201.5 L1522.1 2201.5 L1522.1 2212.9 L1524.6 2212.9 L1524.6 2222.8 L1591.5 2222.8 L1591.5 2237.1 L1755.2 2237.1" fill="none" stroke="#222" stroke-width="1.5" stroke-linejoin="miter"/>
<path d="M1313.9 2063.4 L1315.4 2063.4 L1315.4 2066.3 L1316.3 2066.3 L1316.3 2069 L1318 2069 L1318 2071.1 L1319.1 2071.1 L1319.1 2075.8 L1321 2075.8 L1321 2077.6 L1322.8 2077.6 L1322.8 2080.2 L1325.4 2080.2 L1325.4 2083.8 L1328.1 2083.8 L1328.1 2086.5 L1330.1 2086.5 L1330.1 2087.2 L1333.6 2087.2 L1333.6 2088.1 L1335.7 2088.1 L1335.7 2088.6 L1339.5 2088.6 L1339.5 2089.6 L1342.4 2089.6 L1342.4 2090.1 L1343.8 2090.1 L1343.8 2093.1 L1345.4 2093.1 L1345.4 2095.7 L1346.2 2095.7 L1346.2 2099.2 L1348.5 2099.2 L1348.5 2102.7 L1349.2 2102.7 L1349.2 2105.6 L1351.3 2105.6 L1351.3 2107.7 L1352.4 2107.7 L1352.4 2111 L1353.5 2111 L1353.5 2113.8 L1354.9 2113.8 L1354.9 2117 L1356.6 2117 L1356.6 2120.3 L1358 2120.3 L1358 2123 L1360.3 2123 L1360.3 2126.5 L1363.2 2126.5 L1363.2 2127.9 L1365.6 2127.9 L1365.6 2131.1 L1367.3 2131.1 L1367.3 2134.6 L1369.4 2134.6 L1369.4 2137.5 L1371.3 2137.5 L1371.3 2139.8 L1373.6 2139.8 L1373.6 2142.4 L1376.4 2142.4 L1376.4 2145.2 L1378 2145.2 L1378 2148.8 L1380.6 2148.8 L1380.6 2151.1 L1381.9 2151.1 L1381.9 2154.3 L1383.7 2154.3 L1383.7 2156.6 L1386.3 2156.6 L1386.3 2160.1 L1388.6 2160.1 L1388.6 2163 L1392 2163 L1392 2165.4 L1394 2165.4 L1394 2166.6 L1394.7 2166.6 L1394.7 2192.2 L1452 2192.2 L1452 2222.8 L1453.8 2222.8 L1453.8 2260.9 L1508.9 2260.9 L1508.9 2335.7 L1516.8 2335.7" fill="none" stroke="#f4333a" stroke-width="1.5" stroke-linejoin="miter"/>
<path d="M1315.7 2052.9v6.8M1312.3 2056.3h6.8M1317.8 2055.2v6.8M1314.4 2058.6h6.8M1319.9 2057.5v6.8M1316.5 2060.9h6.8M1322.1 2058.7v6.8M1318.7 2062.1h6.8M1324.2 2060.8v6.8M1320.8 2064.2h6.8M1326.3 2062.7v6.8M1322.9 2066.1h6.8M1328.5 2065.3v6.8M1325.1 2068.7h6.8M1330.6 2067.1v6.8M1327.2 2070.5h6.8M1332.8 2069.6v6.8M1329.4 2073h6.8M1334.9 2073.7v6.8M1331.5 2077.1h6.8M1337 2076.8v6.8M1333.6 2080.2h6.8M1339.2 2078.8v6.8M1335.8 2082.2h6.8M1341.3 2083.2v6.8M1337.9 2086.6h6.8M1343.4 2084.9v6.8M1340 2088.3h6.8M1345.6 2089.8v6.8M1342.2 2093.2h6.8M1347.7 2093.8v6.8M1344.3 2097.2h6.8M1349.8 2095.6v6.8M1346.4 2099h6.8M1352 2101.1v6.8M1348.6 2104.5h6.8M1354.1 2105.6v6.8M1350.7 2109h6.8M1356.2 2107v6.8M1352.8 2110.4h6.8M1358.4 2112v6.8M1355 2115.4h6.8M1360.5 2114v6.8M1357.1 2117.4h6.8M1362.7 2114v6.8M1359.3 2117.4h6.8M1364.8 2118.3v6.8M1361.4 2121.7h6.8M1366.9 2118.3v6.8M1363.5 2121.7h6.8M1369.1 2122.3v6.8M1365.7 2125.7h6.8M1371.2 2127.4v6.8M1367.8 2130.8h6.8M1373.3 2129.2v6.8M1369.9 2132.6h6.8M1375.5 2133.3v6.8M1372.1 2136.7h6.8M1377.6 2136.6v6.8M1374.2 2140h6.8M1379.7 2138.3v6.8M1376.3 2141.7h6.8M1381.9 2143.6v6.8M1378.5 2147h6.8M1384 2145.9v6.8M1380.6 2149.3h6.8M1386.1 2148.4v6.8M1382.7 2151.8h6.8M1388.3 2150.5v6.8M1384.9 2153.9h6.8M1390.4 2154.4v6.8M1387 2157.8h6.8M1392.5 2154.4v6.8M1389.1 2157.8h6.8M1394.7 2156.9v6.8M1391.3 2160.3h6.8M1396.8 2156.9v6.8M1393.4 2160.3h6.8M1399 2158.3v6.8M1395.6 2161.7h6.8M1401.1 2159.6v6.8M1397.7 2163h6.8M1403.2 2162v6.8M1399.8 2165.4h6.8M1405.4 2163.5v6.8M1402 2166.9h6.8M1407.5 2166.1v6.8M1404.1 2169.5h6.8M1409.6 2167.5v6.8M1406.2 2170.9h6.8M1411.8 2170.2v6.8M1408.4 2173.6h6.8M1417.1 2172.1v6.8M1413.7 2175.5h6.8M1420.7 2172.1v6.8M1417.3 2175.5h6.8M1424.2 2172.1v6.8M1420.8 2175.5h6.8M1429.6 2172.1v6.8M1426.2 2175.5h6.8M1433.1 2172.1v6.8M1429.7 2175.5h6.8M1436.7 2172.1v6.8M1433.3 2175.5h6.8M1445.6 2172.1v6.8M1442.2 2175.5h6.8M1452.7 2172.1v6.8M1449.3 2175.5h6.8M1458 2179.9v6.8M1454.6 2183.3h6.8M1465.2 2179.9v6.8M1461.8 2183.3h6.8M1475.8 2179.9v6.8M1472.4 2183.3h6.8M1482.9 2179.9v6.8M1479.5 2183.3h6.8M1488.3 2188.8v6.8M1484.9 2192.2h6.8M1495.4 2188.8v6.8M1492 2192.2h6.8M1511.4 2198.1v6.8M1508 2201.5h6.8M1513.2 2198.1v6.8M1509.8 2201.5h6.8M1521.4 2198.1v6.8M1518 2201.5h6.8M1548.8 2219.4v6.8M1545.4 2222.8h6.8M1579 2219.4v6.8M1575.6 2222.8h6.8M1582.6 2219.4v6.8M1579.2 2222.8h6.8M1586.2 2219.4v6.8M1582.8 2222.8h6.8M1598.6 2233.7v6.8M1595.2 2237.1h6.8M1612.9 2233.7v6.8M1609.5 2237.1h6.8M1618.2 2233.7v6.8M1614.8 2237.1h6.8M1620 2233.7v6.8M1616.6 2237.1h6.8M1634.9 2233.7v6.8M1631.5 2237.1h6.8M1637.1 2233.7v6.8M1633.7 2237.1h6.8M1646.7 2233.7v6.8M1643.3 2237.1h6.8M1674.4 2233.7v6.8M1671 2237.1h6.8M1681.2 2233.7v6.8M1677.8 2237.1h6.8M1750.9 2233.7v6.8M1747.5 2237.1h6.8M1752.4 2233.7v6.8M1749 2237.1h6.8" fill="none" stroke="#222" stroke-width="1.3"/>
<path d="M1316.7 2065.6v6.8M1313.3 2069h6.8M1319.9 2072.4v6.8M1316.5 2075.8h6.8M1323.1 2076.8v6.8M1319.7 2080.2h6.8M1326.3 2080.4v6.8M1322.9 2083.8h6.8M1329.6 2083.1v6.8M1326.2 2086.5h6.8M1332.8 2083.8v6.8M1329.4 2087.2h6.8M1336 2085.2v6.8M1332.6 2088.6h6.8M1339.2 2085.2v6.8M1335.8 2088.6h6.8M1342.4 2086.7v6.8M1339 2090.1h6.8M1345.6 2092.3v6.8M1342.2 2095.7h6.8M1348.8 2099.3v6.8M1345.4 2102.7h6.8M1352 2104.3v6.8M1348.6 2107.7h6.8M1355.2 2113.6v6.8M1351.8 2117h6.8M1358.4 2119.6v6.8M1355 2123h6.8M1361.6 2123.1v6.8M1358.2 2126.5h6.8M1364.8 2124.5v6.8M1361.4 2127.9h6.8M1368 2131.2v6.8M1364.6 2134.6h6.8M1371.2 2134.1v6.8M1367.8 2137.5h6.8M1374.4 2139v6.8M1371 2142.4h6.8M1377.6 2141.8v6.8M1374.2 2145.2h6.8M1380.8 2147.7v6.8M1377.4 2151.1h6.8M1384 2153.2v6.8M1380.6 2156.6h6.8M1387.2 2156.7v6.8M1383.8 2160.1h6.8M1390.4 2159.6v6.8M1387 2163h6.8M1393.6 2162v6.8M1390.2 2165.4h6.8M1404.6 2188.8v6.8M1401.2 2192.2h6.8M1417.8 2188.8v6.8M1414.4 2192.2h6.8M1427.8 2188.8v6.8M1424.4 2192.2h6.8M1431.3 2188.8v6.8M1427.9 2192.2h6.8M1452.7 2219.4v6.8M1449.3 2222.8h6.8M1457 2257.5v6.8M1453.6 2260.9h6.8M1483.7 2257.5v6.8M1480.3 2260.9h6.8M1514.6 2332.3v6.8M1511.2 2335.7h6.8" fill="none" stroke="#f4333a" stroke-width="1.3"/>
<line x1="1334.5" y1="2367" x2="1382.2" y2="2367" stroke="#222" stroke-width="2"/>
<line x1="1334.5" y1="2400.4" x2="1382.2" y2="2400.4" stroke="#f4333a" stroke-width="2"/>
<text x="1392.9" y="2373.7" font-size="23">Low PDK4 (<tspan font-style="italic">n</tspan> = 226)</text>
<text x="1392.9" y="2406.8" font-size="23">High PDK4 (<tspan fill="#f2222a"><tspan font-style="italic">n</tspan> = 78</tspan>)</text>
</g>
</svg>
</body></html>
